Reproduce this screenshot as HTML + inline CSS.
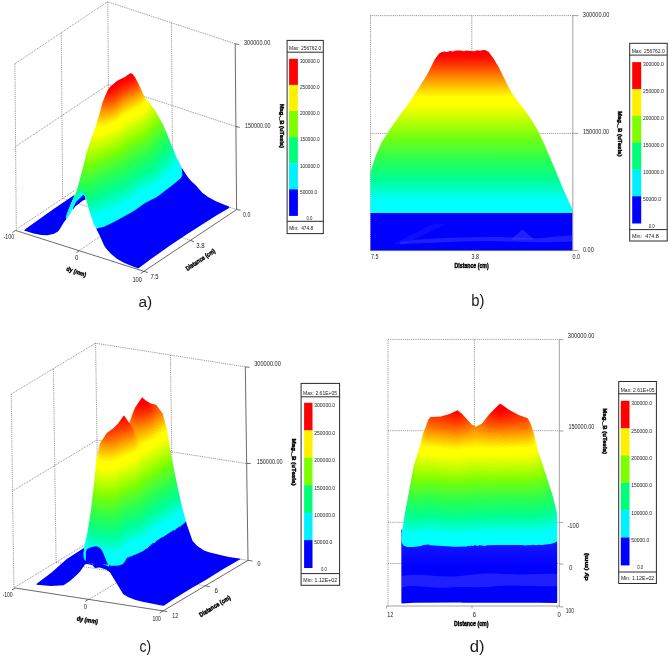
<!DOCTYPE html>
<html><head><meta charset="utf-8"><style>
html,body{margin:0;padding:0;background:#fff}
svg{display:block;will-change:transform}
text{font-family:"Liberation Sans",sans-serif;fill:#1a1a1a}
.bt{font-weight:bold;fill:#000;stroke:#000;stroke-width:0.4}
.d{stroke:#7a7a7a;stroke-width:0.85;stroke-dasharray:0.95 0.95;fill:none}
.s{stroke:#3a3a3a;stroke-width:0.75;fill:none}
.g{stroke:#8a8a8a;stroke-width:0.8;fill:none}
.cb{stroke:#2a2a2a;stroke-width:1;fill:none}
</style></head><body>
<svg width="669" height="657" viewBox="0 0 669 657">
<rect width="669" height="657" fill="#fff"/>
<line x1="14.9" y1="63.7" x2="107.6" y2="1.8" class="d"/>
<line x1="14.9" y1="63.7" x2="16.3" y2="229.4" class="d"/>
<line x1="61.3" y1="32.8" x2="62.6" y2="198.4" class="d"/>
<line x1="107.8" y1="1.8" x2="109" y2="167.5" class="d"/>
<line x1="15.6" y1="146.5" x2="108.3" y2="84.6" class="d"/>
<line x1="16.3" y1="229.4" x2="109" y2="167.5" class="d"/>
<line x1="107.6" y1="1.8" x2="235.2" y2="43.7" class="d"/>
<line x1="171.4" y1="22.7" x2="172.8" y2="188.4" class="d"/>
<line x1="108.3" y1="84.6" x2="235.9" y2="126.5" class="d"/>
<line x1="109" y1="167.5" x2="236.6" y2="209.5" class="d"/>
<line x1="79.6" y1="250.3" x2="172.2" y2="188.4" class="d"/>
<line x1="62.6" y1="198.4" x2="190.2" y2="240.3" class="d"/>
<mask id="cv1" maskUnits="userSpaceOnUse" x="0" y="0" width="669" height="657"><path fill="#fff" d="M138.6 268.2l-1 0-4.7-1.8-9-3.7-7-4-6.3-5.2-4.7-5.3-1.8-2.6-4.9-11.2-5.4-10.5-3.7-10.5-4-14.2-3.2 1.4-7 5.3-4.1 4.5-2.9 5.7-4.8 6-5.2 8.4-1.7 1.4-3.1 1.8-6.7 1.5-5.8-.2-8-1.6-9.6-2.8 1.5-1.5 28.8-20.7 17.1-11.3 4-2.9 2.3-6.8 9.9-38 8.1-23.3 4.2-14 2.2-8.5 3-7.7 3-6.3 2-2.8 7.5-6.4 5.3-2.3.5-.5 1.5-.4.6-.8 4.6-3.1 2 .3 2.8 3.5 3.3 5.8 6.6 14.5 4.2 4.7 5.4 7.3 6.3 11 2.2 4.2 3.5 8 10.2 25 6.5 12.3 5 7.5 2.5 3.2 5.4 5 6.5 7.3 2.3 1.7 3.3 2.3 7.8 4.3 14 5.9-1.5 1.3-11.3 6.7-30.2 19.2-17.6 11.8-17.7 12.5-13 9.6z"/></mask>
<g mask="url(#cv1)"><rect x="0" y="0" width="250.0" height="285.0" fill="#0000ff"/>
<path fill-rule="evenodd" fill="#00ffff" d="M78.4 239.7l.3-10.8-7.6-6.3-4.2-2.9-.6-.6-.6-2.2 9.4-22.3-4.2-4.1-23-16.7-47.8-33.3 0-140.4 249.8 0 0 128.8-8 5.6-45 24.5-9.3 5.6-5.2 2.6-.7.7.7 7.2-1.4 3-7.1 6-17 12.8-12.3 6.4-10.7 7.6-19 10.7-10.8 5.2-7.2 1.8-18.5 11.1zM80.2 215.9l3.5-11.5 2.3-5-.9-3.1-1.5-1.7-7.7 7.4-3.7 7.6 3.2 3.1 4.8 3.2z"/>
<path fill-rule="evenodd" fill="#00ffff" d="M78.6 236.3l-.3-2.7.5-4.7-6.7-5.5-5-5-.8-2.3 1.6-4.9 7.2-16.6-4.2-4.1-23-16.7-47.8-33.3 0-140.4 249.8 0 0 128.8-5.8 4.2-29.7 16.3-32.8 16.3-.6.7.6.2-.6.8.6 3.2 0 4-1.5 2.8-6.8 5.7-15.4 11.6-13.8 7.3-13.2 9.2-17.8 9.8-8.7 4.2-5 1.6-3 .5-17.8 9zM80.2 215.9l3.5-11.5 2.4-5-1-3.2-1.7-1.9-7.5 7.1-3.8 8.2 1.5 1.8 6.3 4.6.3-.1z"/>
<path fill-rule="evenodd" fill="#00ffff" d="M78.6 234.9l-.1-4 .6-4.4-10.4-8.1-1-1-.8-2.3 1.2-4.4 7-16.1-4.2-4.1-23-16.7-47.8-33.3 0-140.4 249.8 0 0 126.7-32 17-25 14-11.8 7.2-.6.6.5 4-.2 3.5-.9 2.6-1.4 1.7-19.1 15-9.5 5.4-5.8 2.7-5 3.4-1.1 1.2-8.4 5.5-16.5 9-10 4.7-7.5 1.6-.5.7-16.5 8.3zM80.2 215.9l3.5-11.5 2.4-5-1-3.2-2-2.3-1 .5-5.7 5.7-4.3 9.5 1.5 1.8 6.3 4.6.3-.1z"/>
<path fill-rule="evenodd" fill="#00ffff" d="M78.9 232.9l-.3-2 1-7.1-10.5-6.8-.7-.6-.9-2.8.6-2.7 7-16.5-4.2-3.9-23-16.7-47.8-33.3 0-140.4 249.8 0 0 126.6-32 17-25.5 14.4-11.8 5.8-.7.7.4 4-.4 4.3-1.5 2.7-6.6 5.8-14.9 11.2-1.3.3-1.7 1.4-.5-.1-2.8 1.4-5.7 3.3-.8 0-4.3 3-1 1.2-9.4 6.3-1.6.5-18.4 10.1-7.8 3.3-6.7 1.2-.5.6-15.5 7.8zM80.3 215.9l3.4-11.5 2.4-5-1.2-3.7-2.3-2.4-5.7 5.6-4.9 10.7 1.6 1.9 6.3 4.5.4-.1z"/>
<path fill-rule="evenodd" fill="#00ffff" d="M79.1 228.6l.8-7.7-10.8-5.3-1.1-3 .9-3.5 6.3-14.7-4.3-3.9-23-16.7-47.8-33.3 0-140.4 249.8 0 0 126.6-30.3 16.1-38.5 19.2-1.7 1.4.4 4.2-.8 4.5-.9 1.8-1.7 2-10.6 8.2-.4.8-1.8 1-.4.7-2.1 1.3-.6 1-4.4 2.7-1.2.3-1.5 1.2-1.3.3-1 1-5.7 2.6-1 .9-1.3.3-10.8 8.2-1.9.6-16.8 9.5-9.7 4.5-6 1.7-3.5.5-.5.5-14.8 4.9zM80.3 215.9l3.5-11.5 2.3-5-1.2-3.8-2.5-2.8-5.5 5.6-4.9 11.2 1.6 1.9 6.3 4.6.4-.2z"/>
<path fill-rule="evenodd" fill="#00ffff" d="M79.6 227.4l-.3-1 .5-1.8.1-4.6-9.8-4.8-.7-.6-.8-2.9.5-2.9 6.1-14.4-4.3-3.9-23-16.7-47.8-33.3 0-140.4 249.8 0 0 124.5-57.3 28.5-12.2 7.5-1.6 1.5.4.5 0 4.3-1 4.5-2.5 3.5-12.4 9.7-.3.8-1.9 1-.6 1-5.4 3.6-.7-.1-1.8 1.3-.5-.1-1.7 1.2-1 .2-1 1-1.5.3-3.8 2-11.5 8.6-25 13-6.7 2.4-7.5 1.6-12.8 5zM80.3 215.9l3.5-11.5 2.3-5-1.2-3.8-2.8-3.1-4.7 4.6-5.5 12.5 1.7 1.9 6.3 4.6.4-.2z"/>
<path fill-rule="evenodd" fill="#00ffff" d="M79.6 227.1l.4-8.2-9.4-4.7-.7-.6-.6-2.7.3-3 5.6-13.5-4.3-3.9-23-16.7-47.8-33.3 0-140.4 249.8 0 0 124.4-57.3 28.5-13.5 8.1-.7.8.1 4.7-1.4 4.5-2.7 3.3-11.3 9-.3.7-1.9 1-1 1.3-4.8 3.1-4 1.8-1.2 1.1-.8 0-1.7 1.3-4.8 2.1-11.7 8.6-1 .2-1.8 1.3-1 .2-1.7 1.3-18.8 9.6-6.2 2.2-7 1.5-.5.7-4.5 2.2-8.8 3.5zM80.3 215.9l3.5-11.5 2.3-5-1.2-3.9-3-3.4-4.3 4.2-5.7 13.3 1.7 1.9 6.3 4.6.4-.2z"/>
<path fill-rule="evenodd" fill="#00ffff" d="M80.1 224.3l-.3-1.4.3-5.1-9-4.5-.7-.7-.3-1.5-.3-2.7.6-2.2 4.8-11.8-4.3-3.9-23-16.8-47.8-33.2 0-140.4 249.8 0 0 124.4-71.3 35.7-.7.7 0 4.7-1.8 5-3.7 4-8 6.3-1.9 2-1.8 1-.4.7-6.2 4.1-1 .1-6 3.7-5.2 2.3-2.2 2.1-3.7 2.2-1 1.3-4.1 2.6-22.8 11.8-7.7 2.9-7.3 1.7-1.7 1.1-11.3 3.8zM80.3 215.9l3.5-11.5 2.4-5-1.3-3.9-3.3-3.8-3.7 3.7-6.1 14.2 1.8 2 6.3 4.5.4-.2z"/>
<path fill-rule="evenodd" fill="#00ffff" d="M80.1 223.1l0-7 3.7-11.7 2.4-5-.8-3-2.7-3.8-1.3-1.1-3 2.5-6.7 15.6.7 1.1 6.2 4.6-6.5-3.2-1.2-.1-.5-5.4 4.8-12.2-4.3-3.9-23-16.8-47.8-33.2 0-140.4 249.8 0 0 124.3-57.5 28.8-14.3 6-.6.7-.2 4.5-1.8 5-3.8 4.2-7.6 5.9-1.9 2.1-1.7 1-.4.8-6.5 4.2-12.2 6.2-.9 1.1-4.4 2.7-1 1.3-5.5 3.5-22.2 11.2-8.5 3.1-6.3 1.4-12.5 5z"/>
<path fill-rule="evenodd" fill="#00fff8" d="M80.6 221.1l-.5-.2.1-4.8 3.6-11.7 2.4-5.5-1.3-3.5-3.3-4-3.5 2.8-5.2 13.2-1.3 2.2.8 1.2 2.5 1.8-3.5-1.7-.6-2.3.3-3.2 4.1-10.5-.4-1-4.9-4.2-22-16-47.8-33.2 0-140.4 249.8 0 0 123-22.8 10.1-49.5 24.7-.7.7-.3 5.5-1.7 4-4.4 5-5.2 4-5.5 5-6.9 4.6-3.5 1.5-1 1-5.5 2.4-13.4 9.5-23.9 11.8-5.5 2-7.5 1.8-1 .7-11 3.7z"/>
<path fill-rule="evenodd" fill="#00ffef" d="M80.4 220.2l-.2-4.1 1.4-5.2 4.6-12-1.3-3.5-3.2-4-3.6 2.6-5.2 13.4-1.3 1.7.1-5.2 3.6-9-.5-1-4.9-4.2-22-16-47.8-33.2 0-140.4 249.8 0 0 123-35 15.5-37.8 18.7-.5.6-.5 4.7-1.8 4.3-4.4 5.2-5.3 4-4.6 4.5-2.6 1.5-1 1.3-4 2.3-.8-.1-1.7 1.5-.5-.2-3.8 2.3-1 .2-1.5 1.1-1 .2-4.7 3.1-1.3 1.6-7.5 4.7-16.2 8.4-5.8 2.4-11.2 4-3 .5-2.3 1.5-9.7 3.3z"/>
<path fill-rule="evenodd" fill="#00ffe6" d="M80.9 218.8l-.5 0-.1-2.7 1.3-5.2 4.7-12-1.4-3.5-3.1-4-.7 0-3 2.5-3.7 9.8-2.3 4.5-.4-1.6.3-2.7 3.3-9-.5-1-4.9-4.2-22-16-47.8-33.2 0-140.4 249.8 0 0 122.9-63.3 28.1-10 5-.5.5 0 2-.7 3.9-3.4 5.4-4.2 4.5-12.4 10.3-13.5 6.8-4.5 2.9-1.1 1.5-7.9 5.1-3 1.1-1.3 1.1-1 .1-5.5 3.2-11.5 5.2-11.7 4.1-3 .5-1.8 1.2-8.7 3.3z"/>
<path fill-rule="evenodd" fill="#00ffde" d="M80.9 217l-.5 0 0-1.1 1.2-5 4.7-12-1.4-3.5-3.3-4.2-3.5 2.7-5.6 13.2-.3-3 .9-3.8 2.2-5.4-.5-1-4.9-4.2-22-16-47.8-33.2 0-140.4 249.8 0 0 122.9-73.5 32.5-.7.9-.7 4.5-3.8 6.2-4.3 4.4-7.3 6.6-2 1-.8 1.3-14.7 8-.7-.1-1 1.1-2.8 1.5-1.2 1.5-4.3 2.5-1.2 1.2-13.3 7-19.2 8.1-7.5 1.9-1.8 1.2-8.2 2.7z"/>
<path fill-rule="evenodd" fill="#00ffd5" d="M80.9 215.2l.9-5.1 4.5-11.2-1.3-3.5-3.4-4.3-3.6 2.8-3.8 10-1.3 2-.2-3.3 2.6-7.7-.5-1-4.9-4.2-22-16-47.8-33.2 0-140.4 249.8 0 0 122.8-34.5 15.4-35.5 14-4 2-.6.6-.1 2-1.2 4-3.2 4.7-6 6.3-2.7 2-1.3 1.7-7.4 5.5-12.8 6.4-2.8 1.9-1.3 1.5-3.2 1.7-2.5 2.3-13.2 6.8-20.7 8.6-6.5 1.6-1.5 1.3-8 2z"/>
<path fill-rule="evenodd" fill="#00ffcc" d="M81.4 213.1l.2-2.2 2.2-6.5 2.5-5.5-1.3-3.5-3.3-4.3-3.7 2.8-3.9 10-1 1 0-3 2.3-7.3-.5-.7-5-4.2-22-16-47.8-33.2 0-140.4 249.8 0 0 122.8-30.8 13.7-40 16-3.5 1-.7.8-1 4.8-4.5 6.2-10.3 10.2-6.7 4.7-12 5.9-11 8.2-1 .2-10.8 5.7-17.5 7-3.2 1.7-15.5 4.1z"/>
<path fill-rule="evenodd" fill="#00ffc4" d="M81.4 212.7l2.4-8.3 2.5-5.5-1.3-3.5-3.3-4.3-3.8 2.8-3.5 9.2-.8.9-.3-2.1 2.1-7.8-1.8-1-3.7-3.4-34.3-24.7-35.5-24.5 0-140.4 249.8 0 0 122.2-61 24.2-13.8 6-.7.6-1 4.8-1.4 2.5-5.6 6.6-6.2 5.6-1.3 1.8-1.6.7-.2.8-5.7 3.5-2.8 1.2-1.5 1.2-.7 0-7.7 4.1-1.3 1.5-3 1.7-2 2-3 1.9-10.3 5.2-19 7.7-3.5 1.9-7 1.5-1.5 1.2-6.7 2.2z"/>
<path fill-rule="evenodd" fill="#00ffbc" d="M81.9 210.9l1.9-6.5 2.5-5.5-1.3-3.5-3.2-4.3-.7.1-3.2 2.7-2.4 6.5-1.6 2.7-.1-3 1.6-6.1-1.8-.9-3.7-3.4-34.3-24.7-35.5-24.5 0-140.4 249.8 0 0 122.1-71.5 28.7-3.5 1-.7.7-1.5 4.8-1.2 2-5 5.7-5.6 5.8-1 .5-1.2 1.7-7.5 5.3-.8 0-3.8 2.2-1.2.3-1 1-.8-.1-1.5 1.2-3.2 1.4-.7 1-4.1 2.5-1.6 1.7-8.1 4.7-.8-.1-1 .9-5.2 2.4-15.5 6.3-5.3 2.7-6.5 1.4-2.2 1.5-6 1.5z"/>
<path fill-rule="evenodd" fill="#00ffb4" d="M83.4 208.8l-.8 0 0-.7 3.8-9.2-1.3-3.5-3.2-4.3-.8 0-3.3 2.8-3.4 8.3-.3-2.1 1.3-6.1-1.8-.9-3.7-3.4-34.3-24.7-35.5-24.5 0-140.4 249.8 0 0 119.9-75.5 30.4-.8.5-1.3 5.2-1.7 2.8-8.6 8.7-3.6 4.3-.8.2-1.5 1.5-7.7 4.8-1 .2-1.5 1.1-5 2.3-6.3 4.1-2 2-7 4.2-.5-.1-10 4.9-13.7 5.5-3.8 1.9-8.5 2.5-.5.7-5.2 1.1z"/>
<path fill-rule="evenodd" fill="#00ffad" d="M83.1 207.7l-.2-.3 1-3 2.5-5.5-1.2-3.3-3.3-4.5-.8 0-3.2 2.7-2.5 6.5-.8.9 0-3.3.9-3-.1-1-1.8-.8-3.7-3.4-34.3-24.7-35.5-24.5 0-140.4 249.8 0 0 117-58.5 23.5-17.5 8.7-.7.6-.4 2.7-2.2 4.5-12.5 13.5-1.2.5-.2.8-2 1-1.1 1.2-12.7 6.8-.8 0-1 1.1-4.4 2.6-1.2 1.5-9.9 5.8-20.2 8.3-4.8 2.5-15.5 5z"/>
<path fill-rule="evenodd" fill="#00ffa5" d="M83.1 207.2l1.3-4.1 2-4.2-1.1-3.3-3.4-4.5-.8 0-3.2 2.6-2.9 6.7-.2-2.5.9-4.3-.8-1-4.3-2.2-35-25.4-35.5-24.5 0-140.4 249.8 0 0 116.9-55.5 22.3-10.8 4.5-10 4.9-.7.6-.4 2.1-1.4 3.1-1.4 2.1-8.2 8.3-3.7 4.5-5.2 4-1.7.6-6 3.6-5.5 2.5-4.6 3-1.2 1.5-6.7 4.4-9.2 4.1-11.6 4.6-7.5 3.7-5.5 2-4.7 1.2-.5.8-1 .5-3.8 1.3z"/>
<path fill-rule="evenodd" fill="#00ff9d" d="M84.1 205.1l-.2-.7 2.6-5.5-1.3-3.5-3.3-4.4-.8 0-3.2 2.6-2.5 5.6-.2-2.8.6-2.8-.9-1.1-4.3-2.1-35-25.4-35.5-24.5 0-140.4 249.8 0 0 116.9-52.5 21-17 7.2-7.3 2.5-.7.7-1 3.5-2.9 4.5-2.1 1.5 0 .5-5.8 5.7-4.2 5-5 3.8-1.3.2-4.7 2.5-1 1-5 2.1-4.3 2.9-1.5 1.6-7 4.5-1 .1-2.5 1.6-15.7 6.2-11.8 5.7-7.5 2-.5.7-3.5 1.1z"/>
<path fill-rule="evenodd" fill="#00ff95" d="M85.1 203.5l-.7 0 0-.4 2.1-4-.2-1.2-1.1-2.5-3.3-4.4-.8 0-3.3 2.6-2.2 4.7.3-4.7-1-1.1-4.3-2.1-35-25.5-35.5-24.4 0-140.4 249.8 0 0 116.8-55 22.2-22.3 7.3-.5.5-.9 3.5-1.7 3.2-8.7 8.5-3.2 4.1-3.4 3.4-8.3 4.8-.5-.2-6 3.6-.8 0-5 4-7.7 4.9-19.8 8.1-9.2 4.6-8.5 2.6-3.3 1.5z"/>
<path fill-rule="evenodd" fill="#03ff90" d="M84.9 202.4l1.6-3.8-1.3-3.2-3.3-4.5-.8.1-3.3 2.6-1.7 3.5-.2-4.1-5.3-2.6-35-25.5-35.5-24.4 0-140.4 249.8 0 0 114.2-73.5 29.2-4 1.9-.8.5-.6 3-2.1 3.7-8 7.8-4.4 5.5-2 1.5-.2.7-4.4 2.8-3 1.2-3.8 2.4-2.7 1-4.1 2.4-1.3 1.5-3.7 2.2-3.2 2.7-1.2.3-1.3.9-19.7 8-7.8 4-7.7 2.9-2.8.4-.7.9-2 .7z"/>
<path fill-rule="evenodd" fill="#07ff8b" d="M86.6 200.3l-.7 0 .8-1.4-1-2.8-3.8-5.2-.8 0-3.1 2.5-1.6 2.7-.3-3-.5-.2.5-.5-5.5-2-35-25.5-35.5-24.4 0-140.4 249.8 0 0 112.7-74 29.5-4 2-.7.6-.7 3.2-2.6 4-6.9 6.5-7.1 8.4-6.8 4.1-.7 0-5.8 3.3-3 1.2-9.5 7.3-22.7 9.4-11.3 5.6-7 1.7-.5.7z"/>
<path fill-rule="evenodd" fill="#0aff85" d="M87.1 198.4l-.5-.1-1.3-2.9-3.4-4.6-.8.1-2.5 1.8-1.7 2.4-.5-.7-.3-2.2-5.3-1.8-1.9-1.3-33.3-24.2-35.5-24.4 0-140.4 249.8 0 0 112.6-74.8 30-3.5 1-.7.5-.6 2.4-2.2 3.7-5.5 5.6-1.4.7-6.7 8.3-4.6 3.2-8.5 4.2-3.5 2.3-1.3.3-.9 1.2-3.9 2.3-1.3 1.5-3.6 2.2-18.8 7.6-2.2 1.4-12.3 5.5-3.2 1.3-3.3.5z"/>
<path fill-rule="evenodd" fill="#0dff80" d="M86.9 197.2l-.5-.1-4.5-6.3-2 .9-2.8 2.6-.7-2.8-8.5-3.1-32.3-23.5-35.5-24.4 0-140.4 249.8 0 0 110.4-65 26-13.8 6.3-.6.6-1.2 3.5-2.8 3.7-1.6 1.3 0 .5-1.1.5-1.3 1.7-1.6.8-.1.7-1.4.8-4.3 5.7-2.2 2.2-4.8 3-9.5 4.6-12 8.5-18 7.5-.5-.1-1 .8-14 6.5-6.2 1.6z"/>
<path fill-rule="evenodd" fill="#10ff7a" d="M86.9 195.9l-1 0-4-5.2-1 .2-3.5 2.5-.6-2.5-.7-.5-8.2-2-32.3-23.5-35.5-24.4 0-140.4 249.8 0 0 110.4-65 26-8.3 3.7-6.5 2.1-.5 2.1-2.7 4.2-2.4 2.5-1 .5-1.2 1.8-3.3 2.2-3.9 5.3-3.1 3-6.1 3.7-9.4 4.8-9.6 7-16 6.4-1 .8-.5-.3-8.8 4.5-5.5 2.2-1 .9-7.2 2z"/>
<path fill-rule="evenodd" fill="#13ff75" d="M86.4 194.7l-1.3 0-3.2-4-.8 0-3 2-1.2-3.1-13-4.2-28.3-20.5-35.5-24.4 0-140.4 249.8 0 0 108.5-75.5 30-4 2-.7.5-.4 2-1.7 3-3.5 3.9-2 1.5 0 .6-3.1 2-.1.8-1.3.6-2.4 3.6-3.8 3.8-5.5 3.3-9.5 4.7-9.7 7.2-14.6 5.7-2.4 1.6-.8-.1-16.5 7.9-6 1.5z"/>
<path fill-rule="evenodd" fill="#16ff6f" d="M85.6 193.7l-1.2-.2-2.8-3-2.7 1.4-.9-.8-.6-2.1-1.3-.6-12.2-3-28.3-20.5-35.5-24.5 0-140.3 249.8 0 0 108.3-80.5 31.9-.9 2.8-1.7 2.5-4.1 4.3-2.2 1.5-.1.7-2.8 2-4 5.3-5 3.9-12.5 6.4-11.7 8.1-6.5 2.3-7.3 3.4-.5-.1-17 8.3-7.5 2z"/>
<path fill-rule="evenodd" fill="#19ff6a" d="M84.9 192.4l-1.8-.6-1.2-1.3-1.8.7-1.2-.6-.9-1-.3-2.2-1.1-.6-10.7-2.6-6.5-2.1-28-20.2-31.3-21.5 0-140.3 249.8 0 0 103.2-65.5 28.5-14.8 7.2-3 5.3-6.3 6.3-1.5.8-.1.7-1.3.7-3.7 4.8-3.6 3.3-15.2 8.1-2.4 2.1-8.1 5.3-6.5 2.3-6 2.9-.8 0-18.5 8.9-7.7 1.9z"/>
<path fill-rule="evenodd" fill="#1cff64" d="M85.4 191.2l-2.5-.8-1.9 0-2-1-.6-.9-.4-2.1-1.1-.6-19.3-4.9-26.2-19-31.3-21.5 0-140.3 249.8 0 0 103.2-80.5 34.9-.8.5-2 4.2-11.2 10.5-3.6 4.7-1.7 1.4-15 7.9-10.7 7.6-12 4.7-20 9.7-7 1.8z"/>
<path fill-rule="evenodd" fill="#20ff5f" d="M85.6 189.9l-2.2-.7-.5.3-1.9-.4-2-1.2-.7-2.5-1.2-.7-22-5.6-23.7-17.2-31.3-21.5 0-140.3 249.8 0 0 103.1-40.3 17.4-36.7 14.5-4 2-3.3 5.3-.7.3-5 5.4-2.9 2-.1.8-1.7 1.2-3.1 4-3.5 3-13.2 6.8-11 7.7-6.8 2.4-3.5 1.9-.5-.2-4 2.3-5 1.9-8 4.2-.5-.2-1.2 1-4.3 1.7-5 1.3z"/>
<path fill-rule="evenodd" fill="#23ff59" d="M86.4 188.4l-5.3-.5-.5-.7-1.5-.6-.5-2.2-1.2-.6-23.9-5.9-22.1-16-31.3-21.5 0-140.3 249.8 0 0 103-34 14.8-43.8 17.5-4.2 1.3-2.4 4.4-1.8 1.3-.1.7-9.4 8.5 0 .5-3.6 4-3.2 2.4-12.3 6.1-11 7.7-8 2.9-4 2.3-3.7 1.3-.8.7-4.8 1.9-4.4 2.5-.8 0-4.7 2.7-.5-.3-1 .9-5 1.2z"/>
<path fill-rule="evenodd" fill="#26ff54" d="M87.4 186.9l-3.5.1-1-.4-.8.3-2.1-1.3-1.2-2.2-1.2-.7-29.2-8.6-48.3-33.7 0-140.3 249.8 0 0 102.6-81.8 32.6-2.1 3.6-2.4 2.2 0 .5-1.1.5 0 .5-2.9 2.5 0 .5-2.7 1.8-.1.7-3.6 3-.1.8-4.3 4.2-13.9 7.2-10.8 7.7-6.7 2.4-7.3 3.7-7.7 3.1-2.3 1.4-1 0-3.7 2.5-.5-.2-4 2-3.5 1z"/>
<path fill-rule="evenodd" fill="#2aff4f" d="M86.9 185.7l-2-.3-.5.3-1-.5-1.5.4-.1-.5-2.2-1.4-.5-1.4-12-2.9-19.5-5.8-16.2-11.7-31.3-21.5 0-140.3 249.8 0 0 101.4-82.8 33.2-1.3 2.9-2.1 2-.1.7-1 .3-.1.8-.9.3-3.5 3.2 0 .5-1.3.7-.1.5-2.6 2.3-.2.7-1.6 1-.2.8-4.7 4.2-12.5 6.3-10.4 7.5-7.6 2.9-5.8 3.1-.5-.3-1 1-8.7 3.5-4 2.4-.5-.2-1.3 1.2-8.2 2.7z"/>
<path fill-rule="evenodd" fill="#2fff4b" d="M86.9 184.4l-3-.4-2 .2-.1-.6-2.2-1.5-.2-1.5-1-.5-33.3-8.3-45-31.4 0-140.3 249.8 0 0 100-82.5 33.1-.8.6-1.6 3.3-1.6 1.8-.7.2-.1.8-1.2.5-.1.7-2.1 1.3-1.6 2-.9.2 0 .8-1 .5-1.8 2.2-1.8 1.3-.2.7-.8.3-1.7 2.2-2.2 1.8-12.3 6.1-11.3 7.9-6 2.2-2.2 1.6-.8-.2-12.7 5.7-1 1-.8-.2-1.7 1.4-.8-.1-3.2 2.1-4.3 1.8-3.2.7z"/>
<path fill-rule="evenodd" fill="#35ff47" d="M87.9 182.9l-3.3.1-2.5-.5-2-1.5-.3-1.4-1.2-.5-35.9-9-42.6-29.7 0-140.3 249.8 0 0 99.8-79.3 31.7-4.2 1.2-1.2 2.6-2.5 3-1.1.4-.2.8-1.2.5-.3.8-.8.2-3.6 3.3-.9 1.5-2.4 2-.1.7-.8.3-.2.7-4.7 3.6-11.7 5.9-11.3 8.1-4 1.8-.8-.2-.7.8-12.3 5.1-3.5 2-.7-.1-1.3 1.1-1.2.2-1 1.1-2.8.8-1.2 1.1-.5-.2-2.3 1.4-3.2.8z"/>
<path fill-rule="evenodd" fill="#3aff43" d="M87.6 181.7l-5.2-.3-2.5-2.4-2-.1-35-8.8-42.8-29.7 0-140.3 249.8 0 0 94.7-43.8 18.7-24.7 11-14.8 7.2-.7.5-.9 1.9-2.4 2.9-1 .3-.2.8-1 .4-.3.9-1.2.5-2.5 2.7-1 .5-2.5 3.2-1.6 1.1-.2.8-1.4.4 0 .8-5.6 3.8-11.7 5.9-6.9 5.3-3.8 2.2-2.1.5-11.2 5.5-4.5 1.7-.8.7-2.5.7-1.5 1.2-5.7 2.8-5.8 2z"/>
<path fill-rule="evenodd" fill="#40ff3f" d="M88.1 180.2l-5.5-.2-2.2-2.2-1.3-.6-10.7-2.5-31.5-9-36.8-25.3 0-140.3 249.8 0 0 94.7-43.8 18.6-26.5 12-13.5 5.2-3.5 4.9-2 1.4-.2.7-1.4.5-.1 1-1.4.5-1.1 1.1-.1.7-1.2.4-2.2 3.1-.8.3-.1.7-2.1 1.2 0 .8-1.7.7 0 .8-15.8 8.2-2.3 2-9 5.9-1.7.8-.5-.2-.8.7-2 .6-5.2 2.7-9.3 3.7-1 1-.7 0-1.3 1.1-1 0-1.2 1.1-4.3 1.6-.7.8-3.3.8z"/>
<path fill-rule="evenodd" fill="#45ff3b" d="M88.6 178.9l-5.7 0-2-2.1-.8-.2.5 0 .1-.7-1.1-.5-44.7-11-34.8-24 0-140.3 249.8 0 0 94.6-37 16-47.8 19.3-1.1 2.6-1.4 1 0 .5-.7.3-.4.7-.9.4-.1.6-1.2.5-.1.8-1.7.7-.1.8-2.4 1.7-3.9 4.8-.9.2-.2.8-1.5.5-.1 1-16 8.4-12 8.3-.5-.2-.8.7-.7 0-3.8 2.1-5 1.8-4.7 2.5-.5-.3-1 1.1-.5-.2-7.3 4-7 2.8z"/>
<path fill-rule="evenodd" fill="#4bff37" d="M89.1 177.4l-4.7.2-4.8-2.5-45.7-11.2-33.8-23.5 0-140.3 249.8 0 0 88.8-47 20.7-37 18.5-4.2 5.5-1.1.5-.2.8-1 .2.1.8-1.6.5-.1 1-1.6.5-.2.7-1.1.7-3.8 4.6-.8.2-.2.8-1.3.5-.1.7-5.1 3.2-3 1.2-1.2 1.1-.5-.2-1.8 1.3-.7-.1-1.3 1.3-.7 0-1.8 1.2-.5-.2-3.5 3.1-3.8 2.1-.5 1-1.8 1.3-1.1-.1-1.3 1-6 2.7-.5-.1-2.5 1.5-.2-.3-5 2.6-.5-.1-1 .8-2.5.7-1 .9-.6-.1-.9 1-.8 0-3.5 2.1-6 2.4z"/>
<path fill-rule="evenodd" fill="#50ff32" d="M87.6 176.2l-4 0-2.3-2.3-1.2-.6-50.5-12.5-29.5-20.4 0-140.3 249.8 0 0 88.7-47 20.8-37.3 18.6-1.2.1-2 3.1-1.7 1.2-.2.8-1 .2.1.8-1.2.3-.2.9-1.8.7-.1.8-1.5.8-4.7 5.5-1.1.5-.4.9-1.7.6-.8 1.5-1.7.2-1.5 1.4-.8-.1-1.2 1.1-3 .9-1.3 1.4-1-.2-1.5 1.4-.5-.3-1.5 1.4-.8 0-1.2 1.5-3.5 1.8-1 1.5-4.3 2.7-.7-.2-1.5 1.2-.5-.2-.7.8-.5-.2-3.8 2-9.2 3.7-.8.8-.5-.2-1.2 1-.5-.2-.8.8-1 .1-1 1-1.2.2-4.5 2.6-.5-.2-1 .9-3.8.7z"/>
<path fill-rule="evenodd" fill="#54ff2c" d="M86.9 174.9l-3.3-.2-2-2.1-8-2.6-47.9-11.9-25.6-17.7 0-140.3 249.8 0 0 88.7-70.5 31.2-15.5 7.6-2.4 3.3-1.8 1.2-.1.8-1.2.5 0 .6-1.6.6-.2 1-1.7.5-.1 1-1.1.5-3.6 4.4-1 .4 0 .7-1.5.5-.2 1-3 1.8-1.3.1-1.2 1.3-.5-.3-1.5 1.2-.8-.1-3.5 2.3-.7-.2-1.5 1.2-.5-.1-1.5 1.4-3.5 1.9-1 1.5-6.5 4.1-.8-.1-13.5 6.4-.7-.1-.8.9-.7 0-2.5 1.4-.8 0-6.7 3.9-.5-.2-3.8 1.7-2.7.3z"/>
<path fill-rule="evenodd" fill="#59ff27" d="M88.4 173.4l-4.5 0-1.8-2.5-1.2-.6-58.5-14.5-22.3-15.4 0-140.3 249.8 0 0 88.6-72.3 32.2-13.5 5.2-2.5 3.3-1.8 1.2 0 .8-2.7 1.7 0 .8-1.8.5 0 1-1.7.7-2.7 3.6-1.6 1.2-.1.7-1.4.5 0 .8-4.7 2.8-.5-.1-1.7 1.2-.5-.2-3.8 2.5-.5-.2-3.5 2.3-.7-.1-3.1 2-1.1 1.5-4.9 2.8-2.9 2.2-5.3 2-.7.8-.5-.3-2.3 1.5-1.7.3-2.3 1.6-.7-.3-1 .9-2 .6-1.3.9-.5-.2-1 .9-.5-.2-3.2 2.1-.5-.2-1.3 1.1-6.7 2.3z"/>
<path fill-rule="evenodd" fill="#5dff21" d="M87.9 171.9l-3.5-.1-2-2.3-62-15.3-20.3-13.8 0-140.3 249.8 0 0 88.6-46.5 20.6-35.5 14-4 2-4 4.1-.1.5-.9.2-.3.9-1.1.4-.1.8-1.6.7-.1.7-1.9.8 0 1-1 .2-1.3 2-2.2 1.8 0 .7-1.3.5-.1.8-2 .7-.7 1.3-.8-.3-2.3 1.9-.5-.3-3.5 2.3-.5-.2-1.5 1.2-1 .1-1.2 1.3-.8-.1-1.5 1-.5-.2-1 .8-.3 1-5 2.7-.5 1.3-2.4 1.5-1.3.5-.5-.2-1.2 1.3-.8-.1-2 1.1-2 .5-6.2 3.1-.5-.2-1 .9-2.3.6-1 1-.5-.2-1 .9-2.2.6-4.8 2.8-2 .9-.5-.2-.7.9-3.5.3z"/>
<path fill-rule="evenodd" fill="#62ff1c" d="M86.9 170.6l-2.3-.1-2-2.2-2-.1-63-15.8-17.5-12 0-140.3 249.8 0 0 80.7-86.5 43.3-2.8 3.5-.7.3 0 .5-2.2 1.5-.1.7-1.4.5-.3 1-1.6.5 0 1-1.3.5-.2.8-.7.2-2.1 2.8-1.9 1.2 0 .7-1.5.6-.3 1-2.9 1.8-.5-.5-1.5 1.3-.5-.2-1.5 1.2-.5-.2-1.5 1.3-.8 0-1.5 1.2-.7 0-1.5 1.2-.5-.2-2 1.7-3.9 2.1-1 1.5-5.1 3.2-1.3.2-10.2 4.8-.8 0-1 1-.5-.2-5.7 3-.8-.1-.7.8-.5-.2-5 3-.5-.1-3 1.3-3.5.3z"/>
<path fill-rule="evenodd" fill="#67ff17" d="M86.1 169.2l-1.2-.1-1.5-2.3-1.5-.6-68.8-17-13-8.8 0-140.3 249.8 0 0 80-87.5 43.6-2.6 3.4-2 1.3 0 .7-1.4.5 0 .8-1.6.5-.1 1-1.7.5-.1 1-.8 0-.2.9-2.8 3-.8.3-.1.8-1.3.5 0 .7-2.5 1.1-1.3 1.1-1.2.2-1.3 1.1-.5-.2-1.7 1.2-.5-.1-1.5 1.4-2.3 1.1-.5-.2-1.5 1.3-1.2.3-3.1 2-.7 1.2-4.5 2.5-3.5 2.7-.5-.2-1 .8-.5-.2-4.7 2.4-1.8.4-2.5 1.5-2.5.7-.7.8-.8 0-.7.8-.8-.1-.7.8-.8-.1-.7.7-2.3.6-1.2 1.1-.5-.2-3 1.8-3 .9-4.3.4z"/>
<path fill-rule="evenodd" fill="#6cff12" d="M89.1 167.6l-3.5.1-2.2-2.6-1-.5-6.8-1.5-34.7-10.1-36.5-9.7-4.3-2.9 0-140.3 249.8 0 0 73.5-55.3 30-28 15.9-4.2 2.9-2.6 3.2-1.8 1.3-.2.7-1.1.3-.1.9-1.5.5 0 .8-1.6.5-.2 1-1 .3-.2.8-2.9 2.7-.9 1.5-1.2.4-.2.8-11.5 6.6-.5-.3-1.5 1.2-.8-.1-1.5 1.4-.5-.2-1.3.7-.9 1.5-4.9 2.7-.3 1-1.5 1-1.3.8-.5-.4-1.5 1.3-.5-.3-1 .8-7 2.7-2.8 1.7-.5-.2-13.7 6.9-3.8.7z"/>
<path fill-rule="evenodd" fill="#73ff0d" d="M88.1 166.1l-2.5.1-1.7-2.4-42-10.4-37.5-10.3-4.3-2.7 0-140.3 249.8 0 0 73.4-87.8 48.2-1 .7-1.2 1.8-.8.2-.2.7-.8.3-.1.7-1.1.3 0 .7-1.4.5-.1 1-1.5.4 0 .9-1.5.5 0 .7-.8.3-.2.9-.8.1-2.2 3-1 .2-.3.9-1.5.6-.3 1-1.9 1.3-3 .9-1.3 1.2-.7-.1-1.5 1.2-.8-.2-3.5 2.3-.7-.1-2.3 2-4.5 2.5-.9 1.5-4.1 2.4-3.7 1.8-.5-.2-3.3 1.8-2 .4-.7.9-.5-.4-1.3 1.2-2.2.5-6.8 3.7-.5-.3-1 .9-.7-.1-3 2-2.8.8-3 .1z"/>
<path fill-rule="evenodd" fill="#7aff09" d="M87.6 164.9l-1.7-.2-1.6-2.6-1.2-.6-9.7-3.2-73.3-20.2 0-138 249.8 0 0 73.3-73.8 40.5-14 7-1.2.2-1.2 1.8-1.6 1 0 .7-1 .3 0 .7-1.3.5-.2.9-1.5.4 0 1-1.6.5.1.7-.9.3-.1.7-1 .2 0 .8-2.2 1.8 0 .5-2.3 1.5-.2 1-3.8 2.3-.5-.3-1.5 1.2-1 .1-1 1-.7-.2-1.3 1.2-1-.1-1.2 1.3-.8-.1-1.5 1-.5-.2-1.2 1.2-3.5 2.1-.7 1.2-4.6 2.6-2.2 1.9-.5-.2-3 1.2-4.8 2.5-.7-.2-2.5 1.7-.5-.3-1 1-.8-.1-.7.8-2.3.5-8.7 4.5-5.8.9z"/>
<path fill-rule="evenodd" fill="#80ff04" d="M88.9 163.4l-2.5-.1-1.8-2.4-12-2.7-30.7-9-41.8-11.2 0-137.9 249.8 0 0 66.2-74.3 43.4-14.7 9.9-1.3 1.8-1.5 1.2 0 .5-2.1 1.5-.1.8-1.3.3-.1.9-1.6.5-.1 1-.9.3-.3.7-.7.1-.3.8-.8.1.1 1-3.6 2.8-.1.7-3.1 1.5-1.7 1.6-.8-.1-1.2 1.1-.8-.1-1.2 1-.8-.1-1.5 1.4-.5-.2-1.7 1.3-.5-.2-1.3 1-1 .1-2.2 1.5-.8 1.5-4.3 2.2-4.7 3.4-2 .4-4.7 2.5-.5-.3-1 1.1-.5-.4-2.7 1.8-.6-.1-1.2.9-.3-.3-2.5 1.6-.5-.3-.7.8-2.3.6-4.2 2.5-5.5 1.1z"/>
<path fill-rule="evenodd" fill="#87ff00" d="M88.1 161.9l-1.5 0-1.5-2.6-1.2-.6-83.8-20.8 0-137.8 249.8 0 0 66.2-85.3 49.7-4.9 3.4-1.6 2.3-1.9 1.4-.2.8-1.1.2-.2.8-1.3.6-.2.9-1.2.5-.1.7-.8.3-.1.5-.9.2 0 .8-1 .3-.2.9-2.5 1.8-.1.7-1.4.5-.6 1.3-2.4.7-1.3 1.1-.7-.1-5.8 3.4-.5-.2-1.5 1.3-.7 0-2.1 1.3-.3.7-5 2.8-.8 1.5-3.8 2.2-.8-.2-3.7 2.2-1.5.3-1 .8-2.5.7-.8.8-.5-.3-1.2 1.1-.5-.4-1 1-.5-.1-3.8 2.1-4.7 1.7-3 1.9-5.8.7z"/>
<path fill-rule="evenodd" fill="#8eff00" d="M88.9 160.4l-1.8 0-1.6-2.8-1.1-.5-10.8-2.6-30.7-9-42.8-11.4 0-134 249.8 0-.3 66.3-84.2 49.3-6.3 3.1-1 1 0 .6-1.7 1.1-.3.8-1.1.3 0 .8-1.4.5 0 .8-1.5.5-.9 1.9-.8.1-.2.7-.9.2-.1.8-1 .2.1.8-1.8 1-.4 1-1 .2-.4 1-3.1 1.8-.7-.1-1.3 1.1-.7-.1-1.3 1.1-.7-.1-3 2.1-1 0-1.8 1.5-.5-.2-1.6 1.4-3.7 2-1 1.5-5.4 3.5-2.5.6-3.3 1.8-.5-.2-1.2 1.2-.5-.4-1 1.1-.5-.4-4.3 2.5-.5-.2-5.2 2.6-1.8.4-2.7 2-6 .8z"/>
<path fill-rule="evenodd" fill="#94ff00" d="M89.6 158.9l-2.2 0-1.4-2.3-1.4-.6-40.7-10.1-43.8-11.9 0-133.9 249.8 0 0 66-58.5 31.8-28 15.9-4.6 3.6 0 .5-1.6 2-2 1.2-.1.8-1.2.4 0 .8-1.5.5 0 .8-1.9 1.2-.1.8-.9.2 0 .8-.9.1-.2.9-.9.2-1.1 1.6-1.1.4.1.8-2.5.9-4 2.7-.8-.2-3.5 2.4-.5-.1-3.7 2.3-.8 0-2.8 1.7-.8 1.5-5.8 3.3-2.6 2-.5-.3-2 1.4-.7-.2-.5.7-.5-.4-1 1.1-.5-.2-2.8 1.7-2.2.6-1 1-.5-.2-1 .9-.3-.4-8.2 4.1-6.3 1.2z"/>
<path fill-rule="evenodd" fill="#9bff00" d="M90.1 157.4l-2.5 0-1.4-2.8-1.1-.5-85-21.3 0-132.7 249.8 0 0 65.9-58.5 31.8-28 15.9-5.2 3.2-.9 1.5-1.9 1.2-.1.8-1.2.5 0 .6-1.3.4-.1 1-1.1.2-.2.9-1.7 1.1 0 .8-.8 0-.3 1-.8 0-.1 1-1.1.1-.2.9-.9.2-.1.8-1.6.5-.6 1.2-1.8.3-5.3 3.3-.7-.1-1.5 1.3-3 .9-1.5 1.4-.9-.1-.7 1.3-5.2 3-.5 1.2-3 2-.7-.3-5 2.6-1 .1-1 .8-.5-.3-1 1.1-.5-.2-1 .8-.5-.2-1 1-.8-.1-5 2.6-4.5 1.5-1.2 1.2-.5-.4-1 .6-3.8.5z"/>
<path fill-rule="evenodd" fill="#a2ff00" d="M90.6 155.9l-2.2.2-1.8-2.8-8-2.6-78.5-21.9 0-128.7 249.8 0 0 65.8-63.5 34.7-28.3 14-.5.5.3.3-.6 1.5-1.7 1.2-.1.8-1.1.2 0 .8-1.3.5-.1.7-1.4.5-.1 1-.6 0-.3.8-.6 0-.1.8-.8.2-.2.8-.9.2 0 .7-1.1.2-.2 1.1-2.4 1.2-.2 1-2.5 1.5-1.2 0-1.3 1.2-2.9 1.1-1.1 1.1-.7-.2-1.5 1.2-.5-.2-1.5 1.3-1.3.3-1.3 1.2-4 2.3-1 1.5-4.7 2.9-1.2.3-2.3 1.4-.5-.3-1 1-.2-.6-2.5 1.7-3.8 1.3-1.2 1.1-.3-.3-1.2.9-.5-.2-.8.8-.5-.3-2 1.4-2 .4-2 1.3-6 1.2z"/>
<path fill-rule="evenodd" fill="#a8ff00" d="M89.1 154.6l-.6-.2-1.4-2.5-1.2-.6-33.8-8.3-52-14.3 0-128.6 249.8 0-.3 61.9-73.2 40.5-14.5 8.5-4.9 3.4 0 1-.6 1-.7.2-.2.8-.9.2-.1.8-1.1.3-.2.9-1.2.3-.2 1-1 .2-.8 1.5-1.8 1.3.1.7-.9.1-.3.9-1.2.3-.3 1.1-1 .1-.2.8-6 3.5-.8-.1-1.2 1.2-.5-.3-1.8 1.5-.5-.3-1.2 1.1-1 .1-1.5 1.4-1-.1-3.3 2.2-1 1.5-4.5 2.4-2.7 2.3-.5-.3-2.5 1.4-2 .4-2.5 1.8-.8-.2-.7.8-.5-.1-1 .8-2.3.6-.7.7-2 .5-3.3 1.7-.7 0-2 1.3-6.8.9z"/>
<path fill-rule="evenodd" fill="#afff00" d="M91.9 152.9l-3 .2-1.4-3-1.1-.5-10.8-2.6-75.5-21.8 0-125.1 249.8 0-.3 61.8-71.5 39.8-21.2 10.6-.6.6 0 1.7-.7 1.3-.8.2-.2.8-1 .2-.2.9-1.2.4-.1.7-1.2.5-.1.8-2.2 1.7-.2 1-.8.1-.2.8-1 .1 0 1-1.5.3-.2 1-2 .7-.3.9-.8-.1-2.2 1.8-.5-.2-1.3 1-.7 0-1.3.9-.7 0-1.5 1.4-1.1.1-1.2 1-.5-.2-1.5 1.2-1.9.7-.9 1.5-4.9 2.8-.5 1-1.8 1.2-1 0-3 2-.5-.6-1 1.2-.5-.4-1 1-.5-.2-1 .7-.7 0-.8.8-.7-.1-2.5 1.5-.5-.1-.8.8-.5-.3-.7.8-2 .4-.8.8-.7-.1-3.3 1.8-.5-.2-4.2 1z"/>
<path fill-rule="evenodd" fill="#b6ff00" d="M90.4 151.7l-1.3-.4-1.2-2.6-87.8-29.1 0-119.5 249.8 0 0 55.7-31.8 18.4-61.7 37.2-.7.7-.1 2.3-.7.2-.3.9-.9.1-.1.9-1.2.4 0 .7-1.3.3 0 1-1.6 1-.1.7-1.6 1-.2.8-.8.2 0 .8-1.5.2-.1 1.3-1.8.5-.3 1-2.5 1.5-.5-.3-1.5 1.2-.5-.3-1.5 1.2-.5-.3-3.7 2.7-.5-.3-1.5 1.1-.8-.1-2.2 2.1-4.5 2.5-1.2 1.7-3.8 2.3-.8 0-1.2 1.1-.8-.4-.7.8-.8-.1-1 .8-.2-.3-1 1-.5-.3-1 1.1-.5-.4-1 1.1-.8-.2-.7.8-2.3.6-5.7 2.8-.8-.1-3.2 1.3-4.5.7z"/>
<path fill-rule="evenodd" fill="#bcff00" d="M90.4 150.1l-1.2-.7-.8-2.3-1-.5-13.3-4.2-23.2-8.9-50.8-18.2 0-115.2 249.8 0 0 55.6-90 51.8-4.8 3.4.1 1.7-.5 1.3-.8.2-.1.8-.9.2-.3 1-1.2.3 0 .8-1.8 1.2-.9 1.5-.8.2.1.8-.9.2-.1.8-.9 0-.2 1-1.9.5 0 1.2-1.8.5-4.3 2.7-.5-.2-3.5 2.3-.8-.1-1.5 1.3-.5-.1-2.5 1.2-4.3 2.9-1.1 1.5-6.6 4.2-.5-.5-1.2 1.3-.5-.3-1.5.7-.8.7-3.7 1.3-1 .9-.3-.3-1 .7-.5-.1-1 .9-.5-.2-2.2 1.5-1.8.2-2 1.2-7.7 1.3z"/>
<path fill-rule="evenodd" fill="#c3ff00" d="M90.9 148.6l-1-.2-1-2.5-40-13-48.8-17.7 0-115.1 249.8 0 0 55.5-83 47.8-12.5 6.1.2 2.6-.6.5 0 .8-1 .2-.1.8-1 .3-.3.9-1.2.5-.7 1.5-1.6.9 0 .8-.7.2-.3.9-.7-.2-.3 1.1-1.2.1-.1 1.2-1.9.4-3.8 3-.7-.2-3.3 2.3-.5-.3-1.7 1.3-.5-.2-3.8 2.5-.5-.3-2.2 1.5-1 1.5-4.6 2.5-2.2 2-.7-.1-1.8 1.6-.5-.3-1.2.8-.5-.2-2.3 1.6-.6-.4-.9 1.1-1.7.3-1 .9-.5-.2-6.3 3-3.5 1.2-5.7.7z"/>
<path fill-rule="evenodd" fill="#caff00" d="M91.1 147.2l-.8-.3-.7-2.5-3.7-1.8-85.8-32.1 0-110.4 249.8 0-.3 37-80.7 58.5-11.3 9-3.7 3.8-.1 3.5-.8 1-1.1.5-.2.7-1.1.3-.2 1-2.8 2.5-.2.7-.8 0-.1 1-1.1 0 0 1.2-1.8.3 0 1.3-3.5 1.9-.7-.2-1.3 1.1-.5-.3-1.5 1.5-.7-.3-1.3 1.3-.5-.5-1.7 1.6-.5-.4-1.5 1.6-.8-.3-2.1 2-4.6 2.2-.7 1.8-5.1 2.9-.7-.4-1 1.2-.8-.1-.7.7-2 .5-1 .8-.5-.1-2.5 1.4-1.8.3-1 1-.5-.3-.7.9-.5-.3-3.5 2-8.3 1.3z"/>
<path fill-rule="evenodd" fill="#d0ff00" d="M91.6 145.6l-1-.2-.7-2.6-13.3-5.7-76.5-28 0-109 249.8 0-.3 36.9-83.2 60.5-13 10.5-.3 3.4-2.3 1.5 0 .7-1.7 1.3-.7 1.4-.7.1-.9 1.5-.9.2-.3 1-1.1 0-.2 1.3-2.9 1-2.3 2.2-.7-.3-1.5 1.2-.3-.5-1.5 1.6-.5-.5-1.7 1.6-.5-.6-1.5 1.6-.8-.3-1.5 1.6-.5-.7-1.1 1.3-2.6 1.3-.3 1.5-5.4 2.5-3.3 2.7-.5-.4-1 1-.5-.2-2.3 1.5-.5-.3-1 .9-.5-.2-1 1.1-.5-.3-.7.8-.5-.2-7.5 3.3-7.3 1z"/>
<path fill-rule="evenodd" fill="#d7ff00" d="M92.9 144.1l-1.5 0-.8-2.5-1.2-.6-17.8-5.8-12.7-5-58.8-21.2 0-108.9 249.8 0-.3 36.9-83 60.3-10.7 7-3.3 3.1.2 2.2-.7 1.4-1.1.4.1.7-1.2.3-.1.7-2.7 2.6-.2.8-.8.1-.1.8-.9 0-.2 1.2-1.7.3-.5 1.5-2.6 1.6-.7-.7-1.5 1.7-.5-.6-1.5 1.5-.5-.5-1.5 1.5-.5-.4-1.5 1.4-1-.2-1.3 1.4-.5-.3-1.7 1.6-.5-.4-.4 1.4-4.9 2.2-.7 1.8-4.5 2.5-.5-.4-1.3 1.2-.5-.1-2.5 1.3-.5-.1-.7.7-2 .5-1 .9-1.8.2-1 1-.5-.2-.7.7-.5-.3-2.3 1.4-7.7 1.4z"/>
<path fill-rule="evenodd" fill="#deff00" d="M93.4 142.6l-1.5.1-.9-2.6-1.1-.6-58.3-19.2-31.5-11.4 0-108.8 249.8 0-.3 36.8-79.7 58-17.8 11.7-.1 2.5-.8.8 0 .7-1.2.3.1.7-2.2 1.9-.8 1.4-.7.1-.3.9-.7.2 0 .7-1.5.3 0 1.1-2.4.7-2.6 2.1-.5-.4-1.5 1.5-.5-.5-1.3 1.4-1-.1-1.5 1.5-.5-.6-1.5 1.6-.5-.3-.7.3-1 1.3-.5-.7-1.3 1.4-2.7 1.2-.3 1.5-5.2 2.5-3.3 2.8-.5-.6-1 1.2-.5-.5-.7 1.1-.5-.4-1 .9-.3-.4-1 1.1-.5-.4-1 1-.5-.3-.7.7-.8 0-6 2.8-6.7 1z"/>
<path fill-rule="evenodd" fill="#e4ff00" d="M93.6 141.1l-1.4 0-.6-2.5-1.2-.6-90.3-30 0-107.9 249.8 0-.3 32-2.7 1.6-93.8 70.3-1.6 1.6-.4 3.4-.7.3-.2.8-.9.3-.7 1.4-2.7 2.6-.3.8-1 0-.2 1.2-1.7.2-.4 1.5-2.4 1.5-.8-.7-1.2 1.3-.8-.1-1.5 1.3-.5-.3-1.5 1.5-.5-.4-1.7 1.5-.5-.5-1.2 1.4-1.1 0-1.5 1.5-.7-.5-.3 1.5-5 2.3-.6 1.7-4.4 2.5-.5-.5-1.2 1.2-.8-.1-.7.7-.5-.3-3.5 2.1-.5-.3-3.8 2.2-.5-.2-.7.7-.5-.3-2.3 1.2-7 1.1z"/>
<path fill-rule="evenodd" fill="#ebff00" d="M94.6 139.6l-1.9 0-.6-2.5-1.2-.7-90.8-30.2 0-106.1 249.8 0-.3 32-26.7 15.8-15.5 9.9-47.5 38-8.9 8.8-.6 3.8-1 .5-.1.7-2 2.3-.7.2-.8 1.5-.9.3 0 .7-1.4.3 0 1-2.4.7-2.5 2.1-.7-.3-1.3 1.5-.5-.6-1.5 1.5-.8-.2-1.4 1.5-.5-.7-1.3 1.4-.5.2-.2-.4-.8.5-.7 1.1-1-.4-1.1 1.3-2.8 1.3-.6 1.7-4.3 2-3.5 2.7-.5-.3-1.2 1.1-.3-.4-1 .8-.5-.3-2.2 1.7-.5-.2-2 1.2-.8-.1-.7.8-.5-.3-2 1.3-8.3 1.5z"/>
<path fill-rule="evenodd" fill="#f2ff00" d="M94.9 138.1l-1.5.1-.9-2.6-1.1-.6-51.8-17.1-39.5-12.1 0-105.7 249.8 0-.3 32-26.7 15.8-15.5 9.9-55 44.1-2.3 2.1.1 2.6-.7.8.1.7-2.7 2.4-1 1.6-.7 0 0 .8-1.2.2.1 1-1.8.3-.2 1.5-2.7 1.4-.5-.8-1.1 1.4-1.2.1-1.2 1.2-.5-.5-1.3 1.5-.7-.3-1.8 1.5-.5-.6-1.5 1.7-.5-.6-1.5 1.5-1.1 0-.6 1.7-4.7 2-.5.5-.1 1.3-4 2.4-.5-.7-1.5 1.5-.5-.2-1 .7-1.7.2-2.3 1.6-.5-.2-2.2 1.2-.3-.3-5.2 2.5-5.5.5z"/>
<path fill-rule="evenodd" fill="#f8ff00" d="M94.9 136.9l-1.2-.3-.8-2.6-7.8-2.7-36.2-10.5-48.8-15.1 0-105.6 249.8 0-.3 32-26.7 15.8-15.5 9.8-52.8 42.4-5 3.3-.3 2.7-.6 1.3-1.8 2.2-.7.3-.8 1.5-.8 0-.2 1-1.3.1-.2 1.2-2.3.8-2.5 2-.5-.5-1.2 1.6-.5-.6-1.5 1.4-.8-.2-1.2 1.4-.8-.5-1.5 1.5-.7-.3-1.5 1.6-.5-.4-1.4 1.4-3.1 1.5-.4 1.5-5.1 2.5-2.5 2.1-.5-.5-1 1.2-.5-.3-2.1 1.2-.7 0-.7.8-.5-.3-.8.7-2 .4-2 1.3-3.2 1.1-6 .8z"/>
<path fill-rule="evenodd" fill="#ffff00" d="M94.9 135.4l-.8-.3-.7-2.5-2 0-10-2.5-17.5-5-63.8-19.5 0-105.5 249.8 0-.3 32-26.7 15.7-30 18.6-40 32-3.9 4-.2 2.7-.7 1.6-2.5 2.9-.8.3-.2.9-1 .1 0 1-1.7.2-.3 1.5-2.5 1.4-.5-.7-1.2 1.3-.8 0-1.5 1.3-.5-.5-1.2 1.3-.8-.1-1.5 1.3-.7-.3-1.3 1.3-.7-.4-1.8 1.8-.2-.4-.9.2-.6 1.8-4.9 2.2-.3 1.5-3.6 2.3-.7-.6-1.3 1.2-.7-.3-2.3 1.5-.2-.4-1 .9-.5-.1-2.3 1.4-.5-.3-2 1.3-1.7.3-1.8.9-6.2.7z"/>
<path fill-rule="evenodd" fill="#ffff00" d="M95.1 133.9l-.6-.5-.5-2.3-1.1-.5-13.3-4.3-27.2-10.4-52.3-18.6 0-97.2 249.8 0-.3 32-26.7 15.7-31.3 19.4-38.5 31-4.2 2.9-.6.8-.1 2.7-.6 1.3-1.2 1-.8 1.5-.5 0-.2.8-.8.2 0 .7-1.5.3 0 1.1-2.5.8-2.2 1.8-.5-.4-1.3 1.4-.5-.5-1.5 1.5-.7-.3-1.3 1.5-.7-.5-1.5 1.6-.5-.5-1.8 1.5-.5-.4-1.4 1.6-3.3 1.5-.3 1.5-4 1.9-3.5 2.7-.5-.6-2.1 1.5-4.6 1.7-3.3 1.7-3 .8-6 .6z"/>
<path fill-rule="evenodd" fill="#ffff00" d="M96.6 132.4l-1.5-.1-.5-2.4-1.2-.6-49.8-16.4-43.5-15.7 0-97.1 249.8 0-.3 32-31.2 18.5-44.8 28-21 17.5-4.6 4.5-.4 3.5-.5 1.1-2 1.7 0 .7-.8.8-1.1.2-.1 1-1.7.3-.6 1.7-1.9 1.1-.5-.7-1.3 1.2-.7-.3-1.3 1.3-.7-.1-1.3 1.3-1-.1-1.2 1.3-.8-.3-1.5 1.5-.5-.6-1.5 1.5-.7-.2-.8.4-.6 1.7-4.9 2.3-.6 1.7-3.1 2-.8-.5-1.5 1.2-.5-.3-.7.8-.5-.4-3.5 2-.5-.2-2 1.3-.5-.3-.8.8-.5-.3-3 1.2-4.5.5z"/>
<path fill-rule="evenodd" fill="#ffff00" d="M98.4 130.9l-2.8 0-.7-2.8-1-.5-93.8-31.2 0-96.3 249.8 0-.3 32-31.2 18.5-44.8 28-22.2 18.6-4.3 2.9 0 3.7-1.8 1.6-.9 1.6-.8 0 0 1-1.4.1.1 1-2.4.9-2.3 1.9-.2-.6-1.5 1.3-.8-.3-1.2 1.6-.5-.6-1.5 1.6-.8-.5-1.5 1.6-.5-.4-1.7 1.6-.5-.6-1.5 1.7-3.4 1.6-.6 1.7-4.7 2.3-2.1 1.9-.5-.6-2.5 1.6-7.5 3-5.7 1.1z"/>
<path fill-rule="evenodd" fill="#ffff00" d="M96.6 129.6l-.6-.2-.6-2.8-3.5-1.7-33-11-58.8-18.1 0-95.7 249.8 0-.3 31.9-31.2 18.5-55.8 34.9-9.7 7.9-6.2 6.1-.2 3.7-2.6 2.5 0 .7-1.1.3-.2.9-1.8.4-.3 1.5-1.6.8-.8-.5-1.5 1.5-.5-.6-1.2 1.4-.8-.2-1.5 1.3-.5-.5-1.5 1.6-.7-.3-1.5 1.6-.5-.5-1.5 1.4-.5-.4-1.2.6-.7 1.8-4.8 2.2-.5.5-.3 1.3-2.8 1.8-.7-.6-1.3 1.2-.5-.4-1 1-.5-.2-2 1.2-.5-.2-.7.8-.5-.4-.8.8-2.5 1-8 1.2z"/>
<path fill-rule="evenodd" fill="#ffff00" d="M97.4 128.2l-.9-.3-.6-2.3-3-.5-28.8-9.7-64-19.7 0-95.6 249.8 0-.3 31.9-31.2 18.5-55.8 34.8-12 9.9-4.7 3.4.3 2.5-.3 1.3-1 .7-.8 1.5-.9.3-.1 1-1.2 0-.3 1.2-2 .6-2 1.7-.7-.3-1.5 1.3-.5-.4-1.3 1.5-.5-.4-1.5 1.3-.7-.4-1.3 1.5-.7-.2-1.8 1.6-.5-.7-1.5 1.8-3.9 1.9-.2 1.5-3.8 1.7-2.8 2.3-.5-.4-4.8 2.4-5.2 1.9-6.5.9z"/>
<path fill-rule="evenodd" fill="#fff600" d="M97.9 126.7l-.8-.2-.7-2.3-1.3-.5-10.7-2.5-26.3-7.5-58-18.1 0-95.5 249.8 0-.3 31.9-26.7 15.8-35.8 22-36.7 23.5-5 4.8.4 2.3-.2 1-1.4 1.7-.8.3.1.7-1.1 0 0 1-2 .5-.3 1.5-1.5.8-.7-.6-1.5 1.6-.5-.6-1.5 1.4-.5-.4-1.3 1.4-.5-.5-1.7 1.6-1-.1-1.3 1.5-.5-.6-1.7 1.5-.5-.4-1.7 1.2-.1 1.2-5.2 2.5-.3 1.5-2.4 1.5-1.1-.3-1.2 1.4-.5-.6-.8.9-.7-.2-.8.8-.2-.5-1 .8-.3-.4-.7 1-.5-.3-2.3 1.4-.5-.3-1 .6-6.2.8z"/>
<path fill-rule="evenodd" fill="#ffed00" d="M99.4 125.2l-1.9-.1-.6-2.6-8-2.8-21.3-5.9-67.5-20.3 0-93.4 249.8 0-.3 31.9-26.7 15.8-35.8 22-36.7 23.5-5.2 4.1.2 2.6-1.8 2.4-.9.2-.1 1-1.1 0-.2 1.3-1.9.5-2.3 1.8-.7-.2-1.3 1.1-.5-.5-1 1.2-.7 0-1.5 1.3-.8-.5-1.1 1.5-1.1-.1-1.3 1.4-.7-.5-1.8 2-3.8 1.7-.1 1.3-.5.5-3.3 1.5-2.5 2-.8-.3-1 .9-.7-.3-.8.8-.5-.2-.7.6-5.3 2.1-5.2.7z"/>
<path fill-rule="evenodd" fill="#ffe400" d="M100.1 123.7l-2.2 0-.8-2.6-2 0-10-2.5-17.5-5-67.5-20.2 0-93.3 249.8 0-.3 31.9-31.2 18.5-64.3 40.2-8.7 6.4-.5.5 0 2-1 .7 0 .6-.8.3-.2.7-1 .2-.3 1-1.6.3-.3 1.5-1.3.5-.8-.4-1.5 1.6-.5-.6-1.2 1.2-.8-.3-1.2 1.6-.5-.5-1.8 1.4-.7-.3-1.3 1.6-.7-.3-1.8 1.4-.2-.6-2.1 1.4-.4 1.5-5.2 2.5-.2 1.3-1.6 1.2-.8.2-.5-.6-1.5 1.6-.5-.4-3.2 1.6-.5-.2-.8.9-.5-.4-.7.8-6.8 1.1z"/>
<path fill-rule="evenodd" fill="#ffdb00" d="M99.4 122.4l-1-.1-.8-2.7-45.5-15-52-16.1 0-88.4 249.8 0-.3 31.9-31.2 18.5-31.3 19.2-37.2 24-4.3 2.1-1.2 1.1.1 1.5-.6 1-.8.8-.8.2 0 1-1.4 0 .1 1.2-1.9.6-2 1.5-.7-.5-1.3 1.5-.7-.4-.8 1-1.2.2-1.3 1.3-.5-.7-1 1.3-.7.4-.5-.3-1.5 1.6-.8-.5-1.7 2-4 1.8-.6 1.7-3.2 1.5-2.5 1.8-.7-.3-1 1-.5-.2-7 2.9-5.5.6z"/>
<path fill-rule="evenodd" fill="#ffd100" d="M101.1 120.9l-2.2-.1-.8-2.6-8-2.6-36.2-10.4-53.8-16.8 0-88.3 249.8 0-.3 31.9-26.7 15.7-35.8 22-32.7 20.9-9.8 4.7-.5.6.5.2-.5.1-.1 1.7-.6.2-.8 1.6-1 0-.2 1.1-1.9.3-.2 1.5-1.2.4-.5-.6-3.7 2.6-.5-.4-1.3 1.6-.7-.4-1.5 1.4-.8-.4-1.5 1.6-.5-.6-1.5 1.5-.5-.4-2.3 1.5-.3 1.5-4.8 2.2-1.3 1.8-2 .3-1.3 1.5-.7-.2-2 1.3-.5-.3-4.3 1.8-4.5.6z"/>
<path fill-rule="evenodd" fill="#ffc800" d="M101.1 119.4l-1.7.2-.9-2.7-1.1-.6-74.3-24.8-23-7.1 0-84.3 249.8 0-.3 31.9-31.2 18.5-54.8 34.2-19.5 9.7-.5.5-.2 2.2-.8.9-.7.1-.3.9-1 .1-.1 1.3-1.9.5-1.7 1.4-.8-.4-1.2 1.5-.8-.3-1.2 1.3-.5-.5-1.5 1.7-.5-.7-1.5 1.5-.8-.3-1.7 1.6-.5-.4-1.8 2-4.4 2.1-.3 1.5-5.8 3.2-.5-.4-1 1.1-.5-.4-.7.9-.5-.4-.8.9-.5-.3-.7.7-.3-.4-2.2 1-4.8.6z"/>
<path fill-rule="evenodd" fill="#ffbf00" d="M100.9 118.1l-1.3-.2-.6-2.5-1.1-.6-27-8.9-70.8-21.6 0-84.2 249.8 0-.3 31.9-31.2 18.5-54.8 34.2-19.7 9-.7.7-.3 2-.8.2.1.8-1.1 0-.2 1.2-1.8.3-.3 1.5-.9.2-.5-.5-1.8 1.6-1.2.1-.8.9-.5-.5-1.2 1.3-.8 0-1.5 1.3-.5-.5-1.5 1.6-.7-.5-1.5 1.7-.5-.5-2.4 1.5-.2 1.3-.5.5-5 2.2-3.9 3.2-.8-.2-1 .8-5.2 1.7-5 .5z"/>
<path fill-rule="evenodd" fill="#ffb500" d="M101.4 116.6l-1.3 0-.7-2.7-1-.6-6.8-1.5-21.5-6.1-70-21.4 0-84.2 249.8 0-.3 31.9-31.2 18.5-54.8 34.1-13 5.6-7.2 2.6-.6.6-.4 2.5-.8 0-.4 1-.8 0-.3 1.2-1.7.5-2 1.5-.5-.6-1.3 1.5-.7-.2-1.3 1.1-.5-.4-1.5 1.7-.5-.6-1.7 1.6-.5-.5-1.5 1.5-.8-.3-1.7 2-4.3 2-.7 1.7-4.8 3-.7.1-.3-.4-1.2 1.3-.5-.5-.8.9-.5-.3-.7.8-.3-.5-2 1-5.7.6z"/>
<path fill-rule="evenodd" fill="#ffac00" d="M102.1 115.2l-1.5.1-.7-2.6-8-2.8-34.5-9.8-43-11.5-14.3-4.4 0-84.1 249.8 0-.3 31.9-26.7 15.7-35 21.7-7.5 3.2-37 18.5-1.1 1 .1 1.8-.5.2-.2 1-1.1.3 0 1-1.9.2-.3 1.5-.5.1-.3-.6-.5 0-1.7 1.6-.8-.2-1.2 1.5-.5-.5-1.3 1.2-1.2.2-1 1.1-.5-.5-1.8 1.7-.5-.7-1.2 1.5-.8-.2-2.6 1.6-.6 1.7-4.9 2.3-3.9 3-.7-.2-2 1.2-1.8.2-.7.6-5.3.5z"/>
<path fill-rule="evenodd" fill="#ffa300" d="M102.4 114l-1.3-.1-.9-2.8-1.1-.5-33.7-8.2-65.3-18.2 0-84.1 249.8 0-.3 31.8-26.7 15.8-35 21.6-13 5.8-32.3 16.1-.6.7-.1 1.5-.9.2 0 1-1.3 0 0 1.3-1.6.4-2 1.5-.5-.5-1.2 1.2-.8-.1-1.2 1.3-.5-.6-1.3 1.5-1-.3-1.5 1.6-.5-.5-1.7 1.5-.5-.4-1.8 2.1-4.8 2.3-.5 1.7-4.9 2.8-.5-.6-1 1-.8.1-.7.8-.5-.3-.5.7-.8-.4-2.2.8-4 .5z"/>
<path fill-rule="evenodd" fill="#ff9900" d="M102.6 112.4l-1.2 0-.8-2.4-8-2.7-92.5-23.1 0-84.1 249.8 0-.3 31.8-26.7 15.8-33 20.4-16.8 7.9-21 9.1-10 4.9-.6.6-.2 2.3-.9 0-.3 1.1-1.8.4-.4 1.4-.8-.7-2 1.9-.7-.2-1 1.2-.8-.4-3.2 2.4-.8-.3-1.7 1.6-.3-.5-1.7 1.5-.5-.5-3.1 2.1-.3 1.5-4.9 2.2-3.7 2.8-.8-.1-2 1.2-.5-.3-.7.6-5.8.6z"/>
<path fill-rule="evenodd" fill="#ff8f00" d="M104.6 110.9l-2.7.2-1-3-1-.5-99.8-24.8 0-82.7 249.8 0-.3 31.8-26.7 15.8-33 20.4-30.3 13.8-15.2 6.3-3.3 1.8.1 1.1-.6 1-1.3.3 0 1.2-3.4 1.8-.5-.3-1.5 1.4-.5-.5-1.3 1.3-.5-.4-1.5 1.5-.5-.6-1.5 1.7-.7-.3-1.5 1.4-.8-.5-2 2.3-4.7 2.2-.6 1.8-4.4 2.5-.8-.3-1 1.1-2 .1-1 .7-4 .4z"/>
<path fill-rule="evenodd" fill="#ff8400" d="M103.4 109.7l-1-.1-1.1-2.5-1.2-.6-100-25 0-81.4 249.8 0-.3 31.8-35.7 21.4-35 16-37 18.4-1.3 1.1-.1 1.8-.6.3-.3.9-1.7.3-3.3 2.8-.2-.6-1.5 1.5-.5-.4-1.5 1.3-.5-.4-1.5 1.4-.8-.2-1.2 1.4-.5-.5-1.8 1.5-.7-.3-.8.9-2.3 1.1-.1 1.3-.5.5-4.8 2.2-3.3 2.7-.5-.5-1 1.1-.5-.5-1 .8-5.7.5z"/>
<path fill-rule="evenodd" fill="#ff7a00" d="M104.9 108.2l-2.3 0-1-2.3-14.7-5-86.8-23.6 0-77.2 249.8 0-.3 31.8-35.7 21.3-42.3 19.6-15.7 6.8-15 7.5-.7.8-.2 2.2-1.1.2-.1 1.1-3.2 1.7-.7-.2-1.3 1.3-.5-.6-1 1.3-.7-.3-1.5 1.4-.8-.4-1.2 1.5-.8-.2-1.5 1.5-.5-.8-2.2 2.5-4.9 2.3-.7 1.7-4.2 2.6-.7-.4-1.3 1.1-.5-.5-2.7 1.1-3 .2z"/>
<path fill-rule="evenodd" fill="#ff6f00" d="M103.6 107l-.7-.2-.8-2.3-1.2-.5-18.8-4.3-82-22.5 0-77.1 249.8 0-.3 31.8-37.7 22.3-40.3 18.5-31.2 13.6-.6.6-.4 2.7-1.9.3-2.9 2.5-.5-.3-1.5 1.2-.7-.2-1.3 1.3-.2-.6-1.5 1.4-.8-.2-1.5 1.6-.5-.4-1.7 1.4-.8-.3-.7.9-2.5 1.2-.6 1.7-4.7 2.2-3.2 2.6-.5-.4-1.5.7-6.3.8z"/>
<path fill-rule="evenodd" fill="#ff6500" d="M103.6 105.7l-.5-.6-.7-2.5-1-.5-101.3-33.7 0-68.3 249.8 0-.3 31.8-25 14.7-70.2 31-14 7-1.2 1 .1 1.5-.8.8-.1 1.2-3 1.8-.5-.7-1.5 1.7-.5-.5-1.3 1.3-.7-.4-1.3 1.4-.5-.7-1 1.4-.7.4-.5-.4-1.5 1.6-.8-.5-2.1 2.4-5.2 2.5-.6 1.7-3.8 2.3-.8-.4-1 .8-7.5.9z"/>
<path fill-rule="evenodd" fill="#ff5b00" d="M105.1 104.1l-1.2.1-1.1-2.3-1.2-.6-101.5-33.8 0-67.4 249.8 0-.3 31.8-25 14.6-70.2 31-15.5 7.5-.4 2.1-2.9 1.5-1.5 1.5-.2-.4-.5.2-1 1.1-.5-.4-1.3 1.3-.5-.4-1.7 1.5-.5-.4-1.5 1.6-.5-.6-1.8 1.6-.5-.4-3.6 2.3-.6 1.8-4.3 2-3.2 2.4-6.8.8z"/>
<path fill-rule="evenodd" fill="#ff5000" d="M104.9 102.9l-1-.5-.5-2.1-5.5-1.6-59.5-24-38.3-14.6 0-60 249.8 0-.3 31.8-22.7 13.5-74.3 33-13.5 5-.8.7-.6 2.8-2.6 1.5-.7-.4-1 1.3-.8-.2-1.2 1.2-.8-.4-1.2 1.5-.5-.7-1.5 1.7-.8-.3-1.5 1.4-.5-.4-2.5 2.5-5.3 2.5-.6 1.8-3.1 1.9-1-.3-3.5 1-3.7.4z"/>
<path fill-rule="evenodd" fill="#ff4600" d="M106.1 101.4l-1.7 0-.7-2-1.1-.6-102.5-38.8 0-59.9 249.8 0-.3 26.3-111.2 55.5-.5.5-.5 2.8-3.3 2.3-1.2.1-.8 1.3-.5-.6-1.2 1.2-.8-.3-1.5 1.4-.7-.2-1.3 1.4-.7-.5-1.5 1.7-.5-.5-1.3 1.2-2.6 1.2-.6 1.7-4.8 2.3-1.7 1.4-6.3 1.1z"/>
<path fill-rule="evenodd" fill="#ff3d00" d="M105.4 100.2l-.8-.1-.5-2.3-19.5-9.7-84.2-37.2-.3-50.8 249.8 0 0 17.5-100.5 55.8-10.5 6.5-1.6 1.5-.4 3.1-2 1.7-.5-.7-1.3 1.4-.7-.4-1.3 1.3-.7-.3-3 2.1-1-.1-1.5 1.4-.8-.2-1.5 1.6-.5-.5-.6.6 0 1-4.6 2.2-4 3.2-7.5 1.4z"/>
<path fill-rule="evenodd" fill="#ff3400" d="M106.9 98.6l-1.8.1-.4-1.8-4.6-2.3-16-6.6-83.7-37.3-.3-50.6 249.8 0 0 17.4-100.5 55.8-12.5 7.6-.6 2.2-.6.8-12.6 6.4-9.7 6.7-2 1-4.5.6z"/>
<path fill-rule="evenodd" fill="#ff2a00" d="M107.1 97.4l-1.7-.2-.8-1.1.5-.5-61-30.5-43.7-20.2-.3-44.8 249.8 0 0 17.3-101 56.2-12.5 6.1-.6 2.4-1 1-12.7 6.4-8.7 5.9-2.8 1.3-3.5.7z"/>
<path fill-rule="evenodd" fill="#ff2100" d="M107.6 95.9l-1.7.1-.3-1-39.2-19.6-66-30.6-.3-44.7 249.8 0 0 6.7-104.8 65.3-7.7 5.2-1.6 1.6-.4 1.7-1.3 1.5-13.2 6.6-7.5 5.2-2.8 1.4-3 .6z"/>
<path fill-rule="evenodd" fill="#ff1700" d="M107.4 94.7l-1 0-.5-.8-16-8-29.5-13.2-60-28-.3-44.6 249.8 0 0 6.6-109.8 68.7-4.2 2.2-1.3 2.3-1.2 1-12.5 6.2-9.3 6.3-4.2 1.3z"/>
<path fill-rule="evenodd" fill="#ff0e00" d="M107.4 93.2l-1.3-.3-4.2-2.2-25-10.5-76.5-35.5-.3-44.6 240.8 0-101.5 72.5-4.6 4.3-1.2 2.4-11.7 5.7-10 6.7-4.5 1.5z"/>
<path fill-rule="evenodd" fill="#ff0700" d="M108.4 91.6l-1 .1-107-53.6-.3-38 240.6 0-106.1 75.7-1.8 2.3-12.2 6.1-10 6.6-2.2.8z"/>
<path fill-rule="evenodd" fill="#ff0000" d="M108.9 90.1l-1.5 0-107-53.5-.3-36.5 219.8 0-77.5 66.3-8.8 8.7-.8 1.5-13.4 6.8-10.5 6.7z"/>
</g>
<line x1="15.4" y1="230.4" x2="143.9" y2="271.3" class="s"/>
<line x1="143.9" y1="271.3" x2="236.6" y2="209.6" class="s"/>
<line x1="235.2" y1="43.7" x2="236.6" y2="209.6" class="s"/>
<line x1="235.2" y1="43.7" x2="239.2" y2="44.6" class="s"/>
<line x1="235.8" y1="126.5" x2="239.8" y2="127.4" class="s"/>
<line x1="236.6" y1="209.6" x2="240.6" y2="210.2" class="s"/>
<line x1="79.4" y1="250.6" x2="76.4" y2="252.7" class="s"/>
<line x1="143.9" y1="271.3" x2="140.9" y2="273.4" class="s"/>
<line x1="15.4" y1="230.4" x2="12.4" y2="232.5" class="s"/>
<line x1="190.2" y1="240.4" x2="194" y2="241.7" class="s"/>
<line x1="143.9" y1="271.3" x2="147.7" y2="272.5" class="s"/>
<text x="244" y="45.3" font-size="6.4" textLength="26.3" lengthAdjust="spacingAndGlyphs">300000.00</text>
<text x="244.9" y="127.9" font-size="6.4" textLength="25.6" lengthAdjust="spacingAndGlyphs">150000.00</text>
<text x="243" y="217" font-size="6.4" textLength="7.3" lengthAdjust="spacingAndGlyphs">0.0</text>
<text x="3.6" y="239" font-size="6.4" textLength="10.6" lengthAdjust="spacingAndGlyphs">-100</text>
<text x="75" y="259.8" font-size="6.4" textLength="3.4" lengthAdjust="spacingAndGlyphs">0</text>
<text x="132.4" y="281.8" font-size="6.4" textLength="9.6" lengthAdjust="spacingAndGlyphs">100</text>
<text x="196.3" y="247.8" font-size="6.4" textLength="8.4" lengthAdjust="spacingAndGlyphs">3.8</text>
<text x="150.5" y="278.7" font-size="6.4" textLength="8.1" lengthAdjust="spacingAndGlyphs">7.5</text>
<text x="66" y="270.6" font-size="6.3" textLength="20.5" lengthAdjust="spacingAndGlyphs" class="bt" transform="rotate(18 66 270.6)">dy (mm)</text>
<text x="187.5" y="270.9" font-size="6.4" textLength="34" lengthAdjust="spacingAndGlyphs" class="bt" transform="rotate(-33.7 187.5 270.9)">Distance (cm)</text>
<text x="138.5" y="307.4" font-size="15.5">a)</text>
<rect x="287.1" y="40.4" width="36.2" height="193.2" fill="none" stroke="#2a2a2a" stroke-width="1"/>
<line x1="287.1" y1="52.2" x2="323.3" y2="52.2" class="cb"/>
<line x1="287.1" y1="221.3" x2="323.3" y2="221.3" class="cb"/>
<rect x="289.1" y="58.8" width="8.8" height="26.5" fill="#ff0000"/>
<rect x="289.1" y="84.9" width="8.8" height="26.5" fill="#fff000"/>
<rect x="289.1" y="111" width="8.8" height="26.5" fill="#7dff00"/>
<rect x="289.1" y="137.1" width="8.8" height="26.5" fill="#00ff78"/>
<rect x="289.1" y="163.3" width="8.8" height="26.5" fill="#00f0ff"/>
<rect x="289.1" y="189.4" width="8.8" height="26.5" fill="#0000ff"/>
<text x="300" y="63.1" font-size="5.8" textLength="19.6" lengthAdjust="spacingAndGlyphs">300000.0</text>
<text x="300" y="89.2" font-size="5.8" textLength="19.6" lengthAdjust="spacingAndGlyphs">250000.0</text>
<text x="300" y="115.3" font-size="5.8" textLength="19.6" lengthAdjust="spacingAndGlyphs">200000.0</text>
<text x="300" y="141.4" font-size="5.8" textLength="19.6" lengthAdjust="spacingAndGlyphs">150000.0</text>
<text x="300" y="167.6" font-size="5.8" textLength="19.6" lengthAdjust="spacingAndGlyphs">100000.0</text>
<text x="300" y="193.7" font-size="5.8" textLength="17.1" lengthAdjust="spacingAndGlyphs">50000.0</text>
<text x="306.5" y="219.6" font-size="5.8" textLength="5.9" lengthAdjust="spacingAndGlyphs">0.0</text>
<text x="289.1" y="49.9" font-size="5.8" textLength="32.2" lengthAdjust="spacingAndGlyphs">Max: 256762.0</text>
<text x="289.3" y="230.2" font-size="5.8" textLength="24" lengthAdjust="spacingAndGlyphs">Min:&#160;&#160;474.8</text>
<text x="280" y="103.7" font-size="5.6" textLength="44.3" lengthAdjust="spacingAndGlyphs" class="bt" transform="rotate(90 280 103.7)">Mag._B (uTesla)</text>
<defs><linearGradient id="gb" gradientUnits="userSpaceOnUse" x1="0" y1="15.6" x2="0" y2="250.6"><stop offset="0.0000" stop-color="#ff0000"/><stop offset="0.1667" stop-color="#ff0000"/><stop offset="0.1807" stop-color="#ff0f00"/><stop offset="0.2233" stop-color="#ff4b00"/><stop offset="0.2747" stop-color="#ff9b00"/><stop offset="0.3173" stop-color="#ffd700"/><stop offset="0.3467" stop-color="#ffff00"/><stop offset="0.3800" stop-color="#ffff00"/><stop offset="0.4450" stop-color="#beff00"/><stop offset="0.5300" stop-color="#69ff14"/><stop offset="0.5733" stop-color="#4bff37"/><stop offset="0.6153" stop-color="#28ff50"/><stop offset="0.6580" stop-color="#14ff73"/><stop offset="0.7007" stop-color="#00ff96"/><stop offset="0.7433" stop-color="#00ffc8"/><stop offset="0.7857" stop-color="#00ffff"/><stop offset="0.8400" stop-color="#00ffff"/><stop offset="0.8400" stop-color="#0000ff"/></linearGradient></defs>
<line x1="370.5" y1="15.6" x2="572.8" y2="15.6" class="d"/>
<line x1="370.5" y1="15.6" x2="370.5" y2="250.6" class="d"/>
<line x1="471.8" y1="15.6" x2="471.8" y2="250.6" class="d"/>
<line x1="370.5" y1="133.4" x2="572.8" y2="133.4" class="d"/>
<path d="M370.5 251 370.5 171.5 376 155 381.4 142.7 388.3 131.8 397.8 118 408.8 103 419.7 86.6 428 72.9 434.8 59.2 438.9 53.7 441.5 52.3 444.3 51.6 447 51.9 450 50.9 453 51.5 456 50.4 460.8 50.6 464 51.3 466.5 50.5 470 50.9 474.4 51.2 477 50.3 480 50.7 483 49.9 485.1 50 488.5 51.7 493.5 58.4 498.5 66.8 505.2 80.2 512 93.6 523.7 108.7 532 120.4 538.7 132.1 547.1 150.5 555.5 170.6 563.9 190.7 572.5 209.5 572.5 251Z" fill="url(#gb)"/>
<path d="M400 241.5C420 239 440 238 460 237.5S500 236.5 520 238S555 236 572.5 235.5V241.5C550 242.5 530 242.5 510 241.5S470 241 450 242S415 243.5 400 244Z" fill="#3a3aff" opacity="0.55"/>
<path d="M511 239.5L522.5 229.5L534 239.5Z" fill="#4a4aff" opacity="0.45"/>
<path d="M393 244L434 223.5L446 224L404 244.5Z" fill="#2a2aff" opacity="0.3"/>
<line x1="572.8" y1="15.6" x2="572.8" y2="250.6" class="g"/>
<line x1="370.5" y1="250.6" x2="572.8" y2="250.6" class="g"/>
<line x1="572.8" y1="15.6" x2="578.3" y2="15.6" class="g"/>
<line x1="572.8" y1="133.3" x2="578.3" y2="133.3" class="g"/>
<line x1="572.8" y1="250.6" x2="578.3" y2="250.6" class="g"/>
<text x="582.8" y="16.8" font-size="6.4" textLength="26.5" lengthAdjust="spacingAndGlyphs">300000.00</text>
<text x="582.9" y="134.2" font-size="6.4" textLength="26.2" lengthAdjust="spacingAndGlyphs">150000.00</text>
<text x="583" y="252" font-size="6.4" textLength="10.8" lengthAdjust="spacingAndGlyphs">0.00</text>
<text x="370.9" y="258.7" font-size="6.4" textLength="7.5" lengthAdjust="spacingAndGlyphs">7.5</text>
<text x="471.5" y="258.7" font-size="6.4" textLength="7.4" lengthAdjust="spacingAndGlyphs">3.8</text>
<text x="572.6" y="258.7" font-size="6.4" textLength="7.5" lengthAdjust="spacingAndGlyphs">0.0</text>
<text x="454.6" y="268" font-size="6.6" textLength="34.1" lengthAdjust="spacingAndGlyphs" class="bt">Distance (cm)</text>
<text x="471.2" y="306.2" font-size="17" textLength="13.2" lengthAdjust="spacingAndGlyphs">b)</text>
<rect x="629.7" y="43.3" width="37.5" height="197.7" fill="none" stroke="#2a2a2a" stroke-width="1"/>
<line x1="629.7" y1="55.1" x2="667.2" y2="55.1" class="cb"/>
<line x1="629.7" y1="229.6" x2="667.2" y2="229.6" class="cb"/>
<rect x="632.2" y="62.1" width="9" height="27.2" fill="#ff0000"/>
<rect x="632.2" y="89" width="9" height="27.2" fill="#fff000"/>
<rect x="632.2" y="115.8" width="9" height="27.2" fill="#7dff00"/>
<rect x="632.2" y="142.7" width="9" height="27.2" fill="#00ff78"/>
<rect x="632.2" y="169.5" width="9" height="27.2" fill="#00f0ff"/>
<rect x="632.2" y="196.3" width="9" height="27.2" fill="#0000ff"/>
<text x="643" y="66.4" font-size="5.8" textLength="20.7" lengthAdjust="spacingAndGlyphs">300000.0</text>
<text x="643" y="93.2" font-size="5.8" textLength="20.7" lengthAdjust="spacingAndGlyphs">250000.0</text>
<text x="643" y="120.1" font-size="5.8" textLength="20.7" lengthAdjust="spacingAndGlyphs">200000.0</text>
<text x="643" y="147" font-size="5.8" textLength="20.7" lengthAdjust="spacingAndGlyphs">150000.0</text>
<text x="643" y="173.8" font-size="5.8" textLength="20.7" lengthAdjust="spacingAndGlyphs">100000.0</text>
<text x="643" y="200.7" font-size="5.8" textLength="18" lengthAdjust="spacingAndGlyphs">50000.0</text>
<text x="648.7" y="227.6" font-size="5.8" textLength="5.9" lengthAdjust="spacingAndGlyphs">0.0</text>
<text x="631.7" y="52.8" font-size="5.8" textLength="33" lengthAdjust="spacingAndGlyphs">Max: 256762.0</text>
<text x="631.9" y="237.6" font-size="5.8" textLength="26.8" lengthAdjust="spacingAndGlyphs">Min:&#160;&#160;474.8</text>
<text x="617.8" y="111" font-size="5.6" textLength="45.4" lengthAdjust="spacingAndGlyphs" class="bt" transform="rotate(90 617.8 111)">Mag._B (uTesla)</text>
<line x1="11.2" y1="394.1" x2="95.4" y2="343.2" class="d"/>
<line x1="11.2" y1="394.1" x2="13.9" y2="587.7" class="d"/>
<line x1="53.4" y1="369" x2="56.1" y2="562.6" class="d"/>
<line x1="95.6" y1="343.2" x2="98.3" y2="536.8" class="d"/>
<line x1="12.5" y1="491" x2="96.9" y2="440" class="d"/>
<line x1="13.9" y1="587.7" x2="98.1" y2="536.8" class="d"/>
<line x1="95.4" y1="343.2" x2="245.3" y2="366.8" class="d"/>
<line x1="170.4" y1="355" x2="173.1" y2="548.6" class="d"/>
<line x1="96.9" y1="440" x2="246.6" y2="463.6" class="d"/>
<line x1="98.1" y1="536.8" x2="248" y2="560.4" class="d"/>
<line x1="88.9" y1="599.4" x2="173.1" y2="548.5" class="d"/>
<line x1="56.1" y1="562.4" x2="205.9" y2="585.9" class="d"/>
<mask id="cv2" maskUnits="userSpaceOnUse" x="0" y="0" width="669" height="657"><path fill="#fff" d="M163.9 605.7l-3.8-.5-17.5-3.5-7-1.8-7.7-3-4.8-3-13-21.3-3.7-2.8-6.5-2.2-5 .3-2.5-2.6-1.5-.5-4.5-.7-1.5.5-4.8 6.9-2.9 2.9-7.2 6.7-6.4 4.1-12.7.8-14-1.3-.7-.3.8-1 14.6-10.9 15.2-13.4 17.1-11 3.6-16.2 3-18.5 3.5-28.8 2.3-24.7 3.5-16.5 7-10.5 6.8-4.9 4.3-4.3 5.7-7.9.5-.2 4.8 6.9.5.2 3.2-9.3 2.2-5.5 7.3-10.6 4 3.4 4.8 2.7 5.2 1.4 6.6 8.8 4.5 17 4.1 25.3 6 29.7 4 18 5.5 21 5.8 16.5 4.7 5 6.8 4.3 2 .8 3.8 1.2 18.7 4.5 11.8 1.9.3.3-17.8 10.2-18 11.1-12.8 7.4-19.5 12-8.7 5.9z"/></mask>
<g mask="url(#cv2)"><rect x="0" y="330" width="260.0" height="290.0" fill="#0000ff"/>
<path fill-rule="evenodd" fill="#00ffff" d="M108.9 566.8l-2.3-1.3-6.7-2.2-7.5 1.1-.7-.3-.3-1.3-1.8 1-1.6-.9-.8-1.3-.8-.2-1.7-1.5-1-1.8-.3-4.7.8-4.8-1.6-1.7-31.2-21.4-18.5-12-16.5-9.5-16.3-8.5 0-165.4 259.8 0 0 149.1-26 27.2-47.5 14.3-1.8 2.4-1 .5 0 .5-1.1.3.1.7-1.8.5 0 1-2.3.3-.5.5-.1 1.2-.8-.7-2.5 2.5-.7.2-.3-.5-.8.5-9.7 6.5-1.5.5-5.3 3.3-.2.7-1.5 1.3-2.2.1 0 1.6-2 0 0 1.4-1.3-.1-.1 1.2-.9 0-.2.8-2 1-2.7 2.2-8.6 3.8-.5-.1-2.5 1.6-.5-.3-1.5.7-.7.8-.8-.3-1.5 1-1.5 2.9-2.2 2.7-3 1.3-3.3.5-.7-.2-.5.4-.8-.5-.2.6-1-.7-.3.9-1.2-.8-.5.8-2-1.5-.5 2.1z"/>
<path fill-rule="evenodd" fill="#00ffff" d="M107.1 565.4l-7.2-2.4-5.8.6-.5-.2.1-2.5-3.1 1.6-.3-.1.1-1.9-1 1-.5-.6-1.8-.5 0-.5-1.7-1-1.3-1.8-.3-5 .5-3.7-1.7-1.5-31.2-21.4-18.5-12-16.5-9.5-16.3-8.5 0-165.4 259.8 0 0 149.1-26 27.2-36.5 10.8-12 2.6-1.4 2.3-1.4.8-.2.7-1.3.3.1 1-1.5 0 0 1.2-2.1.7-2.2 1.7-.5-1-1.9 2.4-1.9 1.3-9.2 4.7-2.8 2.1-1.2.2-.4 1.2-.7.7-3.2.5-.1 1.8-2.5.2-.1 1.4-1.5.1.1 1.3-1.3-.5 0 1.5-1.1-.2-.2 1.2-.9 0-.4.9-2.4 1.1-.3.7-.8-.2-.7.8-.5-.4-.9 1.1-.9-.1-.7.7-.5-.5-1 1.1-.5-.3-1 .9-.5-.6-2.5 1.9-.5-.6-1 1.2-.5-.5-1 1.3-.5-.9-1 1.3-.8 0-4.2 6-2.3 1.2-3.7.8-2.5-.2-.5.5-1-.6-.5.8-1-.9-.5 1.2-3.3-2-.5 2.3z"/>
<path fill-rule="evenodd" fill="#00ffff" d="M110.1 564.1l-3.5-2.3-2.7-.8-.5.1-.3 2.5-3.2-.8-2.1.1-.5-.3 0-2.5-.6-.2-3.3.5-2 1.2 0-2.2-1.8.9-.2-1-.5.8-.2-1-1.3-.3-3-2.9-.3-7.9-47.2-32-16-9.5-20.8-11 0-165.4 259.8 0 0 149.1-24.3 25.3-50 13.8-2.3 3.1-1.8.7-.2 1-1.2.2-.2 1-2 .1-3.8 3.2-.7-.7-10.5 6.7-2.5 2.1-1.3-.1-.4 2-3.2.3-.4 2-3 .5-.1 1.5-1.9.1 0 1.4-1.4-.3-.1 1.2-1.1-.2 0 1.3-1.1-.3-.2 1.5-1.1-.4-.2 1.3-1.3-.1 0 1.2-1.7.4-.5-.7-2.3 2.1-.5-.9-1 1.1-.7-.1-.8 1.1-.5-.9-1 1.1-.7-.1-.8 1.1-.5-.8-2.7 2.2-.5-.8-.8 1-.7-.1-1 1.3-.5-.8-.5 1.8-2.3 3.3-3.2 2.4-.5-.3-1.5.7-3.5 0-.5.6-.5-.6-.5.5-1-.7-.5 1.1-1.3-1.3-.5 1.8z"/>
<path fill-rule="evenodd" fill="#00ffff" d="M108.6 562.6l-8.2-3.3-7.8 1.2-.2-2.4-2.3 1.3-.2-1-2-.4-3.2-3.4-.5-7-1.8-.7-31-21.4-18.5-12-16.5-9.5-16.3-8.5 0-165.4 259.8 0 0 149.1-24 25.2-51.3 13.1-2 2.9-2.2 1.2-.3.9-1 0 0 1.1-2 .7-2 1.5-.5-.9-2 2.2-12.5 8.1-2.9.2-.1 1.7-3.8.8-.1 1.7-2.3.3-.3 1.5-1.2-.2-.2 1.4-1.2-.2 0 1.2-1.1-.5-.2 1.5-1.1-.5 0 1.3-1.2 0-.3 1.1-2-.2-1 1.4-.7-.1-.8 1-.5-.9-1 1.3-.5-.5-1 1.4-.5-.5-1 1-.5-.5-1 1.2-.5-.4-1 1-.5-.4-1 1.2-.5-.6-1 1-.7-.2-1 1.2-.5-.3-1.3 1-.7 2.3-2.8 3.2-1.2 0-5.3 1.5-1.2-.2-.3.5-.7-.6-.5.7-1-.7-.5 1-2.3-1.8-.5 2.1z"/>
<path fill-rule="evenodd" fill="#00ffff" d="M107.1 561.3l-7.2-2.4-5.3.7-.4-.2.1-2.5-.9 0-2.3 1.4-.2-1.7-1.3 1-.7-.4 0-.5.6-.3-1.9-.2-.2-.6-1.4-.7-.8-1.3-.8-6.2-2-.5-31-21.4-18.5-12-16.5-9.5-16.3-8.5 0-165.4 259.8 0 0 149.1-22.8 23.9-52.7 13.3-1.9 2.5-.8.2-.1.8-.9 0-.3 1-.8 0-.2.8-2 .2-2 1.2-1.8 2.1-.7-.8-11 6.5-1.8 1.7-1.3.3-.1 1.7-3.4.5-.3 2-3.2.5-.2 1.8-1.7.1-.3 1.1-1.1-.2-.1 1.2-1.2 0 0 1-1.1-.1 0 1.1-1.2-.1-.2 1.4-1.1-.4-.2 1.4-2 .2-.3-.4-1 1.2-.5-.4-1 .9-.5-.5-1 1.2-.5-.5-1 1.4-.5-.7-1 1.2-.5-.3-1 1-.5-.6-1 1.2-.5-.5-1 1.1-.5-.6-2.5 2.2-.6-.9-.5 2-3.4 4.5-1.2.6-.5-.5-1 .8-2.3.5-2.5.3-.7-.4-.5.6-.8-.6-.5.8-1-1.1-.5 1.5-3-2.1-.5 2.3z"/>
<path fill-rule="evenodd" fill="#00ffff" d="M109.9 559.9l-3.3-2.1-2-.7-1.2 0-.2 2.3-.3.1-3-.8-2.3.2 0-2.8-.5-.2-3.7.7-1.3.8-.5-2-1.5 1-.2-.8-1.3-.2-2.7-2.5-.7-1.5 0-3.3-.8-1.9-5.3-1.6-27.7-19.1-18.5-12-16.5-9.5-16.3-8.5 0-165.4 259.8 0 0 149.1-17.8 18.7-45.5 12.5-12 3.9-.5.8 1.3 0-1.3.1-.7.6-1.7 2.3-.9.3-.1.7-.8.2-.3.7-1 .1-.2 1.1-3.8 1.8-.7-.4-2.8 2.7-9.2 5.2-2 1.8-2.7.1-.2 2-3.9.7-.2 2-2.6.3 0 1.5-1.2-.3-.2 1.1-1.2.2-.1 1-1-.4 0 1.4-1.2-.4 0 1.4-1.3-.4-.1 1.4-1.8-.3-.1 1.6-.5-1.1-1 1.1-.7-.3-.8 1.1-.5-.7-1 1.2-.5-.3-1 1-.5-.7-1 1.4-.5-.3-1 1.2-.2-.9-1.3 1.2-.5-.4-1 1.3-.5-.8-1 1.2-.5-.3-1 1.3-.5-1-3.5 5.6-2.7 1.7-5.3 1.1-1.7-.4-.3.8-1-.8-.2.9-1.8-1.2-.2 1.8z"/>
<path fill-rule="evenodd" fill="#00ffff" d="M108.4 558.5l-8.3-3.3-7.2 1.2-.3-2.2-2 1.3 0-1.8-1.2.8-3.5-3.3-1-6-8-2.1-25.5-17.6-18.5-12-16.5-9.5-16.3-8.5 0-165.4 259.8 0 0 149.1-17.8 18.6-57.7 15.7-.8.3-1.5 2.2-1.2.8 0 .6-1.1.2 0 .8-.8.2-.2.8-2 0-1.7 1-2 2.2-.5-.8-9.5 5.6-1 .7-.2 1.7-.5-1.3-2.6 1.4 0 2-3.5.5-.3 2-3.6.7.1 1.5-1.9.2-.2 1.2-1.1.1-.4 1-.8-.3-.1 1.1-1.1-.1 0 1.2-1.3-.1 0 1.1-1.2-.1 0 1.2-1.8 0-.5.6-.5-.4-1 1.2-.5-.9-.7 1.1-.8 0-1 1.1-.5-.8-2.2 1.8-.5-.7-1 1.4-.5-.6-1.3 1.4-.5-.5-1 1-.5-.3-1 1.2-.5-.5-1 .8-.2-.2-2.3 3.8-1.6 1.8-.7 0-1.4 1.1-4.5.9-2.3-.3-.5.7-1-.8-.5 1.1-2.2-1.6-.5 2z"/>
<path fill-rule="evenodd" fill="#00ffff" d="M107.1 557.2l-7-2.3-5.2.7 0-2.7-1.3 0-2.2 1.5 0-1.7-1 .5-.5-.5-.8.1-2.8-2.7-1.2-6.5-10.5-2-23.2-16.2-18.5-11.9-16.5-9.5-16.3-8.5 0-165.4 259.8 0 0 149.1-17.8 18.5-58.7 14.8-1.4 2.1-2.1 1.5 0 .8-.7 0-.3.9-.8-.1-.2 1-1.5.3-2 1.5-.8-.6-1.7 1.9-10.3 5.8-2.1 1.8-2.3.2-.1 2-3.9.8-.5.5 0 1.5-2.7.2.1 1.5-1.4 0-.1 1.3-1-.3-.2 1-1-.2-.3 1.2-.9-.2-.1 1.2-1.1-.2-.1 1.4-1.7-.4.1 1.7-.7 0-.5-1-1 1.4-.5-.8-2.2 1.8-.5-.4-1 .9-.5-.4-1 1.1-.5-.5-1 1-.5-.5-1 1.3-.8-.3-.7 1.1-.5-.7-2.5 2.2-.8-.8-2 3.7-2.8 2.9-.9-.1-1 .8-3.8.6-2.2.2-.8-.4-.5.9-1-1.2-.5 1.7-3-2.2-.5 2.3z"/>
<path fill-rule="evenodd" fill="#00ffff" d="M109.6 555.8l-3-2-2.5-.9-.7.2-.3 2.3-3-.8-2.2.2-.3-2.9-4 .7-1.2.9 0-2.1-2 1.2-.2-1-2.1-1.1-1.8-2.1-.9-6.1-13.1-2.4-20.9-14.5-18.5-11.9-16.5-9.5-16.3-8.5 0-165.4 259.8 0 0 149.1-17.8 18.5-36 8.3-22.5 4.6-2.1 3-1.4.9 0 .6-.7.1-.3.7-.7.1 0 .9-2 0-1.9 1.2-1.9 2.3-.5-1.3-5.5 3.3-1.1 1-.2 1.5-4.3 2.7-.4 0-.2-1.2-1.5.6 0 2-3.5.4-.4 2.2-3.8.8-.1 1.7-2 0 0 1.4-1.1-.1-.1 1-1-.1-.2.8-1 0-.1 1.1-1-.3-.1 1.5-1.2-.5-.1 1.5-1.6-.2-1 1-.5-.6-.7 1.1-.5-.5-1.3 1.1-.2-.5-1 1.3-.5-.6-1 1.1-.5-.3-1 .9-.5-.6-2.5 2.2-.5-.9-2.5 2.3-.5-1-3.8 5.1-3 2.4-.5-.4-1.5.8-4.5.7-1.5-.4-.5.7-1.5-1.1-.5 1.8z"/>
<path fill-rule="evenodd" fill="#00fff8" d="M108.4 554.4l-8-3.3-7 1.2-.3-2.1-1.9 1.4-.2-1.7-1.6.2-2.4-2.2-1.4-6.6-17-4.2-35.7-23.6-16.5-9.5-16.3-8.5 0-165.4 259.8 0 0 149.1-17.8 18.4-36 8.3-20 4-3.2 0-2 3-1.5.7-.3.8-.5-.1-.1.8-.9-.2-.2 1.4-1.8.5-1.7 1.4-.5-1.1-1.7 1.8-10.4 5.7-1.9 1.8-2 .2-.1 2-4.1 1-.7.5.1 1.6-2.9.4-.1 1.5-1.2-.3 0 1.4-1.1-.3-.2 1.2-.7-.2-.5 1-.8-.2-.2 1.2-1-.4-.1 1.4-1.4-.5 0 1.8-1.3 0-.2-.4-1 .8-.5-.7-1 1.3-.5-.3-1 1-.5-.7-1 1.4-.5-.3-1 1.1-.5-.9-1 1.2-.5-.3-1 1.3-.5-.7-.8.9-.7-.1-1 1.2-.5-.9-1 1.3-.5-.5-3.3 5-3 1.9-3.5.8-3.2-.1-.5.4-.8-.4-.5 1.1-2.4-1.7-.3 2z"/>
<path fill-rule="evenodd" fill="#00ffef" d="M106.9 553.1l-6.5-2.3-4.8.8-.4-.2-.1-2.6-1.2.2-1.9 1.4-.1-1.6-1.3.7-2.9-2.1.4-.3-1.5-2-.1-2.7-.6-2.2-20-4.8-33-21.9-16.5-9.5-16.3-8.5 0-165.4 259.8 0 0 149.1-12.8 13.1-64 16-3 3.7-2.2 1.5-.3.8-1.5-.1-1.1.7-2.9 2.9-.5-1-1.7.8-1.3 1 .2 1-.6.8-5.4 3.2-2.9 1.5-.7-1-.2 2-3.5.5-.4 2-4.1 1 0 1.8-2.1.2 0 1.2-1.3-.3 0 1.2-1-.2-.1 1.1-.9-.1-.2 1-1-.2-.3 1.2-1-.2 0 1.1-1.9 0-.8 1.4-.5-.9-1 1-.8.1-.7 1.1-.5-.9-1 1.1-.5-.3-1 1.3-.3-.6-1 .9-.5-.5-1.2 1.4-.5-.5-.8.9-.7-.2-1 1.1-.5-.7-.8 1.1-.7-.4-4.5 5.7-3.8 1.8-6.2.7-1-.7-.5 1.7-3-2.2-.5 2.3z"/>
<path fill-rule="evenodd" fill="#00ffe6" d="M109.4 551.7l-2.8-1.9-2.7-1-.4.1-.4 2.4-2.7-.7-2.5 0 0-2.7-2.3.3-2.7 1.1-.3-2-1.5.9-.1-.8-1.4-.1-2.5-2.8-1-6.2-3-1-19.7-3.7-30.5-20.1-16.5-9.5-16.3-8.5 0-165.4 259.8 0 0 149.1-11.8 11.8-66 16.6-2 2.8-.6.2-.1.7-1.3.5-.2.7-1 .1.2 1-1.2.2-2.5 2-.5-1.3-3.5 2.9-8.3 4.2-2 2-1.6.3-.2 2-4.7 1.2-.4 2-2.7.3-.1 1.7-1.3-.3 0 1.1-1-.2-.2 1.2-.8-.3-.2 1.1-1 .1-.3.9-.9-.3-.2 1.2-1.2-.2.1 1.5-1.8.1-.2-.7-1 1.3-.5-.5-1 1.3-.5-.5-.8.8-.7-.3-1 1.1-.5-.5-.8 1.2-.5-.6-1 1.1-.7-.2-.8 1-.5-.7-1 1.2-.5-.4-1 1.1-.5-.8-1 1.2-.7-.1-1.9 3.1-3.4 3.4-.7-.3-6 1.4-1.5-.4-.5.7-1.5-1.1-.5 1.9z"/>
<path fill-rule="evenodd" fill="#00ffde" d="M108.4 550.1l-8-3.2-6.5 1.5-.4-.3-.1-2-1.5 1-.3-.9-1 .5-3.3-3.6-.7-5.7-1.2-.9-25.5-5.1-27-18-16.5-9.4-16.3-8.5 0-165.4 259.8 0 0 149.1-9 9.2-68.5 16.9-2.3 3.4-.5.2-.1.7-2.1 1.3 0 .8-1.5 0-1.5.7-3.5 3.5-10.3 5.6-1.7 1.7-3.3.4-.1 2-4.8 1.5-.1 1.6-2 .1 0 1.4-1.2-.4 0 1.1-1-.2 0 1.2-1 0-.2 1-1 0-.3.9-.9-.2-.1 1.3-1.8-.4-1 1.3-.7-.5-1 1.4-.5-.6-.8 1.2-.5-.8-1 1.3-.5-.3-1 .9-.5-.7-1 1.4-.5-.3-1 1.2-.5-.9-1 1.3-.5-.5-1 1.3-.5-.8-1 1.1-.7 0-2.5 3.4-1.2.7-.1.8-1.2.5-.3.8-.5-.2-1 .7-.5-.2-3 .9-2.7.3-1.5-.3-.5.8-2.3-1.5-.2 1.9z"/>
<path fill-rule="evenodd" fill="#00ffd5" d="M106.9 549l-6.5-2.4-4.3 1-.4-.2.1-2.5-1.7.2-1.5 1 0-1.2-1.2.6-.3-.9-1 0-2.5-2.5-.2-3.7-.8-2.2-3-.1-23.7-4.7-27-18-16.5-9.4-16.3-8.5 0-165.4 259.8 0 0 149.1-8.8 8.9-1 .4-44.5 9.8-23.5 5.9-.7.4-1 2.1-1.5 1.2-.1.7-1.4 1.4-.8-.1 0 1.2-2.2.7-1.3 1.2-.7-.9-3 2.4-7.8 3.9-2.7 2.3-1.3.2-.2 2.2-2 .2-3 1.1-.2 1.7-3 .8-.1 1.2-1.2-.1-.2 1.1-.8-.1-.2 1.1-1 0-.1 1-.8-.2-.2 1.1-1-.1-.2 1-1-.2-.3 1.5-1.7.1-.5-.5-2.3 1.9-.5-.9-2.5 2.3-.5-.8-2.5 2.1-.5-.6-.7.9-.8-.4-1 1.3-.5-.8-1 1.3-.5-.5-1 1.3-.5-.6-2.2 3.8-1.3.5-1 1.5-.7-.2-1.3.9-1.7.5-2.5 0-.5.6-2-.1-.5.4-1-.7-.5 1-2.5-2-.5 2.5z"/>
<path fill-rule="evenodd" fill="#00ffcc" d="M103.1 547.2l-2.7-.8-2.3.2 0-2.7-4.7 1.2-.3-1.2-1 .4-.2-.9-1.3.5-.2-.7-2-1.3-.7-1.5.1-2-.9-3.2-2-.1-28-5.7-13-9-13.5-8.5-14-7.9-16.3-8.5 0-165.4 259.8 0 0 149.1-8.8 8.9-46.7 10.6-22.5 4.5-.8.3-1.1 2.4-1 .5-.1.7-.5 0-1.6 2-1.6 0-1.6.9-2.8 3.1-10.4 5.5-1.5 1.6-3.2.7-.2 1.7-.6.5-4.5 1.3-.2 1.7-1.6.3-.5 1-1-.1-.2.9-.8-.2 0 1.1-1-.2-.1 1.2-.9-.1-.2 1.3-1-.2-.3.9-1.5-.3-3 2.3-.5-.5-1 .9-.5-.3-1 1.4-.5-.6-1 .9-.5-.4-1 1.2-.5-.3-.7 1-.5-.8-1.3 1.4-.5-.5-.7 1-.5-.5-1.3 1.3-.5-.3-3.1 3.5-.1.7-2 1.3-.3.8-1.2-.2-3.5 1.2-2-.1-1.5.5-.5-.3-.5.8-1.5-1.1-.8 1-1-.9-3.7-1.3-.8 2.4z"/>
<path fill-rule="evenodd" fill="#00ffc4" d="M110.1 545.7l-1.7-1.1-.5 1-.7 0-6.6-2.7-6 1.2-.2-1.8-1.8 1.2 0-1.3-1 .7-.2-.8-1 0-1.6-1.5.1-.5-.9-1-.7-5.2-1.2-1-34-6.8-21.7-14.2-14-7.9-16.3-8.5 0-165.4 259.8 0 0 149.1-5 4.9-20.8 4.6-52.5 13.3-.9.6-1.3 2.3-2.5 2.7-.7 0-.1.8-2 .7-1.5 1.3-.7-.7-2.5 1.8-6.5 3.4-.6.5.2 1.5-.9.7-1.7.7-.3-1.2-1.8.8-.3 2.2-4.9 1.3-.5.5 0 1.5-3.3.7-.2 1.8-1-.4-.2 1.1-.9-.2-.1.9-1 .1 0 .9-1-.2 0 1.2-1-.3-.2 1.4-.9-.3-.4 1.2-2 .5-.5-.4-.8 1.1-.5-.5-1 1.1-.5-.5-1 1.1-.5-.5-.7 1.2-.5-.7-1 1.1-.8-.2-.7 1.2-.5-1-2.5 2.1-.5-.8-2.5 2.2-.8-.6-.7 1.9-1.4 1.8-.6 0-.1.7-2.9 2-.5-.2-5.3 1.1-1.2-.2-.3.4-1-.4-.5.9z"/>
<path fill-rule="evenodd" fill="#00ffbc" d="M105.4 544.4l-4.8-1.9-3.7.6 0-1.8-3.5.8-.3-1.1-.7.5-.5-.7-.8.5 0-1.2-.7.4-1.5-1.1-1.5-7-3 0-32.5-6.5-21.5-14-14-8-16.3-8.4 0-165.4 259.8 0 0 149-5 4.9-50 11-24.3 5.9-1.7 3.2-2.3 1.7-.2 1-1.8-.2-.3 1.8-.4 0-.5-1-2.5 2.7-1.5 1-9.1 4.5-1.7 1.7-2.9.6-.3 2.2-5.3 1.5 0 1.8-2 .2-.2 1.3-.8-.2-.5.8-.7 0-.2.9-.8 0-.1 1-.9-.3-.2 1.3-.8-.2-.3 1.2-1.5-.4-.2 1.9-.4 0-.4-1.4-1 1.2-.5-.1-1 .9-.5-.7-.7 1.1-.8-.1-.7.9-.5-.9-1 1.4-.5-.3-1 1.2-.5-.8-1 1.1-.8-.1-.7 1.1-.5-.8-1 1.1-.5-.2-1 1.2-.5-.5-.6.4-2.2 3.3-.7.7-.8 0 0 .8-3.7 1.7-5.8.4-.5.7-1.5-.9-.5 1-3-1.6-.7 1.7z"/>
<path fill-rule="evenodd" fill="#00ffb4" d="M110.4 543l-1.8-1.2-.7 1.2-5.3-2.2-.5 1.7-2.8-.1-.2-2-4.5.9-.2-1.5-1.5.6-.3-.9-.7.6-.5-.7-.8 0-2.1-2.3-.9-6.5-1-.5-36.2-5.2-10.8-7.2-13.5-8.3-26-13.9 0-165.4 259.8 0 0 149-5 4.8-51.3 11.5-23.2 4.4-2 3.4-1 .4-.8 1.3-.8 0-.2 1.1-1.7.4-1.8 1.5-.5-.9-6.8 3.9-1.2 1 .2 1.2-.4.5-4 2.4-.8-1.4-.8.8-.2 1.7-2.7.5-2.4 1-.4.5 0 1.5-1 .6-2.5.2-.2 1.7-1-.2-.3 1.2-.7-.2-.3.9-.8-.2-.2 1-.9 0-.1 1-1-.3 0 1.2-1-.4-.2 1.5-1.6-.2-2.2 1.4-.5-.5-1 1-.5-.2-.7 1.1-.5-.7-1 .9-.5-.3-1 1.4-.5-.7-1 1.1-.5-.4-1 1.2-.5-.5-1 1.1-.5-.5-1 1.3-.5-.4-1 1-.5-.7-1.5 2.9-1.5 1 0 .8-.8.1-1.3 1.6-.9-.4-2.8 1-3.5.2-.5.4-1-.5-.2.9z"/>
<path fill-rule="evenodd" fill="#00ffad" d="M106.4 541.7l-5.8-2.2-4 .9-.2-2-2.8 1.1-.4-.9-.8.1-.3-.7-.7.6-1.8-1.5 0-.9-.8-.3-.6-5-1.6-1-36.2-5.2-24.3-15.3-26-13.9 0-165.4 259.8 0 0 149-79.8 19.6-2.4 3.7-1.5 1.2-.1.6-1.9-.1.1 1.5-.8.3-.6-.9-3 3-9.8 4.6-2.2 2.1-2.1.4-.3 2-5.7 2-.1 1.8-2 0-.1 1.5-1-.4-.1 1.1-.6-.1-.5.9-.8-.1-.2 1-.8-.3 0 1.1-1-.2-.2 1.2-1.4-.5.1 1.8-1 .1-.5-.8-1 1.4-.5-.8-2.2 1.6-.5-.5-1 1.2-.5-.5-2.3 1.8-.5-.7-2.5 2-.7-.5-2.5 2.1-.5-1-2 3.1-1.5 1.7-.5-.2-.3 1-.7 0-.3.8-2.7.3-1 .6-4.3.2-.5.8-1.2-1.1-.5 1.1-2.5-1.5-.5 1.6z"/>
<path fill-rule="evenodd" fill="#00ffa5" d="M108.4 540.2l-4.3-1.9-.6.1-.2 1.5-.7 0-1.7-.7-2.2.2-.1-1.8-4 .9-.5-1.5-1 .7-.2-1.1-1 .6-.3-.7-.5.1-2.1-2-.7-5-1.4-1.3-41.8-7-19-11.9-26-13.9 0-165.4 259.8 0 0 149-27.8 6.6-51.7 11.1-.9.6-1.1 2.7-2 1.5-.3.8-.7-.1 0 1.1-2 .5-1.8 1.6-.5-1.1-5.5 3.2-.7 2.3-4.8 2.3-2.3 2.2-3.7.6-1.6.9-.2 1.7-1.2.8-2.9.5-.1 1.5-1.1-.3-.1 1.3-.8-.3-.2 1.1-.8-.1-.2.9-.8-.2-.2.9-.9-.1-.1 1.3-1-.4 0 1.2-2-.1-.8 1.2-.5-.7-.7 1.2-.5-.6-1 1.2-.5-.4-1 .9-.5-.4-1 1.1-.5-.3-.8 1.2-.5-1-1 1.2-.7 0-.8 1-.5-.8-2.5 2.1-.5-.9-1 1-.7.1-1.4 2.9-1.4.6-.2.9-.9 0-.1.8-1.3 0-.7.8-.5-.3-1.3.7-2.7.4-1.3-.2-.5.5-.7-.5-.5.8-1.5-1-.5 1.1z"/>
<path fill-rule="evenodd" fill="#00ff9d" d="M107.1 539l-6-2.4-4.5 1-.4-.2-.1-1.7-2.5.8-.2-.8-1.8.1-.2-.9-1.3-.7-1.2-1.6-.4-4.5-.3-.7-1.1-.6-45-7.5-21.2-12.9-20.8-10.9 0-165.4 259.8 0 0 147-56.3 12.5-23.5 5.9-2.2 3.5-2.1 1.6 0 1-1.7-.2-.2 1.7-.9.3-.4-1-4.4 3.5-8.6 4-1.7 1.8-1.8.4-.4 2.3-6 2-.2 1.7-2.1.3 0 1.2-1.1-.2-.1 1-.8 0-.2 1-.6-.2-.3.7-.9 0 0 1-1-.2-.3 1.2-1-.5 0 1.7-2-.2-.7.8-.5-.8-1 1.3-.5-.4-1 1.4-.5-.9-2.3 2-.5-.9-1 1.2-.5-.3-1 1.3-.5-.5-1 1-.5-.5-1 1.3-.5-.7-1 1-.5-.5-2.5 3.2-.2.9-1.7.6-.1 1-1 0 0 .9-.7 0-.5-.5-.5.6-4.8.6-1.2.6-1.5-.9-.3 1-2-1.1-.5 1.4z"/>
<path fill-rule="evenodd" fill="#00ff95" d="M110.6 537.4l-1.5-1-.5 1-4-1.8-.7 1.7-3.3-1.2-2.2.6-.3-2.1-3.5 1-.5-1.2-1 .6-.2-1.1-.8.6-1-.3-.2-1-1.4-1.1-.4-4-.7-1.5-2 0-44.6-7.5-20.9-12.7-20.8-11 0-165.3 259.8 0 0 146.9-57.5 13-22.5 4.5-.8.4-.9 2-2.3 2.6-.9.1.1 1.3-2 .2-2 1.8-.5-1.1-4.2 2.6-.3 2-6.5 3-2 2.1-4.4 1.1-.7.8-.1 1.5-1.8.9-2.5.3-.2 1.7-1.1-.4-.1 1.5-.8-.4-.3 1-.8-.1-.1 1-.8-.1-.3.7-.7-.1-.2 1.2-.8-.3-.3 1.1-1.7-.1-1.3 1.5-.2-.8-2.5 1.9-.3-.4-1 .8-.5-.5-1 1.3-.5-.5-1 .9-.5-.3-1 1.3-.5-.4-1 1-.5-.8-1 1.4-.5-.5-1 1-.5-.6-3.5 3.8-.2 1-2 .7 0 .9-2 0-1.3.8-4 .1-.2.5-.8-.3-.5.8z"/>
<path fill-rule="evenodd" fill="#03ff90" d="M107.6 536.4l-5.7-2.5-.5 0-.5 1.7-.5-.2 0-1.7-4 1.1-.4-.2-.1-1.6-2.1.9-.4-1-1.5-.2-2.1-1.8-.9-5.3-1.5-.4-49.3-8.3-17.2-10.5-20.8-11 0-165.3 259.8 0 0 143.5-27.8 6.4-52.5 13.2-4 4.7-.2 1-1.5-.3-.3 2-1 .3-.2-1.1-.5.1-3.1 2.7-7.7 3.5-.4 2.3-.6.4-1 .2-.5-1.2-1 1-1.5.6-.1 2-6.4 2.2-.2 1.9-2 .1-.3 1.2-1-.2-.1 1-.9-.1 0 1-.8-.1-.2 1-.7 0-.5.7-.5-.2-.3 1.1-1.1-.1 0 1.5-1.9.3-.2-.8-1 1.2-.5-.5-1 1.3-.3-.6-1 .9-.5-.4-1 1.1-.7-.3-.8 1-.5-.6-1 1.1-.2-.4-1 1.4-.5-1.1-2.8 2.3-.5-.8-1 1.2-.7-.1-2.3 3.4-.7 0-.1 1.1-.9-.1-.5.8-3 1-4.5.3-.5.8-1.3-.8-.5 1-1.5-1.3-.5 1.6z"/>
<path fill-rule="evenodd" fill="#07ff8b" d="M110.6 534.6l-1.2-1-.5.9-3.5-1.5-.5 1.6-3.8-1.5-3 .7-.2-1.9-3.5 1-.3-1.1-.7.5-.3-.9-.7.5-.5-.6-.8.1-.3-.3.3-.7-1.3-1-.9-5-1.3-.7-52.2-8.7-14.5-8.6-20.8-11 0-165.3 259.8 0 0 143.4-63 14.1-16.3 4.3-2 0-.6 2-1.1 1.6-1.3 1.3-.7 0-.1 1.3-1.9.4-2 1.7-.8-.9-2.9 1.8-.1 1.8-.7.5-7.1 3-1.9 2.2-3.5.8-.8.7 0 1.5-2.5 1.4-2.7.4-.2 1.7-1.1-.4-.2 1.3-.9-.1-.1 1-.8-.3-.1 1-.8 0-.3 1-.6-.2-.4.8-.8-.2-.2 1.3-1.5-.4-1.5 1.6-.5-.6-1 1.3-.5-.6-.8 1.3-.5-.9-1 1.4-.5-.4-1 1.1-.2-.8-1 1-.8-.1-.7 1.1-.5-.8-1 1-.5-.2-1 1.2-.5-.7-1 1.2-.5-.4-1 1.2-.5-.2-1 1.8-1.3 1 0 .8-1.2-.1 0 1.1-1 0-.5 1-.6.2-.4-.6-5.3 1.4-1-.6-.5 1z"/>
<path fill-rule="evenodd" fill="#0aff85" d="M107.9 533.5l-4.8-2.2-.8.1-.3 1.5-1.9 0-.2-2-4 1 0-1.8-2 .9-.3-.7-.7.2-1.3-1.2-.5.5 0-.9-.5-.1-.7-1.4-.6-4.3-2.4-1.1-54.8-9.1-15.7-9-16.3-8.5 0-165.3 259.8 0 0 143.3-58.3 13.3-23.2 4.6-3.3 4.7-1.2.1-.2 1.5-1.6.8-.3-1-.4-.2-2 2.2-7.5 3.5-.5 2.2-2.8 1.3-.5-.9-1.4.6-.4 2.3-6.7 2.2-.2 2-2.2.3-.3 1.2-1-.2 0 1.3-.8-.3-.2 1-.9-.3-.1 1-.8 0-.2 1.1-.8-.3-.2 1-.9-.3-.1 1.5-1.3-.1-.7.4-.5-.7-2.3 2-.5-.8-1 1.2-.5-.3-1 1.3-.2-.8-1 1-.5-.3-1 1.1-.5-.4-1 1-.5-.5-1 1.2-.5-.3-1 .9-.5-.7-1 1.4-.8-.5-2.2 3.5-1 .1 0 1.2-1.3-.1-.2 1.1-7 1-.5.5-1-.7-.5 1-1.5-1.2-.5 1.4z"/>
<path fill-rule="evenodd" fill="#0dff80" d="M105.6 531.9l-4.5-1.8-3.2.9-.3-1.9-3 .9-.4-1.1-.8.6-.3-1.2-.5.7-.5-.6-.7.2-1.3-2.5-.7-5.5-4.5-.4-57-9.6-11.5-6.7-16.3-8.5 0-165.3 259.8 0 0 141.2-63.5 14.1-17.5 4.5-.8.3-1 1.9-2.6 3-2.3.5-3.3 3.5-4 2.1-6 2.4-1.7 2-2.9.8-.4 2-1.1.7-2.7 1-2.3.3-.1 2-1.1-.2-.3.9-.9-.1-.3 1.1-.7-.2 0 1-.8-.3-.2 1.2-.9-.2-.1 1.1-.8-.1-.5.8-1.3-.3-.1 2-.8-1.3-1 1-.8.1-.5.9-.5-1-1 1.3-.5-.3-1 1.1-.5-.6-.7 1.1-.5-.6-1 1.3-.5-.6-1 1.3-.5-.9-1 1.5-.5-.6-1 1.4-.5-1-1 1.2-.8 0-2.7 3.3-.5-.1-.1 1-1.5 0 .1 1.1-4 1.1-1-.2-1 .6-2-.3-.5.9-1.3-.9-.5.8-3-1.3-.5 1.5z"/>
<path fill-rule="evenodd" fill="#10ff7a" d="M108.4 530.6l-4.8-2-.4 0-.3 1.7-2-.6-1.3.2-.2-1.9-3.5 1.2-.2-1.8-.6 0-1 .8-.5-.8-.5.2-1.2-1-.7.3.1-.8-1-1-.4-4.5-.5-.9-1-.4-63.3-10.5-25-13.4 0-165.3 259.8 0 0 141.1-58.8 13.2-20 4-3.2.3-.6 1.4-1.4 1.5-1 1.9-1 .1-.2 1.3-2.3.8-.3-.8-.5 0-2.5 2.1-5.4 2.6 0 1.8-.5.5-3.6 1.4-.7.8-.8-1-.5 2.3-3.3.7-3.8 1.8-.1 2-2.4.2-.1 1.3-1-.1-.3 1-.7-.2-.2 1-.8 0-.1.8-.9-.3 0 1.3-.8-.3-.3 1-.9-.2-.3 1.3-1.5 0-.7.8-.5-.5-2.3 1.4-.5-.6-1 1.4-.5-.4-.7 1.1-.5-.8-1 1.3-.5-.3-1 1.1-.5-.9-2.5 2.3-.5-1.1-1 1.4-.5-.5-1 1.5-.5-1.1-2.3 3.8-1.2.2.1 1.1-1.8.2.1 1-2.2-.1-1.2.6-.5-.3-.8.6-.7-.4-1.3.9-1.2-.8-.3.9-1.5-1.1-.2 1.2z"/>
<path fill-rule="evenodd" fill="#13ff75" d="M106.4 529.2l-5-2.2-3.8 1.2-.1-1.8-2.9.7-.2-.9-.8.5-.2-.9-.8.4-.7-.4-.6-.4.1-.8-.8-.5-.9-5.7-1.1-.6-67.5-11.2-21-11.2 0-165.3 259.8 0 0 141-82.3 16.6-1.7 2.7-1.5 1.3-.3 1.1-1-.4-.9.2-2.6 3.1-1.5 1-8.8 3.7-2.2 2.3-2.3.4-.6 2.5-6.3 2-.2 2-1.3-.3-.3 1.3-.7-.1-.5.7-.5-.2-.3 1.2-.7-.3-.3 1-.7-.2 0 .9-1 .2-.2.8-1.1-.4-.2 1.9-1 .2-.5-1.2-1 1.4-.3-.6-1 1.3-.5-1-1 1.3-.5-.3-.7 1.2-.5-1.1-1 1.4-.8-.1-.7 1.2-.5-1-1 1.2-.8-.2-.7 1.3-.5-1-1 1.3-.5-.5-1 1.2-.5-.5-2.5 3-.9.3-.1 1.1-1.5.1-.2 1.3-2.5.2-1.1.7-.5-.6-2.5.8-.7-.4-.5.9-1.1-.9-.4.9-2.5-1.4-.5 1.6z"/>
<path fill-rule="evenodd" fill="#16ff6f" d="M110.1 527.7l-1.2-1-.3.9-.5.1-3.7-1.8-1 1.7-1.8-.9-2.2.4-.2-1.7-3.3.9-.3-1.7-1.5.7-.2-.5-2.5-.7-.8-1.5-.6-5.7-1.1-.6-67.8-9.8-21-11.1 0-165.3 259.8 0 0 137.7-64.5 14.3-17.5 3.5-3.3 5-.9.3-.1 1.1-1.5.3-1.2 1.1-.8-.9-5.6 3.1-.3 2.3-5.7 2.5-1.6 2-3.5.5-3.2 1.7-.5.5 0 1.8-2.8.3-.3 1.6-1-.3 0 1.1-1.7.6-.3 1-.8-.1-.2 1-.7-.4-.1 1.2-.9-.2-.3 1-1.7-.2-2.3 2.1-.5-1-1 1.3-.7-.2-.8 1.2-.2-.7-1 .8-.5-.3-1 1.4-.5-.9-1 1.3-.5-.5-1 1.2-.5-.3-1 1-.5-.8-1 1.4-.5-.5-1 1.2-.5-.7-2.2 3.6-1.3 0-.3 1.5-1.2-.1-2.3 1-3.5.4-.5.6-1-.6-.5.8z"/>
<path fill-rule="evenodd" fill="#19ff6a" d="M107.1 526.4l-1 0-4.5-2.3-4.2 1.2-.3-1.8-2.5.8-.2-1.1-1-.2-.5.6-.8-.4-1.1-1.6-.9-5.1-6.2-1.3-62.8-8.8-21-11 0-165.3 259.8 0 0 137.6-82.3 16.6-2.5 4.1-1 .7 0 .8-1.7-.3-4.4 4-7.8 3.3-.1 2.2-.7.5-1.3.4-.2-1.6-1.3 1.2-1.3.3-.4 2.5-2.5.6-2.8 1.5-1.5.1-.1 2-1.1.2-.8-.4 0 1.5-1-.3-.2 1.1-.5-.2-.5.9-.7 0-.1 1.1-.7-.4-.3 1.1-.7-.4-.2 1.3-1-.2-.1 1.2-1.7.1-.5-.4-1 1.2-.3-.9-1 1.3-.5-.5-1 1.3-.5-.6-.7.9-.5-.6-1 1.5-.5-.4-1 .9-.5-.6-1 1.4-.5-.5-1 1-.5-.6-2.5 2.2-.5-1-2.5 3.6-.8.2-.1.8-1.8.2-.6 1.4-1 .3-.5-.4-3.2.8-1.3-.3-.5 1-1-.9-.7.7-2-1.1-.3 1.3z"/>
<path fill-rule="evenodd" fill="#1cff64" d="M110.4 524.9l-1.3-1-.2 1-.5.1-3.5-1.7-.5 1.6-3-1.4-2.3.7-.2-1.8-3.3 1.2-.1-1.7-1.1.6-2.8-1.6-1.3-5.8-1.2-.6-42.5-7.2-32.5-4.5-14-7.4 0-165.3 259.8 0 0 136.5-82.5 16.5-3.2 5-.8 0 0 1.3-1.5 0-2 1.9-.3-1.3-1.1.4-2.3 1.5.1 1.7-.6.5-7.1 2.9-2.2 2.4-2.8.4-1.6.8-.1 2-2.3 1.5-3 .5 0 1.3-1-.3-.2 1.4-.8-.3-.2 1-.8.1-.2.6-.5-.2-.3 1.2-.7-.4-.3 1.2-.7-.6-.3 1.5-1-.6-.8.1-1.4 1.8-.3-.5-1 .9-.5-.6-1 1.3-.8-.1-.4.8-.5-.9-1 1.2-.8 0-.7 1.2-.5-1.1-1 1.4-.5-.5-1 1.5-.3-1.1-1.2 1.3-.5-.4-1 1.5-.5-1-1 1.2-.5-.4-.3 1.3-1.7 2.3-1.7-.1-.3 1.4-3 .9-3 .3-.5.6-1-.7-.5.8z"/>
<path fill-rule="evenodd" fill="#20ff5f" d="M107.6 523.9l-5-2.3-.4 0-.2 1.5-1.1.1-.3-1.8-3.5 1 0-1.6-2.2.7-.5-.8-.7.4-.1-.7-.5.5-1-.4.2-.9-1.1-1-.8-4.4-4.5-.3-31.8-5.5-40-5.7-14-7.3 0-165.3 259.8 0 0 135-82.8 16.8-3.3 5.2-1.4-.2-.1 2-.9.2-.5-1.2-2 2-7.1 3.2-.4.5.2 1.8-3 1.3-1 .9-.4 0-.3-1.5-.6.3-.4.5.1 2-2.6.6-5.3 2.4-.1 2-2.1 0 0 1.2-1-.4-.1.9-.7 0-.2 1.2-.5-.2-.5.7-.5-.2-.3 1.3-.7-.3-.3 1-.8-.2-.2 1.3-1.7-.1-.5.7-.5-.4-.8 1.1-.5-.9-1 1.3-.5-.4-1 1.4-.2-1.1-1 1-.5-.1-1 1.4-.5-1.1-.8 1.2-.7-.2-1 1.2-.5-.7-1 1.2-.5-.5-1 1.3-.5-.6-1 1.1-.5-.5-1.8 2.6-1.4.5-.1 1.4-2.5.3-1.5 1.2-3.2.5-.8-.4-.5.9-1-.9-.5.8-1.5-1.1-.5 1.6z"/>
<path fill-rule="evenodd" fill="#23ff59" d="M105.1 522.2l-3.5-1.6-2.7.8-.3-1.8-3 .9-.2-1.4-1 .8-.3-.6-1.2-.2-1.4-1.7-.9-4.5-42-5.3-34.7-5-13.8-7.2 0-165.3 259.8 0 0 133.7-83 16.8-2.1 3.8-.9 1.2-.6 0-.1.8-1.8.2-2 2.4-3 1.9-7.4 2.7-2.6 2.3-2.6.7-.4.5.2 1.8-.7.5-3.8 1.9-2.6.3-.1 1.6-1.1-.3-.1 1.2-.8-.3-.3 1-.5-.2-.2 1-.8 0-.1.8-.6 0-.3.9-.9-.2-.1 1.2-1.4-.7.2 2-1 .1-.5-.8-1 1.1-.3-.9-1 1.1-.7-.1-.8 1.2-.2-.8-1 .9-.5-.5-1 1.5-.5-.9-1 1.2-.5-.5-1 1.4-.5-.7-.8 1.3-.7-.7-1 1.4-.5-.5-.8 1.1-.7-.7-3 3.3-.3 1-1.2-.2-1 .5 0 1.3-1.8.5-.5-.3-1.7.5-.8-.3-1.2.8-.8-.4-.7.5-1-.8-.3.7-.7 0-2.8-1.3-.5 1.6z"/>
<path fill-rule="evenodd" fill="#26ff54" d="M108.1 521.1l-4.7-2.2-.8 1.6-2 0-.5-1.8-3 1-.2-1.8-2 .7-.3-.9-1.2.1-1.6-1.2-.9-4.7-1.3-1-78.7-9.9-10.8-5.6 0-165.3 259.8 0 0 133.5-80.5 16.3-3.3.1-2.7 4.6-1-.2.1 1.5-1.9.9-.2-1.2-.5 0-1.5 1.4-5 2.4 0 2-.5.5-4.8 1.7-2.2 2.3-3.1.7-4.4 2.3-.2 2-2.3.2-.3 1.3-1-.3 0 .8-.8 0 0 1-1.7.6-.1 1.1-.9-.2 0 1-1-.1 0 .9-1.7-.2-1 1.6-.5-1-.8 1-.7-.2-.8 1.1-.5-.5-1 1.1-.2-.7-1 1.1-.5-.2-1 .9-.5-.7-.8 1.1-.5-.2-1 1.1-.5-.8-2.7 2.4-.5-.9-1 1.2-.5-.3-2 2.9-1.2.1.1 1.3-3.7 1.4-3.7.2-.5.8-1-1-.5.9-1.5-.9-.3 1.3z"/>
<path fill-rule="evenodd" fill="#2aff4f" d="M105.9 519.4l-4.3-1.9-3 1-.2-1.7-2.8 1.1-.2-1.5-.8.6-1.7-.8-1.1-1.3-.9-4.5-4.5 0-75.5-9.5-10.8-5.5 0-165.3 259.8 0 0 132.3-80.8 16.3-3.2.3-3 4.7-1.5-.1-3.4 3.3-8 3.2-.4.5-.1 2-.3.3-1.6.6-.5-1.5-2.5 1.4-.5 2.5-5.1 2.5-2.5.5-.3 1.7-1.1-.3-.1 1.1-.6-.2-.3.7-.7-.1-.3 1.3-1.5.4-.2 1.1-.8-.3 0 1.3-1-.7 0 1.7-2.2-.1-.8.7-.5-.5-1 1.2-.5-.4-.7 1-.5-.9-1 1.2-.5-.3-1 1.5-.5-1.1-2.5 2.3-.3-1-1.2 1.4-.5-.4-1 1.3-.5-.8-1 1.1-.3-.4-.5.2-.7 1.4-2 1.6 0 .8-2.8.7-.7 1.5-.8-.6-3.7 1.2-.8-.7-.5.7-1-.8-.5.9-2.7-1.3-.5 1.4z"/>
<path fill-rule="evenodd" fill="#2fff4b" d="M108.4 518.4l-4.3-2.1-.6 1.6-1.9-.7-1.5.4 0-1.7-3 .9-.5-1.6-1.5.6-.5-.6-.5.3-.2-.7-.5.6 0-.8-1-.3-.5-1.3-.8-4.4-3 0-81-10.1-2-.4-5-2.7 0-165.3 259.8 0 0 131.9-83.8 14.8-.7.8-1.1 2.8-1.2 1.4-.7-.1-.1 1.4-.9.1-1.5 1.2-.3-1-.5-.2-4.4 2.7.2 1.7-.5.5-6.5 2.3-1.8 2.1-3.7 1.1-3.9 2.3-.4 2.2-2.5.5-.2.9-.8-.2-.2 1.2-.5-.2-.3.6-.7.1-.3 1.1-1.5.3-.1 1.2-.9-.1-.2.9-1.7-.3-1.1 1.5-.7-.6-2.3 2.2-.2-.8-1.3.8-.2-.4-1 1.4-.5-.9-.8 1.1-.9 0-.8 1.2-.5-.8-.8 1.1-.5-.4-1.2 1.3-.5-.8-.8 1.2-.5-.5-1 1.1-.7-.4-.7 1.7-1.3 1.5-1-.2-.2 1.5-.8.5-2.3.9-.7-.7-3.5 1.2-1-.7-.5.7-1-.8-.5 1.4z"/>
<path fill-rule="evenodd" fill="#35ff47" d="M106.4 516.8l-4.5-2.2-3.3 1.2-.3-.2.1-1.5-2.8 1-.2-.9-.8.1-2.3-1.4-1.2-5-8 0-78-9.8-5-2.7 0-165.3 259.8 0 0 131.8-48.5 8.8-31.5 5.2-4.5.1-1.3 3.1-1.5 1.9-1.5-.2-3 2.9-6.9 2.9-.8 2.8-3.8 1.5-.3-1-.7 0-.4.5.3 1.7-.5.5-2.6.7-3 1.8-3 .8-.1 2-1.2-.1-.2.7-.8 0-.2 1-.5-.2-.3.7-.7 0-.2 1.1-1.6.5-.2 1.2-.8-.4 0 1.2-1.7 0-.5.8-.5-.9-1 1.1-.3-.5-1 1.5-.5-1-1 1.3-.2-.4-1 1-.5-.5-1 1.1-.5-.6-1 1.3-.5-.5-.8 1.1-.5-.7-2.5 2-.5-.7-1 1.1-.7-.1-2.8 2.9-.2 1-4.3 1.6-2.5.3-.5.6-.7-.4-.8.5-.7-.7-.5.8-2.5-1.3-.5 1.5z"/>
<path fill-rule="evenodd" fill="#3aff43" d="M108.6 515.5l-3.7-1.9-.4 0-.6 1.5-2-1-2 .7-.3-1.8-2.7.9-.3-1.5-1.5.5-.2-.7-2.5-.8-.5-4-.5-.5-86.5-9.7-2-.3-2.8-1.5 0-165.3 259.8 0 0 127-56 11.2-28.8 6.8-2.1 4-.7.3-.2.8-1 .1-2 1.6-.7-1.1-2.2 1.3-.1 2-.5.5-7.6 2.5-2.1 2.3-3 1-.8.7.1 1.5-.9.8-1.7.8-.2-1.3-.6 0-.1 1.7-.4.5-2.7.5-.2 1.4-1.8.4-.2 1.1-.5-.2-.3.8-.7 0-.2 1-.6-.1-.2.8-.8-.2-.2 1.2-1.3-.7 0 2.2-.9-.2-.3-.9-1 1-.5-.5-.8 1-.5-.2-.7.7-.8-.5-.7 1.1-.3.2-.2-.5-1 1-.5-.7-.8 1.1-.7-.1-.8 1.2-.5-1.1-1 1.4-.7-.2-.8 1.2-.5-1-1 1.3-.7-.3-.8 1.2-.5-.9-.5 1.7-1.5 1.4-.8-.1-1.2.7-.7 1.8-1.3.5-.5-.5-3.2.3-.3.8-1-.8-.5.8-1-1-.5 1.3z"/>
<path fill-rule="evenodd" fill="#40ff3f" d="M106.9 514l-4.5-2.1-.8 1.7-.2-1.7-3 1.1-.3-1.7-2.5 1-.2-1.1-.5.3-2.2-1.1-.8-4.7-1.5-1-2-.5-88.3-11 0-163.1 259.8 0 0 126.9-81.8 16.6-3.2.1-.8 2.1-1.7 2.6-1.3-.3-.1 1.8-.4.1-.5-1.5-2.2 2.2-5.6 2.4-.1 2-.4.5-4.3 1.3-1.9 2.3-3.7 1.2-3.5 2.1-1.8.4-.1 2-.6.3-1-.3-.2 1.2-.8-.1-.3.6-.5-.1-.2 1.1-.5-.2-.3.7-.7 0-.1 1-.7-.1-.2.8-.8-.2-.2 1.1-1.8-.2-.5.9-.7-.3-.8 1-.5-.3-1 1-.5-.7-2.2 2.1-.5-.9-1 1.2-.5-.3-.8 1.1-.5-.9-2.5 2.1-.5-.4-1 .9-.5-.4-1 1.2-.7-.4-2.7 3.7-1.6.4-2.5 1.6-1.5-.3-1.5.8-.7-.6-.5.8-1-.9-.3.7-2.2-1-.5 1.4z"/>
<path fill-rule="evenodd" fill="#45ff3b" d="M108.9 512.6l-3.8-1.6-.5 1.4-2.7-1.2-2.1.7-.4-1.6-2.5.9-.1-1.6-1.4.6-.8-.3-1.9-1.5-.9-5-3.2-1.1-88.5-11 0-161.2 259.8 0 0 126.8-49.3 10-36 5.9-1.4 2.8-1.1.8-.2 1.2-1.5 0-2.7 2.8-1.8 1-6.6 2.2-.4.3.2 2-.8.5-1.4.3-.5-1.1-.8.7-1.6.6-.5.5 0 1.7-.5.5-4.7 2.5-2.9.6-.2 1.4-.8-.2-.3 1.1-1.5.5-.2 1.1-.5-.2-.3.8-.7-.1-.2 1-.6-.1-.2.7-1-.1 0 1.6-1.7-.1-.3-.9-1 1.5-.5-.4-.8 1.2-.5-1-2.2 2-.5-.8-.8 1.2-.7-.4-1 1.2-.3-.6-1 1-.5-.5-1 1.4-.5-.6-1 1-.5-.6-1 1.4-.5-.5-1.2 1.1-2 2.5-1.3-.2-3.7 2.6-.5-.4-2.3 1-.7-.6-.5.5-1-.6-.5 1z"/>
<path fill-rule="evenodd" fill="#4bff37" d="M107.1 511.4l-4-2-.5 1.5-1.2 0-.3-1.8-2.7 1.2-.5-1.7-2 .8-.5-.7-1.8-.4-1-1.7-.7-4.2-3 0-88.8-11.2 0-161.1 259.8 0 0 124.3-82.3 16.5-3.2.1 1.3.4-1.6.5-.6 1.7-1.4 1.9-1-.1 0 1.6-1.3.4-.4-1.1-3.3 2.3-2.6 1 0 2-.6.5-5.8 1.7-1.7 2.3-3.8 1.2-3.2 2.3-1.6.5-.1 1.8-1.1.4-1-.2 0 1.1-.9-.1-.3.8-.5 0-.1.7-.7 0-.1 1-.6-.2-.3.8-.7-.1-.1 1-.7-.1-.2.7-1.9-.1-2.4 2.1-.5-.7-1 1.3-.5-.5-1 1.2-.2-.6-1 1-.5-.6-.8 1.1-.5-.2-1 1.1-.5-1-1 1.5-.5-.3-1 1.2-.5-1.2-.9 1.4-.6-.2-1 1.3-.5-.9-1.5 2.3-1.1.5-.1 1.2-4 1.9-.5-.7-1.5.4-.5.6-.8-.4-.5.4-1-.5-.5.6-1.7-1-.8 1.5z"/>
<path fill-rule="evenodd" fill="#50ff32" d="M109.1 509.9l-3.2-1.6-.8 1.6-3-1.7-2.5 1-.2-1.8-2.5 1.1-.1-1.6-1.4.3-2.2-1.1-1.3-4.9-3-.9-88.8-10 0-160.2 259.8 0 0 123.9-41 7.3-44 8.9-1.4.9-1.7 3.8-1.5-.3-2.4 2.6-1.8 1-5.7 1.9-.4.3-.1 2.2-2.8.9-1 .9-.4-1-.6 0-.8 2.7-2.7.9-4 2.6-2.5.5 0 1.3-1-.3-.1 1.3-1.6.5-.1.7-.7.2-.2.6-.5-.2-.3 1-.6-.1-.2 1-.7-.1-.5 1.1-1.7.5-.5-.7-1 1.5-.3-.7-1 1-.5-.6-.7 1.1-.5-.3-1 1.1-.5-.8-1 1.2-.5-.3-.8 1.2-.5-.9-1 1.1-.5-.2-1 1.4-.5-1-1 1-.5-.2-1 1.4-.5-.9-3 3.5-1.7.3-2.9 2.3-2.4-.3-.2.7-1-.7-.5.7-.8-.7-.5 1.1z"/>
<path fill-rule="evenodd" fill="#54ff2c" d="M107.9 508.7l-3.9-2.1-.4 0-.5 1.7-1-.4-1 .3-.2-1.9-2.5 1-.5-1.6-2 .9-.4-.7-1.9-.5-1.5-5-8-.8 8-.2-1-.8-2-.5-89-11.2 0-156.8 259.8 0 0 123.8-86 15.2-1.5 3.2-.5.6-.9-.3.1 1.5-2.2 1-.3-1.1-3.7 1.9-.6 2.5-6.9 2.2 0 2.3-.8-1.6-1.2 1.6-3.7 1.2-4.7 3 0 2-1.5.5-1-.2-.1 1.2-.8-.3-.2 1.1-1.4.5-.1.7-.7 0-.1.8-.7-.1-.3 1-.6-.2-.2 1-1.3-.5-.1 2.1-.7-.1-.3-1.3-2.3 2.1-.5-.9-1 1.2-.5-.3-.7 1.1-.5-.8-1 1.2-.8-.2-.5.9-.5-.8-1 1.4-.5-.7-1 1.4-.5-.7-1 1.3-.5-.8-1 1.4-.5-.3-1 .9-.5-.7-.7 1.8-.8.4-.2.9-.6 0 0 .8-3.4 1.7-.5-.6-1.8.8-.5-.3-.2.5-.8-.5-.5.6-.7-.6-.5.7-1.5-1.1-.5 1.6z"/>
<path fill-rule="evenodd" fill="#59ff27" d="M109.4 506.9l-3-1.3-.8 1.4-3.5-1.7-2.5 1-.2-1.7-2.5 1.2-.1-1.7-1.2.4-1.5-.6-.9-1-.8-4.5-92.3-11.7 0-156.6 259.8 0 0 117.7-62 13.7-23.5 5.9-.8.4-.8 2.3-1 1-.2.9-1.7-.1-2.4 2.5-6.3 2.5.1 2-4.2 1.3-2 2.5-4 1.4-3.6 2.5-2.5.5-.1 1.8-1-.4 0 1.2-.8-.3-.2.8-1.3.7-.2.7-.6 0-.2.8-.7-.1-.3 1-.6-.2-.3 1-2.8.5-1 1.2-.3-1-.7 1.1-.8-.1-1 1.2-.2-.7-1 1.1-.5-.6-1 1.3-.3-.6-1 1-.5-.5-1 1.2-.5-.4-1 1-.5-.6-1 1.2-.5-.3-1 1.3-.5-1-2.7 3.5-1 0-3.3 2.6-.7-.5-1.5.1-.5.6-2-.5-.5.7z"/>
<path fill-rule="evenodd" fill="#5dff21" d="M108.1 505.9l-3.7-2-.8 1.5-1.2-.5-1.6.2-.2-1.6-2.5.9-.2-1.6-2 1-.3-.8-1-.1-1.2-1-.8-5-3.2-.9-89.3-11.3 0-154.6 259.8 0 0 117.6-63.3 14.2-23.2 4.5-.9 2.7-1.6 1 .1 1.3-1.1 0-1.8 1.6-.2-1.4-.5 0-1.5 1-.1 1.8-.7.7-6.5 2 .1 2-.3.5-2.3.8-.5-1.2-3.2 1.7 0 2-.6.5-1.9.9-.8-1.2-1.8 1-.3 2.3-2.6.3-.3 1.2-.7-.3-1 1.7-1.3.4-1 1.9-.7-.3-.3 1-.7-.3-.2 1.6-1.3.2-.5-1-1 1.5-.5-.8-.8 1-.5-.4-1 1.3-.5-.6-.7.8-.5-.4-1 1.2-.5-.3-.8.7-.5-.5-1 1.4-.5-.6-1 1.5-.5-1.2-1 1.5-.5-.5-.2.2-.8 1.3-.5-1.1-1 1.3-.6-.2-1.4 2.4-.6.1-.1.8-1.8 1-.7-.8-2 1.5-1-.1-.5.4-.5-.3-.5.5-.8-.7-.5.8-1.5-1.1-.5 1.5z"/>
<path fill-rule="evenodd" fill="#62ff1c" d="M106.1 504.4l-3.7-2.1-2.8 1.3-.5-1.6-2.3.9 0-1.5-2.9-.5-.5-.8-.5-3.5-3.3-.5 3-.1.1-.9-3.1-1-89.5-11.3 0-152.7 259.8 0 0 117.2-71.5 14.3-15.3 3.7-1.7 3.9-1.5-.2-3 2.5-4.5 1.9.1 2-.7.5-4.9 1.2-1.9 2.3-3.8 1.5-3.6 2.7-2.4.5-.3 2-1.2-.2-.1 1-.7-.3-.3.9-.5-.1-.2 1-1.3.5-.2 1-.5-.3-.3 1.1-.7-.2-.3.8-1.7-.2-1 1.3-.5-.2-.8.9-.5-.7-1 1.3-.2-.3-.6.2-.4.8-.5-1-.8 1.2-.7-.1-.8 1.1-.5-.9-1 1.2-.5-.3-1 1.3-.5-1.1-.7 1.2-.8-.2-1 1.3-.5-.7-1 1.2-.5-.5-2.5 3.3-1-.1-2.7 2.1-2.5 0-.3.5-1-.5-.2.6-1-.7-.5.9-2.5-1.2-.8 1.4z"/>
<path fill-rule="evenodd" fill="#67ff17" d="M108.6 503.1l-3.5-1.8-.4.1-.6 1.3-1.7-.9-1.8.4 0-1.6-2.5 1.2-.1-1.7-1.9.9-2.3-1.9-.9-4-3.3-1.1-89.5-11.3 0-152.6 259.8 0 0 117.1-70.5 14.2-15.8 2.8-.8.4-.7 2-1.2.8 0 1.2-1.3-.1-4.2 3.4-5.6 1.7-.4.5.2 1.8-3 .9-1.2 1.5-.3-1.7-1.2.5 0 2.3-3 1.3-3.7 2.7-2.8.5-.3 1-1 .2 0 .8-1.2.5-1.3 1.5-.5-.2-.1 1.2-.6-.2-.3.7-.7-.3-.1 1.5-2.2.5-.2-.4-1 .7-.3-.7-2.5 2.2-.2-.9-1 1-.5-.2-1 1.3-.5-.6-.8.9-.5-.5-1 1.4-.5-.7-1 1-.5-.5-1 1.4-.5-.6-1 1.2-.5-.8-1.5 2.1-1.8 1.2-.2 1.1-1.5.7-.5-1-2.2 2-.8-.6-.5.6-.7-.5-.5.7-.8-.6-.5.6-1-1-.5 1.5z"/>
<path fill-rule="evenodd" fill="#6cff12" d="M106.9 501.4l-.5.1-3.3-1.9-.4 0-.3 1.5-.5-1.5-2.5 1.1-.3-1.7-2.2 1.2-.3-1.6-.7.2-1.6-.4-1.4-4.9-8-.1-84.8-10.8 0-152.5 259.8 0 0 112.7-63 14-24.3 6.1-.8 2.7-.8.8-1 0 0 1.5-1.1.5-.3-1.6-1.7 1.5-3.4 1.6 0 2-.6.5-5.6 1.5-.4 2.5-.6 0-.4-1.8-1.5 1.9-3.5 1.4-3.5 2.8-2.3.7-.2 1.9-1.3-.3-.1 1.1-.8 0-.1.8-.5 0-.2.6-.5-.2-.3 1-1.5.5 0 1.1-.7-.1-.3.6-1-.5-.5.2 0 2.2-.7-1.3-1 1.4-.5-1.2-.8.9-.7 0-.8 1.4-.5-1-.7 1.1-.5-.6-1 1.5-.5-.6-.8.8-.5-.4-1 1.3-.5-.6-1 1.3-.5-.9-1 1.4-.5-.3-1 1-.5-.7-1 1.2-.5-.1-1.5 2.1-2 .7-2 1.7-.5-.4-1.2.8-1.3.2-.7-.5-.5.5-.8-.4-.5.6-2.5-1.2-.2 1.4z"/>
<path fill-rule="evenodd" fill="#73ff0d" d="M108.9 500.4l-3.5-1.9-.5 1.6-2.5-1.3-1.8.9-.2-1.7-2.3 1-.2-1.7-1.8.8-2-1.7-1-4.8-8-.1-85-10.8 0-150.6 259.8 0 0 112.6-64.3 14.5-23.2 4.8-1.8 3.6-1.2-.1-2.4 2.4-2.1 1.2-4 1-.5.5-.2 2.3-3.8.8-2.1 2.4-3.4 1.4-3.6 2.9-3.2.8-.2 1.1-.8-.2-.2 1.1-.6-.1-2.4 2.8-.8 0 0 1-.7-.1-.3.9-1.5-.1-.7 1-.5-.8-.8 1-.7-.2-.8 1-.5-.2-.7.8-.5-.6-1 1-.8 0-.5.9-.5-1-1 1.4-.5-.3-1 1.2-.5-.9-1 1.2-.5-.3-1 1.5-.5-1.1-1 1.3-.7-.3-.9 1.7-.4-.4-2.1 2.6-.9.3-.5-.7-2.2 1.9-.5-.7-1.8.7-.7-.4-.5.8-1-1.1-.5 1.5z"/>
<path fill-rule="evenodd" fill="#7aff09" d="M107.1 498.9l-3.5-1.9-.7 1.5-1.1-.1-.2-1.6-2 1-.4-.2-.1-1.3-2.2.9-.3-1.5-1.2.1-1-.7-1.1-4-3.2-1.1-90-11.2 0-148.7 259.8 0 0 112.2-72.5 14.5-14.5 3.7-.8.3-1.2 3-.8-.2-.2 1.3-1.8 1-.7-1.1-3.2 1.8.2 1.8-.3.5-5.7 1.5-.5 2.5-2.3.8-.5-1.3-8 5.3-1.7.7-.2 2-1.6.1-.2.6-.9.3-.1.8-2 1.2-.3.8-.5-.1-.2.9-.6-.1-.2.7-1-.2.1 1.7-1.6.2-.5-.7-.5.8-.7-.4-.8.8-.5-.2-.7 1-.8-.7-.7 1.1-.8-.1-.7 1.2-.5-.9-.8.8-.7.1-.8 1.2-.5-1-1 1.2-.5-.4-1 1.4-.5-.9-.7 1.2-.8-.3-1 1.1-.5-.6-.7 1.6-1 .5-.3 1-.9-.2-1.8 1.5-.5-.4-1.3 1.1-2.2-.3-.3.5-.7-.5-.8.6-2-1-.5 1.5z"/>
<path fill-rule="evenodd" fill="#80ff04" d="M109.1 497.6l-3.2-1.8-.5 1.6-2.8-1.6-2 1-.5-1.7-2 1.2-.1-1.7-1.6.6-2-1.8-1-4-8 0-85.3-10.8 0-148.5 259.8 0 0 112.1-71.5 14.5-15.8 2.7-2 2.4-.2 1.3-1.3-.5-2.7 2.5-4.9 2-.3 2.3-5.1 1-2 2.5-3.2 1.5-4 3.1-3 .7-.1 1.4-.7-.1-.5.8-.5-.1-2.4 2.9-.6 0-.2 1-.5-.2-.3 1-1.7-.3-1 1.6-.5-1-1 1.3-.5-.3-.8 1.1-.5-.9-.7.9-.5-.3-1 1.4-.5-.9-.8 1.1-.5-.5-1 1.5-.5-.9-1 1.4-.5-.6-1 1.3-.5-.4-1 .9-.5-.5-1 1.3-.5-.5-2.2 2.5-.7 0-.1 1.2-1 .4-.7-.6-1.8 1.6-.5-.8-.7.7-1.3.2-.7-.3-.5.4-.8-.6-.5 1.3z"/>
<path fill-rule="evenodd" fill="#87ff00" d="M107.6 496.2l-3.2-1.9-.5.1-.5 1.3-1.8 0 0-1.6-2.5 1 0-1.7-2 .9-.2-1-1 .2-1.3-1.1-1-3.8-3.2-.6-90.3-10.3 0-147.6 259.8 0 0 109-55 11-32.5 7.9-.8.5-1 2.4-.7.2-.2 1.3-.8-.1-1.8 1.5-.5-1.3-.4.1-.2 2-.9.8-6 1.7-.5 2.5-2.7.5-1 1.1-.8-1-.8.7-.1 2-4.3 2.4-.5-1.5-2.7 1.6-.2 2-2.1.3-.3 1.2-.7-.2-1 1.5-1.1.4-.2 1-.5-.1-.5.7-.5-.2-.2.9-.7 0-.1 1.2-2 .6-.2-1-2.3 2-.5-1-1 1.4-.5-.5-.7 1.1-.5-.3-1 .7-.3-.4-2.5 1.7-.5-.6-1 1.4-.5-.5-1 1.4-.2-1.1-2.5 2.1-.5-1-1.2 2.5-.6 0-.2.8-1-.2-1.5 1.5-.5-.6-1.3 1.1-3.2 0-.5.3-1.8-.7-.5 1.4z"/>
<path fill-rule="evenodd" fill="#8eff00" d="M105.9 494.6l-3-1.8-2.3 1.2-.5-1.6-1.7.7-.3-1-1.3.3-2.2-2-1-2.8-8-.2 8-.1.1-.4-1.1-.6-2-.5-90.5-11.2 0-144.5 259.8 0 0 108.9-87.8 18-.7.3-1.2 3.1-1.6-.5-2.2 2.1-3.9 1.6-.3 2.3-5.3 1.2-.4 2.5-.9 0-.5-1.1-1 1.2-3.7 1.8-3.8 3.1-3 1 0 1.4-.7-.3-.3 1.1-1.4.6-.2.7-1.1.5-.3.9-.5-.2-.2.7-.8.1-.1.8-.9-.5-.5.2 0 2.1-.4-.1-.2-1.2-.4-.1-.7 1-.5-.5-1 1.4-.3-.6-1 .8-.5-.4-.7 1-.5-.3-1 1-.5-.7-2.3 2.2-.5-1.1-1 1.4-.5-.5-.2.2-.8 1.2-.5-1-2.5 2.4-.5-1-1.2 2.1-.5-.1-.2.8-.8-.2 0 1.3-1 .2-.5-.7-1.5 1.5-.5-.7-2.3 1-2-.3-.5.9-2.8-1.5-.4 1.5z"/>
<path fill-rule="evenodd" fill="#94ff00" d="M107.6 493.2l-3-1.6-.5 1.5-1.2-.6-1.3.5-.2-1.7-2 .9-.1-1.3-1.4.3-3-1.8-1-2.9-3.3-.8-90.5-11.2 0-144.4 259.8 0 0 108.8-52.8 10.8-31.2 5.1-4 1-1.5 2.4-.7.2-.1 1.2-1-.2-2.3 2.2-2.2 1.2-4.3 1.1-.4 2.5-3.8.6-1.9 2.6-3.3 1.6-2.8 1.9-.7-1.2-.9.5-.1 2-2 .7-.8-.3-.2 1.3-.7-.2-.1.7-2.7 2-.3 1-1.4.5-.3 1-1.5.1-.5.7-.5-.6-2.3 1.9-.5-1-2.2 2.2-.5-.9-.8.9-.5-.3-1 1.5-.5-1.1-.7 1.2-.8-.2-1 1.2-.5-.7-1 1.2-.5-.5-1 1.4-.5-.8-2.1 2.3-.6.1-.2.9-.8-.1-1.5 1.4-.5-.7-1.3 1-4 .6-1.5-.7-.5 1.1z"/>
<path fill-rule="evenodd" fill="#9bff00" d="M108.9 491.4l-2.3-.8-.5.9-.7-.1-2.5-1.5-2.3 1.1-.2-1.2-2.5.2-.5-.6-2.2-1 .2-.5-1.3-1.5-.2-1.6-6-1.5-87.8-8.8 0-144.4 259.8 0 0 108.5-45.5 7-42.8 8.7-.6.6 0 1-.9 1.5-1.2-.1 0 1.6-.8 0-.2-1-.5.1-1 .9-3.2 1.5-.3 2.2-5.2 1.3-.3 2.5-2.5.6-.5-.8-5 2.7-3 2.8-2.8.9-.1 1.5-.9-.1-.2 1-.5-.1-1.8 2.2-.7.6-.5-.3-.3 1.2-.5-.2-.2.6-.8-.1-.1 1.7-1.4.2-.5-1-.7 1-.8-.1-.5.9-.5-.9-1 1.1-.7.1-.5.8-.5-.8-1 1.3-.5-.3-.8.8-.5-.6-1 1.2-.5-.5-1 1.3-.5-.7-.7 1.3-.5-.9-1 1.3-.5-.2-1 1-.5-.7-1.7 1.9-.1.8-.9 0 0 1-.5.2-.6.1-.2-.8-1.3 1.1-.5-.3-1.5.7-3.7.5z"/>
<path fill-rule="evenodd" fill="#a2ff00" d="M109.1 490.2l-1.5-.6-1 .3-1.7-.9-.5 1-1.5-.5-1.2.4-.3-1.3-1.3.5-.2-.5-.8.2-.5-.6-2-.3-2.5-3.2-6.2-1.5-87.8-8.8 0-144.3 259.8 0 0 108.4-45.5 7-43 7.6-1.2 2.3-.6.2-.2 1.2-1-.3-2.3 2.2-2 1-3.3.7-.5 2.5-4.6.7-2 2.8-4.2 2-3.7 3.2-2.9.7-.3.9-.5-.3-1 1.9-1 .4-1 1.4-.7 0 0 .8-.8.2-.2.5-1.8 0-1 1.1-.3-.3-.9 1.3-.5-.7-.8.9-.5-.4-1 1.1-.5-.4-.7 1-.5-.7-.8 1.1-.5-.4-1 1-.5-.6-1 1.3-.5-.2-1 .9-.2-.8-2.8 2.2-.2-.9-1.3 1.9-1.5.6 0 .8-1 0-1.2 1.1-.8-.5-.7.7-4.3.5-.5.5z"/>
<path fill-rule="evenodd" fill="#a8ff00" d="M109.4 488.6l-1.3-.5-.7.5-1.3-.6-1 .4-2-1-1.7.5-1.3-.2-.3-.6-1.1 0-.1-.5-2-.3-1.7-1.6-.5-2.4-6.3-1.5-88-8.8 0-141.9 259.8 0 0 108.4-45.5 7-39 6.5-4.8 1.1-1 1.6-.8-.1.1 1.4-1.8.9-.5-1.3-2.4 1.3-.6 2.5-5.2 1.2-.3 2.5-2.7.3-1.3 1.5-.5-1.3-.9.8 0 1.7-.5.5-2.8 1.3-.8-1.3-2.7 2.4-2.1.6-.3 2-1.1-.1-.3.8-.5-.2-1 1.6-1 .4-.2.9-.5-.1-.3.8-.5-.1-.2 1-.7 0-.3 1-1.8.2-.5-.4-.7 1-.5-.3-.8.6-.5-.5-1 1.4-.5-.4-.7 1.1-.5-.9-2.3 2-.5-1-2.5 2.4-.2-1-1.3 1.2-.5-.4-1 1.3-.2-1-1 1.4-.5-.4-.3.2-1.2 1.9-.9.1-.1 1.1-.8.4-.5-1.1-1.2 1.2-.5-.3-1.3.6-2.7.1-.5.5z"/>
<path fill-rule="evenodd" fill="#afff00" d="M109.9 487.1l-1.5-.4-.5.5-1.5-.6-.5.5-1.8-.6-.5.5-1.2-.1-.3-.5-1 .2-.2-.6-1 .2-3.8-1.8-1.7-3.1-4.5-.2-5.8-.9-84-8.2 0-141.9 259.8 0 0 108.3-51.8 8.2-35.5 4.5-2.2.9-1.1 1.9-1.2-.3-2.5 2.3-4 1.2-.4 2.5-4.7.8-.3 2.5-1.3.1-.5-.9-1 1.1-3.7 1.9-3.8 3.5-3 .8-.3 1.2-.7-.2-.3 1-.5-.2-.2.7-1.8 1.2-.1 1-1.4.4-.2 1-1.5-.4 0 2-.5-1.6-2.3 1.8-.5-.9-1 1.5-.5-.2-.7.9-.5-.9-1 1.3-.5-.3-.8 1-.5-.7-.7.9-.8-.2-1 1.4-.5-.8-.7 1.1-.5-.5-1.3 1.3-.5-.4-.7.8-.5-.5-1 1.5-1.8 1.6-.7 0-1.3.9-.5-.2-4.7 1.2z"/>
<path fill-rule="evenodd" fill="#b6ff00" d="M110.1 485.6l-1.2-.3-.8.4-1.5-.5-.5.4-1.5-.6-.5.5-2.2-.6-.8.1-.5-.5-.7.2-.3-.6-2-.2-.2-.6-2.2-1.2-.8-2.2-6-1.5-88.3-8 0-140.3 259.8 0 0 106.5-85 12-4 1-.8.8 0 .9-.7.7-.5-.1-.2 1.2-.8.2-2.4 2.1-2.4 1.2-3.9.8-.4 2.5-3.7.4-2.1 2.8-4.9 2.8-.7-1.3-1.5 1.3-1.8.7-.4 2-1.4 0-.2.9-.7.1-.3.7-1.7 1.2-.3.7-.5-.1-.1.8-.6-.2-1 2-2.8.3-.7 1.1-.5-.9-.8.8-.7.1-.8 1.2-.2-1.1-1 1.2-.5-.4-1 1.2-.5-.5-.8.9-.5-.6-1 1.3-.5-.3-1 .9-.2-.6-1.3 1.2-.5-.3-.7 1.2-.5-1.1-1 1.4-.8 0-.2.9-.5-.2-.3 1.3-.9-.1-.1 1-.5.2-.7-.9-1 1-4.3.7z"/>
<path fill-rule="evenodd" fill="#bcff00" d="M110.1 484.1l-1-.2-.5.4-1.5-.5-.7.3-1.3-.5-.5.4-1.2-.4-1.3.3-1.5-.9-.7.1-.5-.6-1.9-.1-2.1-1.9-.8-1.5-6.2-.8-88.3-8 0-140.1 259.8 0 0 106.3-86.5 12.5-3.3.1-1 2-1.2-.2-2.5 2-3.4 1.3-.1 2.3-4.6.7-.3 2.5-1.9.4-1 .9-.2-1.5-4.5 2.7-3.8 3.6-2.8.9-.4 1.1-.7-.1-.1 1-2.5 1.7-1 1.5-.6.1-.1.8-.9-.3-.2 1.7-1.2.1-.5-.9-1 1-.2-.8-1 1.2-.3-.6-1 1.4-.5-.5-.7.8-.5-.6-1 1.4-.5-.4-.8.6-.5-.4-1 1.2-.5-.2-.7 1.1-.5-.9-1 1.2-.5-.4-1 1.3-.5-.9-1 1.2-.5-.4-1.3 2-.9 0-.1 1.1-1.2-.1-1 .9-.5-.6-.8.7-3.5.5z"/>
<path fill-rule="evenodd" fill="#c3ff00" d="M109.1 482.9l-3.5-.7-.5.5-1.7-.6-1.3.4-.4-.6-2.1-.2-.2-.7-.8.2-1.2-.6 0-.5-.8.1-1.8-1.8-.2-1.3-6-1.5-88.5-8 0-137.5 259.8 0 0 104.7-87.8 12.5-2.2.8-1.3 2-3.6 2.5-1.6.8-3.3.5-.4.5.3 1.7-.7.5-4.1.5-2.1 2.5-3.9 2.3-2.3 2-.5-1.4-1.8.9-.4.5 0 1.7-1.3.6-.8-.2-.2.8-.8.1-1.5 2.1-1 .5-.2.8-1.3.3-.2 1.1-1.8-.2-1 1.4-.2-.6-1 .8-.5-.4-2 1.8-.5-.9-2.3 2.2-.5-.9-1 1.1-.5-.3-1 1.3-.2-1-1 1.3-.5-.4-1 1.1-.5-.4-1 .9-.5-.5-1.5 2.2-.8-.3 0 1-1.3 0 0 1.2-.5 0-.4-.9-1 .9-4.8.4-.5.4z"/>
<path fill-rule="evenodd" fill="#caff00" d="M109.6 481.4l-1.5-.5-.7.5-1.3-.6-.5.5-1.7-.6-.5.5-.5-.6-1 .3-1.5-1-.8.3-2.5-1-2-2.2-.2-1.3-6-.1 6-.1 0-.4-12.5-.2-82.3-7.5 0-137.3 259.8 0 0 101-85.5 14-4 1-1.5 2.5-1 0-.2 1.3-.4 0-.4-1.5-1.8 1.4-2.4 1.1-.1 2.2-4.8 1-.1 2.3-2.7.2-1.6 2-.3-1.2-.4-.3-.8.8.1 1.5-.7.7-1.9.9-.5-1.3-3.8 3.1-2.7 1 0 1.1-.8.1-.2.8-.6.1-2.7 2.5-.9 1.5-.6-.2-.2 1.4-2.3-.2-.7 1-.5-.9-2.3 2.2-.2-1-1 1-.5-.3-1 1.2-.3-.5-1 1-.5-.6-1 1.3-.2-.5-1 .8-.5-.4-1 1.3-.8-.5-.7 1.2-.5-.9-1 1.4-.5-.3-1 .7 0 1-1-.2 0 1.4-1.3-.4-1 .8-.2-.6-1 .7-3.8.6z"/>
<path fill-rule="evenodd" fill="#d0ff00" d="M109.9 480l-1.5-.5-.5.5-1.3-.5-.5.3-1.7-.5-1.3.3-1.2-.2-.5-.6-2.8-.5-2.2-1.4-1.3-2.5-6.2-1.6-88.8-8.8 0-133.9 259.8 0-.3 101.2-31.2 4.6-56.8 9.7-2 .1-1 .9-.2 1-1-.2-3 2.4-3.6 1.1-.4 2.2-4.3.8-.2 2.4-1.7.3-.3-1.5-.9 1.3-3.4 2-3.2 2.9-.7.1-.1-1.1-.6.1-.4.5.1 1.5-2.8 1-.3.9-.5-.2-4.2 4.5-1.5-.2-1.8 2-.2-1-2.3 2.2-.5-1-.7 1-.5-.3-1 1.3-.5-.8-.8 1-.5-.4-1 1.3-.5-.4-.7 1.1-.5-.9-1 1.3-.5-.3-1 1.2-.5-.9-1 1.2-.8-.2-1 1.5-.7-.2 0 1.1-1.4-.1.1 1.3-.5 0-.5-.9-1.5.8-2.2.1-1.5.6z"/>
<path fill-rule="evenodd" fill="#d7ff00" d="M110.4 478.4l-1.5-.3-.5.4-1.5-.5-.5.4-1.5-.6-.5.5-1.5-.1-3.8-1.6-1 .2-.1-.7-1.1-.2-1.8-1.9-6.2-1.3-88.8-8.8 0-133.8 259.8 0-.3 101.1-88 12.8-2.7.9-.3.9-.6-.2-.2 1.3-1.4.7-.5-1.2-2 1-.1 2-.6.5-4.6 1-.4 2.5-3.6.2-2 2.7-4.2 2.6-.5 0-.3-1.3-2.7 2.3-2.8 1.2 0 1.4-.7-.2-.3 1-1 .3-1.7 2.3-1 .4-.3.9-.5-.1-.2 1-1.8 0-.5.8-.5-.9-2 1.8-.5-.3-1 .7-.2-.5-1 1.2-.5-.2-.8.8-.5-.9-2.2 2.2-.5-1-1 1.2-.8 0-.7 1.2-.5-1-1 1.2-.5-.5-1 1.4-.5-.6-.5.4-.3 1.3-.8-.3-.2 1.5-1-.3-1 .6-.2-.3-4 .8z"/>
<path fill-rule="evenodd" fill="#deff00" d="M115.6 476.9l-.7-1.2-1.3.7-3.2.6-1-.4-.5.5-1.5-.6-.5.5-1.5-.5-.5.5-1.3-.6-.9.2-.3-.4-.8.3-1.2-.5-.3-.6-1 .3-.1-.8-.9.4-1.2-.8-2.3-3-5.5-1.2-89-9 0-131.2 259.8 0 0 99.4-86 12.3-4 .9-1.5 1.1-.3 1.1-1-.4-2.7 2.2-3 .9-.4 2.5-4.2.5-.3 2.5-1.9.2-1 .9-.5-1.3-4.1 2.7-4.7 4.3-1.9.7-.8-.2-.1 1-.6-.1-.3 1-2.2 1.5-.3 1-1.2.5-.3.9-.8-.3 0 1.7-1.4 0-.3-.8-.7.9-.5-.6-1 1.2-.3-.4-1 .9-.5-.8-.7 1.1-.8 0-.7 1.2-.3-1-1 .9-.7 0-.8 1.1-.2-.7-1 1-.8-.3-.7 1.2-.5-.7-1 1.2-.5-.6-1 1.2-.5-.5-.8 1.3-.8 0-.2 1.2-1.4-.2-.1 1.5z"/>
<path fill-rule="evenodd" fill="#e4ff00" d="M109.6 475.8l-1.7-.7-.5.5-1.5-.6-1 .3-1-.5-1.3.5-.2-.6-1 .2-.3-.7-1 .4-.2-.8-1 .3-.3-.6-2-.6-1.2-2-3 0 3-.2 0-.4-12.5-.6-82.8-8.5 0-131.1 259.8 0 0 95.8-88.8 14.7-1.5.5-1.2 1.8-.5 0-.2 1.2-3.5 2.3-1.6.7-3.3.5-.4 2.5-3.8.3-.5 2.4-.7-1.7-1.5 2-5 3.7-.4.1-.4-1.6-2 1.9-2.3.9-.4 1.5-.8 0-.2 1-.5-.1-.8 1.2-1.7 1.2-.3.9-.2-.3-1 .8-.3.9-1.5-.2-1 1.1-.5-.6-.5.9-.7.1-.8 1-.5-.9-1 1-.2-.4-1 1.4-.5-.8-.5.8-.8-.2-1 1.2-.2-.6-1 1-.5-.6-1 1.3-.5-.3-1 1-.5-.7-1 1.4-.5-.6-.8 1.1-.5-1-.7 2-.9 0-.1 1.2-5.5.6-.8-.2-.5.6z"/>
<path fill-rule="evenodd" fill="#ebff00" d="M110.4 474.4l-1.8-.8-.5.8-1.5-.8-.7.5-1.5-.6-.5.4-1.5-.2-.3-.5-1 .3-.2-.9-1 .3-.5-.6-1 .4-3-3-12.5-.1-82.8-8.5 0-131 259.8 0 0 95.5-91.3 15.4-.7 1.1-1-.4-2.3 1.8-2.6.9-.3 2.5-4.4.7-.4 2.3-2.8.1-1.5 1.8-.5-1.1-4.7 3-2.8 3.2-3 1-.5.8-.5-.2-.2.9-3 3-.5.1-.3.8-.7 0 0 1.2-1.8.4-.5-1.1-2.2 2-.3-.5-2.2 1.4-.5-.6-.8 1.3-.5-.6-1 1.2-.5-.4-.7.9-.5-.8-1 1.3-.8-.1-.7 1.2-.5-1.1-1 1.4-.5-.3-1 1.1-.5-.8-1.3 1.3-.2 1.1-1.4-.2-.1 1.3-.5-1-1.5.7-2.5.2-.5.6z"/>
<path fill-rule="evenodd" fill="#f2ff00" d="M109.1 472.9l-2-.8-.5.7-1.5-.8-.6.6-1.1.1-.3-.6-1.1 0-.1-.6-1.3.4-.2-.8-1 .5-.3-.9-.7.1-1.5-.7-1.3-1.9-4.5 0-10.7-1.5-80.3-7.3 0-129.3 259.8 0 0 94-86.5 14.3-4.8 1.2-1 .7-.1.8-2.9 2.1-4.6 1.2-.5 2.5-3.9.2-.3 2.5-1.7.2-.5-.8-6.5 5-.4.1-.6-.9-3.4 2.2-.5 1.7-.8-.2-.2.7-.6 0-4 4.6-1.3-.3-2.9 2.4-.5-.7-.8.9-.5-.4-1 1.3-.2-.4-1 .7-.3-.6-1 1.1-.7 0-.5.9-.5-.8-1 1-.6-.2-.9 1.3-.5-.8-1 1-.8 0-.7 1.2-.5-1-.8 1.1-.5-.4-.1 1.4-1.1.1-.3 1.1-5.5.6-1.2-.4-.3.6z"/>
<path fill-rule="evenodd" fill="#f8ff00" d="M109.9 471.6l-1.8-.9-.5.8-1.7-.9-.8.8-1-.6-1.1.3-.1-.8-1.3.4-.2-.8-1 .3-.3-.7-1 .4-.2-.7-1.3-.1-2-2.7-6-1.4-89.5-9 0-125.9 259.8 0 0 92.6-90 14.9-1.9 1-.4.9-1-.5-2 1.5-2.1.9-.5 2.2-4.2.8-.2 2.3-3.7.2-1.8 2.8-4 2.4-.2-1.3-.8.1-2.7 3-3.3 1.5-.2.7-.5 0-.2.8-1.6 1-.7 1.3-2 1.3-.3 1-2 .4-.5-.3-2 1.6-.5-.9-2.2 2.3-.5-.9-1.5.7-.8 1.3-.2-.9-1 1.2-.5-.5-1 1.2-.5-.5-1 1.2-.5-.8-1 1.3-.5-.4-1 .9-.3-.7-1.2 1.4-.1 1.3-1.7-.5-2.5 1.2-2.2-.2-.5.7z"/>
<path fill-rule="evenodd" fill="#ffff00" d="M110.6 470.2l-1.7-.9-.5.8-1.5-.8-.8.6-2.2-.9-1.3.6-.2-.8-1 .4-.3-.6-1 .1-.3-.6-.9.3-.3-.8-2-1-.7-1-3 0-7.3-1.2-85.5-8.5 0-125.8 259.8 0 0 89-47 8.5-44 8.9-1.5 1.2-.2.7-.8.1-2 1.8-4.1 1.1-.3 2.2-3.9.5-.1 2.3-2.1.1-1 1-.5-.9-3.7 2.3-3.1 3-.5-1.1-3.3 1.8-.2 1.8-.9 0-.1.7-.7.1-2.8 2.7-.3 1-.9.6-.7-.1-.1 1.7-1.2 0-.3-1.5-1 1.5-.2-.5-1 1.3-.3-1-1 1-.7 0-.5.9-.5-.8-.8 1.1-.5-.3-1 1.1-.5-.4-.7.8-.5-.5-1 1.3-.5-.3-1 .9-.5-.6-1 1.1-.8-.1-.5.9-.5-.9-1.5 2.3-1-.4-.2 1.6-2.5-.5-.5.4-2 .1-.3.6z"/>
<path fill-rule="evenodd" fill="#ffff00" d="M110.9 468.6l-1-.5-.8.5-1.5-.6-.5.6-1.7-.9-.5.7-1.3 0-.5-.6-1 .2-.1-.6-.9.1-.5-.7-1 .5-.1-.7-.9.1-1.7-1.3-.8-1.5-6.2-1.3-89.8-8.3 0-124.2 259.8 0 0 88.9-47 8.5-41.5 8.4-3.5.2-.5.6-.6-.1-.1 1.3-.8.4-.5-1.3-2.3 1.1-.1 2-.6.5-4 .5-.3 2.5-3.5 0-.3 2.5-.6 0-.6-1.2-1.2 1.7-4.3 2.7-.4.1-.3-.9-.5.1-2.3 2.6-3.1 1.2-.1.8-.8.1-.1.8-3.4 2.8-.2 1-.8.6-1.7 0-2 1.7-.5-.9-2.3 2.1-.2-.8-1 1-.5-.4-2 1.7-.5-.8-1 1.3-.5-.3-1 1-.5-.8-.8 1.2-.7-.1-1 1.1-.3-.8-1.5.8-.9.9-.1 1.1-1.5-.3-.7.6-3.5.8z"/>
<path fill-rule="evenodd" fill="#ffff00" d="M110.1 467.5l-1.7-.9-.5.7-1.8-.9-.5.7-1.2-.7-1.3.5-.2-.6-1 .1-.3-.7-1 .5-.2-.9-.8.3-.5-.7-1 0-2-2.1-6-.1-9.2-1.2-80.8-7.3 0-124.1 259.8 0-.3 85.5-91.2 18.2-1.5 2-.8-.2-2.2 1.8-3.3 1 0 2-4 .5-.2 2.5-2.8 0-2 2.5-.2-1.4-1 .1-2.8 2.2-2.5 2.6-.5-1.1-2.5 1.3-.3 2-1.2.1-1 .7-2.4 3.2-1.8 1.3-.3 1.1-1.5.2-.5-.7-1 1.2-.2-.6-.8.8-.5-.5-1 1.2-.2-.3-1 .9-.5-.6-.8 1-.7 0-.8.8-.2-.8-1 1.1-.5-.3-1 1.4-.5-.8-.8.9-.7-.2-1 1.3-.5-.8-.8 1.1-.5-.5-.6.6-.4 1-1.4 0 .2 1.3-1.3-.5-4 .5-.5.8z"/>
<path fill-rule="evenodd" fill="#ffff00" d="M110.9 465.9l-1.5-.7-.8.7-1.5-.9-.5.8-1.7-1-2 .4-.5-.6-1 .3-.1-.5-.9.1-.3-.6-1 .2-.7-.4-2-2.7-3.3-.7-93-11.7 0-118.5 259.8 0 0 85-47.8 8.5-44 9-.7.5 0 .6-.7.2-.3 1.2-3 2-1.8.8-2.7.2-.3 2.3-3.5.2 0 2.3-2.2.5-.5-.9-5.5 4.5-.6.1-.2-1-2.1 2-3.2 1.5-.2 1.3-.5-.1-1.2 1.1-3.5 3.9-1.4-.4-1.4 1.6-.2-.3-1 .6-.5-.3-.8.9-.7.1-.5.8-.5-.9-1 1.2-.3-.5-1 1.4-.5-.7-.7.9-.5-.4-1 1.3-.5-.7-1 1.2-.3-.6-1.2 1.3-.5-.5-.8 1-.5-.7-1 1.2-1.1.3 0 1.3-1.1-.3-1.5.6-2.8.1-.2.6z"/>
<path fill-rule="evenodd" fill="#ffff00" d="M111.1 464.4l-1-.6-.7.6-1.5-.8-.5.8-1.8-.9-.2.6-1.5.1-.5-.9-1 .6-.3-.8-1 .1-.2-.6-1 .5-.3-.7-.7.1-2.5-2.8-8-.1-88.3-11.2 0-118.3 259.8 0 0 84.9-47.8 8.5-45 8.9-1.7.6-1.8 1.5-2.6.9 0 2-3.9.5-.1 2.2-3.4.1-2.7 3.4-2.5 1.3-.8-1.1-3.2 3.3-.3-1.2-1.4.5-.4.5.1 1.3-.3.2-.5-.9-1.3 1.1-.2 1.1-2.2 1.7-.3.8-1 .4-.1.8-1.1.8-.3.9-2.5 0-.7 1-.5-.8-2.3 1.9-.2-.4-1 .8-.5-.4-.8 1-.5-.7-.7 1.1-.5-.6-1 1.5-.5-.4-.8.9-.7-.6-1 1.1-.3-.4-1 1.3-.5-1.1-1 1.4-.7-.1-.8 1.2-1-.4-1 1.1-3.5.9z"/>
<path fill-rule="evenodd" fill="#ffff00" d="M110.4 463.1l-1.5-.8-.8.7-1.5-.8-.5.6-1.7-.7-1 .6-.3-.9-1 .4-.2-.6-1 .2-.3-.6-1 .1-.2-.7-.8.2-1.8-2.7-3.2-1.1-93.5-18.5 0-108.4 259.8 0 0 84.8-49.3 9-44 7.4-.2.9-2.8 1.9-2 .8-2.3.2-.2 2.3-3.6.2-.1 2.3-2 0-1 1.2-.5-1.3-4.3 3.3-1.5 1.7-.5.1-.2-1.3-.7.5-1.3 1.5-3.8 2.2-.1.8-4.1 4.4-1-.4-.2 2-.7 0-.4-1.2-1 1.3-.5-.5-2 1.4-.5-.5-.7.9-.5-.4-.8 1-.5-.2-.7.6-.5-.6-2.3 1.9-.7-.6-.6.9-.7 0-1 1.2-.5-.9-1 1-.5-.3-1 1.2-.5-.7-.5 1.9-5.2.4-.5.7z"/>
<path fill-rule="evenodd" fill="#fff600" d="M111.1 461.6l-1.5-.6-.5.6-1.7-.8-.5.8-1.5-.9-1 .8-.5-.6-1 0-.3-.7-1 .6-.2-.7-.8.2-.3-.7-.9.3-.1-.5-1.1-.5-1.1-2-1.2-.6-18-4.5-77.8-17.2 0-104.5 259.8 0 0 76.5-91 22.8-2 0-.3.8-1-.3-2.2 1.7-2 .8-.3 2.2-3.6.3-.2 2.2-3.1 0-.1 2.3-1.2 0-.3-1.2-1.2 1.7-3.3 2.5-.8.2-.4-1-2.8 2.5-1-.5-3.4 2.8-1.2 2-3.6 3.6-1.8.2-.5.7-.5-.5-.7.9-.5-.3-.8.9-.5-.2-.7 1-.5-1-2.3 2.3-.5-.9-.7.9-.8 0-.7 1.1-.3-.9-1 1.1-.7-.3-.8 1.2-.5-.5-1 1-.5-.6-1 1.2-.5-.6-.7 1.1-3.5 1.2-1.5-.1-.3.7z"/>
<path fill-rule="evenodd" fill="#ffed00" d="M109.9 460.2l-1.5-.8-.5.7-1.8-.8-.5.7-1.7-.1-.3-.7-1 .3-.5-.7-.7.2-.3-.7-.7.4-1-.4-2.3-2.6-3-.9-22.2-4.3-71.8-16 0-104.4 259.8 0-.3 71.8-81.2 23.3-11.3 2.8-.8.4-.2 1-2.7 1.8-3.8.9-.2 2.3-3.5.2 0 2.1-2.8.1-1.5 1.9-.4-1.1-.6.1-5.5 4.8-.2-1.3-.5.1-1.3 1.5-3 1.6-4.2 5.2-1.3.7 0 1.1-1.2.4-.8-.6-.7.8-.5-.7-2.3 1.8-.2-.8-1 1.1-.5-.2-.8 1-.5-.6-.7.7-.5-.2-1 1.3-.3-.7-1 .9-.5-.5-1 1.3-.5-.3-1 .9-.5-.6-.7 1.1-.8-.1-.7.8-.5-.6-.3 1.6-1-.4-3.7 1.2-1-.5-.5.7z"/>
<path fill-rule="evenodd" fill="#ffe400" d="M110.4 458.7l-1.3-.6-.7.6-1.3-.7-.7.6-1.8-.9-1.2.8-.3-.7-1 .1-.2-.7-.8.2-2.2-.9-1.3-1.9-3.2-1-69.8-13.8-24.5-5.4 0-104.3 259.8 0 0 70.7-53 14.3-28 7.9-11.5 3.9-2 .2-3.8 2.3.2 1.7-.4.5-3.5.3-.2 2.2-3.1 0-.2 2.3-2 .4-.5-1.1-.8 1.2-4.5 3.5-.5-1.4-2 1.8-1.2.8-.8-.2-2.2 1.5-5 6.3-1.8-.1-1 1.7-.5-.7-.7.7-.9.1-.4.9-.5-.8-.5.8-.7-.3-.8 1-.5-.3-.7 1-.5-.8-2.3 1.9-.5-.7-1 1.1-.5-.3-1 1.4-.5-1-1 1.2-.5-.3-.7 1.1-.5-1-.8 1.2-1.7.8-2.8.7-.7-.3-.5.5z"/>
<path fill-rule="evenodd" fill="#ffdb00" d="M110.6 457.2l-1-.3-.5.4-1.2-.7-.5.7-1.8-.9-.5.9-1.2-.8-.8.4-.2-.9-1 .4-.2-.5-2.6-.9-1.5-1.7-3-1-94.5-18.7 0-103.5 259.8 0 0 70.7-53 14.2-29 8.4-12 2.9-2.9 2.1-3.1.7-.2 2.3-3.5.2-.3 2.3-2.8-.2-2.2 2.9-1.3.8-.5.2-.5-1.4-3 2.7-1-.1-5 2.6-2.7 4.3-2.3 1.8-.2 1.1-1.8.4-.5-.9-2 1.6-.5-.4-.7 1-.5-.6-1 1.3-.3-.4-1 .8-.5-.5-.7 1-.8 0-.5.9-.5-.9-1 1.3-.7-.1-.8 1-.5-.9-.7 1-.8-.1-1 1.1-.2-.8-2.3 1.7-4.5 1.1z"/>
<path fill-rule="evenodd" fill="#ffd100" d="M110.9 455.6l-2.5-.2-.5.3-1.3-.7-.5.7-1.2-.5-.8.3-.3-.6-.9.3-3.8-1.6-1.2-1.6-3-1-94.8-18.7 0-102.2 259.8 0 0 70.6-93.8 23.6-3.5 1.6-.1 2-.6.5-3.7.5-.3 2.2-3 .1-.3 2.1-1.7 0-1 1-.5-.9-5.3 4.3-.5-1-1 .9-1.7.5-2.8 1.9-.7-.2-2.9 4.8-1.9 1.8-1.2-.3 0 2-.5-1.2-1 .8-.5-.5-2 1.6-.5-.6-2.3 2-.5-.8-2.2 1.6-.3-.7-1 1.3-.7-.3-.8 1.1-.5-.9-.7 1.1-.8-.3-.7.9-2 .3-1.5 1.3-4 .8z"/>
<path fill-rule="evenodd" fill="#ffc800" d="M110.9 454.2l-3.8-.3-.5.3-1.5-.6-2.2 0-5.8-3.4-62-15.4-35-7.7 0-97 259.8 0 0 69.7-94 23.5-2.1 1.6-3.7 1.2-.2 2.2-3.4.3-.1 2-3 .3-.2 2-.8 0-.3-1.3-1.5 2-3 2.3-.8-1.5-1.7 1.6-6 2.5-4.7 7-1.7.4-.6.7-.5-.8-2 1.8-.5-.7-.7.8-.7-.1-.6.9-.5-.9-1 1.2-.2-.5-1 1-.5-.5-.5.8-.8 0-5 2.7-6.7 1.9z"/>
<path fill-rule="evenodd" fill="#ffbf00" d="M105.4 452.9l-6-2.3-.4-.7-1.6-.7-18-4.5-79.3-17.7 0-96.9 259.8 0 0 68.6-94.3 23.5-4.4 2.4-.2.8-2.6.5 0 2-3.3.4-.2 2-2.5-.1-1.3 1.7-.5-1.1-3.7 3.1-8.3 3.4-3.2 5-.3 1-.7.6-.5-.1-.1 1.3-1.3.3-.4-1.2-2 1.6-.5-.7-.7 1-.5-.4-1 1.1-.3-.5-1.2.4-4.5 2.6-8 3-3.8.5-2.7 0-1-.5-.5.6z"/>
<path fill-rule="evenodd" fill="#ffb500" d="M111.1 451.3l-6.5-.1-4.5-1.8-1.2-1.2-25.5-4.8-73.3-16.4 0-96.9 259.8 0-.3 67.6-93 23.2-2 0-3.4 2.2-.3.8-1.4.5-.1.8-2.6.4-.3 2.3-2.6-.2-.3 2.2-1.7.1-.5-.8-4 3.8-.8-.8-8.5 3.7-2.2 4.4-1.8 2.3-1.5.2-.7 1-.8-.3-.7.9-.5-.5-.5.6-.8-.2-.7.8-6.8 2.9-.7-.1-2 1.3-.5-.3-2 1.2-4.8 1.2z"/>
<path fill-rule="evenodd" fill="#ffac00" d="M109.9 449.9l-2.3-.4-2.7.3-5.8-2.5-3.2-.9-66-13-29.8-6.5 0-96.8 259.8 0 0 65.4-95 23.7-2.1 1.7-2.1 1-.1.7-2.7 1.3.1 1-2.9.4.1 2.1-3.1-.1-2.2 3.1-.5.1-.1-1.4-.4 0-3.3 2.5-1 0-5 2.4-2.7.8-1.2 4.1-1.8 2.1-.2 1.1-1.6.5-.5-1.1-.7 1.1-.5-.3-.5.6-.8-.1-1.5 1.1-5.5 2.2-.7-.2-4.8 2.5-6.7 1.5z"/>
<path fill-rule="evenodd" fill="#ffa300" d="M108.6 448.4l-2-.4-1.7.3-5-2.2-.4-.7-1.1-.6-2-.5-22.3-4.3-74-16.5 0-93.4 259.8 0 0 64.3-94 23.5-2 0-1.5 1.7-4.3 2.9-.2.6-1.5.3.1 1.2-2.6.2 0 2.1-1.8-.1-1 .9-.2-.8-4.5 2.9-10.5 3.5 0 2.8-2 3.5-1 0-2.5 1.8-8 2.8-6 2.9-.5-.3-4.5 1.5-2.3-.2-.5.3z"/>
<path fill-rule="evenodd" fill="#ff9900" d="M111.4 446.9l-6.5-.2-3.8-1.3-1.5-1-3 0-22.5-4.5-74-16.5 0-93.3 259.8 0 0 57.7-72.5 21.8-11.3 3-12 3.9-1.5.9-.3.7-2.2 1-.2.8-2 1.2-1.4 1.5-1.4.2 0 1.5-2.5 0 0 2.1-.6 0-.6-1.1-1 1.6-1.3.8-.5-.8-2.7 1.8-.5-.2-3.8 1.5-6.5 1.7.2 3.4-1.9 3.9-11.3 3.8-2 1.3-.7-.2-4.5 2.2-3.5.8z"/>
<path fill-rule="evenodd" fill="#ff8f00" d="M111.6 445.4l-6.7-.2-3.5-1.4-101.3-50.6 0-63.1 259.8 0 0 57.5-67.3 20.3-17.5 5-10 2.5-2 .2-.9.5-.3.8-2.2 1-.2.7-.9.3-3.5 3.2-1.1 0 0 1.8-2.1-.2-1.3 1.7-.5-1-3.2 2.4-6.5 2.1-6 1.3.5 3.9-1.4 3-1.6 1-11.3 3.8-6 2.9-3 .6z"/>
<path fill-rule="evenodd" fill="#ff8400" d="M111.6 443.9l-6.7 0-2.9-1.3-3.4-3-14-10.5-21-15-63.5-44 0-40 259.8 0 0 56.6-88.3 25.4-8.2 2-5.2 3.5-.1.5-3.9 3.3-1.3.1 0 1.8-1.5.2-.5-.8-1.3 1.4-7.5 2.9-8.5 1.6.7 5-.9 2.1-2 1.2-10 3.3-5.8 2.7-4 1z"/>
<path fill-rule="evenodd" fill="#ff7a00" d="M110.4 442.4l-4.5-.3-.8.4-3-1.3-63.5-44.7-38.5-26.5 0-39.9 259.8 0-.3 18.3-96 64-1.7.7-.9 1.3-1.9.7-.1.8-2.1 1.2 0 .5-.8.3-.4.7-.8.3-.1.5-1.7 1.4-1.5 0-1 1.1-3 1.7-.5-.2-2.2 1.2-.5-.2-3 1.2-4.8.5-3.9 1 1.2 5.3-1 2.1-1.5 1-8.3 2.5-9.2 3.9-3.5.5z"/>
<path fill-rule="evenodd" fill="#ff6f00" d="M110.6 440.9l-5.5 0-2-.8-1.5-1.7-64.7-43-36.8-25.5 0-39.8 259.8 0-.3 7.5-16 11.5-72 54-7.2 5.8-12.3 11.2-8.7 3.5-10.3 1.6-3-3.8-1-.4.3 1.4 2.6 4.2 1.2 3 .3 1.5-.6 1.6-3.3 1.9-7.7 2.4-8.3 3.5-3 .4z"/>
<path fill-rule="evenodd" fill="#ff6500" d="M109.4 439.5l-4-.1-1.9-.8-.7-1-11.9-8.8-19.8-14.2-71-49.5 0-35 259.8 0-.3 7.4-25 18.1-61.7 46.5-12.8 8.4-2.9 3.6-2.8 2-.1.5-.7.3-1 1.3-8.5 3.7-10 1.4-1-.2-2.5-3-1.5-.5.2 2.8 3.6 6.9.1.8-.6 1.7-17.5 6.6-5.5 1.1z"/>
<path fill-rule="evenodd" fill="#ff5b00" d="M110.1 437.9l-4.7.1-2.8-1.5-15-10.1-21.7-15.7-65.3-45.2-.5-.5 0-34.9 259.8 0-.3 7.3-95.7 68.8-5 2.9-3 4.5-2.5 1.8-1.8 2.1-2.7.7-2.3 1.3-3.7 1.2-8.5.9-.8-.2-2.7-3.4-2.3-.7.7 5.1 3.1 6 .1 1-.6 1.2-7 2.8-14.8 4.5z"/>
<path fill-rule="evenodd" fill="#ff5000" d="M108.6 436.4l-3 0-.7-.4-65.8-43.9-38.5-26.7-.5-.5 0-34.8 259.8 0 0 .9-.8.7-91.5 68.5-6.7 5.5-3 1.8-1.8 2.9-.5 1.7-4.4 4-7.6 3-8.7.9-1.8-1.3-1.5-2.2-3.2-.8.9 6.7 2.3 4.5.2 2-2.2 1.3-11 3.1-8 2.9-2 .2z"/>
<path fill-rule="evenodd" fill="#ff4600" d="M107.9 434.9l-2.2-.3-4.1-3.7-101.5-67.5 0-33.3 251.4 0-92.3 73.8-3.1 3.2-.9 1.8-.8 2.7-.8.3-.2.7-2.3 2-7.2 2.8-9 .9-1.6-1.4-1.1-2.3-4.1-1.5.9 8.3.5 2 1.9 3.4-.1 1.1-5.7 2.1-17.7 4.9z"/>
<path fill-rule="evenodd" fill="#ff3d00" d="M108.6 433.2l-2.5 0-4-2.1-102-68 0-33 187.3 0-24.8 45.8-7 28.7-1.5 2.8-.9 3.7-2.3 2.1-5.3 2.2-10.2 1.3-1.2-1.1-1.4-2.5-5.4-2.5.7 2.5.9 8.3.4 2 1.4 2.5-.2.7-3.5 1.5-10.5 2.3-8 2.8z"/>
<path fill-rule="evenodd" fill="#ff3400" d="M110.4 430.6l-1.1-.5-2.1-4.2-15.5-23.3-6.1-7.7-65.7-64.8 167.5 0-27.5 51-2.5 6.8-2.5 13.2-1.8 4.6-.4 3.7-.6 1-1.5 1.6-5.7 2-9 1.2-1.3-1.3-1.2-2.6-6.8-2.6 1.5 4.4.8 8.3 1.1 4-19.6 5.2z"/>
<path fill-rule="evenodd" fill="#ff2a00" d="M116.1 427.2l-1.5.1-5.2-5.2-12.9-14-10.8-13.2-65.8-64.8 167.4 0-27.5 51-5.3 14-1.6 7.8-1 1.7-.2 4-.6 1.2-2.5 1.5-3 1-9.2 1.3-1-.9-1.3-2.8-8.2-3 2.1 6.2 1.1 11-13 3.1z"/>
<path fill-rule="evenodd" fill="#ff2100" d="M117.4 425.2l-1-.1-26.3-26.5-7-6.1-63.1-62.4 167.3 0-27.5 51-5.9 16.3-2.9 5.7-.2 5-.7 1-4.7 1.7-8.8 1.2-2-4-12-6 3.2 4.9 1.5 3.5 1.8 11.9-11.7 2.9z"/>
<path fill-rule="evenodd" fill="#ff1700" d="M119.4 422.9l-.8.2-2.4-2.5 3.2 1.4-2-2.4-16.8-12.3-13.5-11-67.1-66.2 167.3 0-27.5 51-5.2 13.7-4.7 7.6 0 5-.8 1-.5-.3-2 .8-9.5 1.3-1.4-3.6-18.3-12.1 9.1 13.9 1.5 4.7.9 6.8-.3.6-2.2 1-7 1.4z"/>
<path fill-rule="evenodd" fill="#ff0e00" d="M121.4 420.9l-.6 0 0-1-.9-.8-24.3-16-8.5-6.9-67.1-66.1 167.3 0-26 48-2.2 4.8-3.3 4.7-3.5 6.5-3.5 7.8-.2 4.8-10.7 1.9-2.3-4-21.7-14.5 11.1 15.5 1.5 2.8 1.2 3.7.9 6.2-1.7 1.3-5.5 1.3z"/>
<path fill-rule="evenodd" fill="#ff0700" d="M122.9 418.9l-.8 0-.2-.9-38.8-25.6-63-62.3 167.1 0-26 48-1.7 4-3.8 5.5-6.1 11.8-2 2.5.2 3.5-9.4 1.4-1.2-2.4-25.3-16.7 10.1 13.4 3.7 5.8 1.2 2.7 1 3.5.2 2.8-2.2 2.2-3 .8z"/>
<path fill-rule="evenodd" fill="#ff0000" d="M123.9 416.9l-1.5 0-2.5-1.5-13.8-10.4-36-25.6-50-49.3 167.1 0-26.5 49-1.3 3-11.1 15.5-1.5 3-.1 3.5-7.8 1.1-1.3-2.6-30.3-20 11.6 14.3 7.5 11.5 1.5 4.7 0 1.6-4 2.2z"/>
</g>
<path d="M85.8 563.2L85.9 551.5 87.2 549 90.3 547.4 93 546.7 96.2 546.3 98.6 547 100.7 548.7 102.5 551.4 103.8 554.4 105.3 558.2 106.8 561.9 108.2 564.8 105 564.6 100 564.3 95 564 90 563.4Z" fill="#0000ff"/>
<line x1="15.2" y1="588" x2="163" y2="610.9" class="s"/>
<line x1="163" y1="610.9" x2="248" y2="560.4" class="s"/>
<line x1="245.3" y1="366.8" x2="248" y2="560.4" class="s"/>
<line x1="245.3" y1="366.8" x2="249.5" y2="367.3" class="s"/>
<line x1="246.7" y1="463.3" x2="250.7" y2="463.6" class="s"/>
<line x1="248" y1="560.4" x2="252.5" y2="561" class="s"/>
<line x1="88.6" y1="599.3" x2="85.3" y2="601.3" class="s"/>
<line x1="163" y1="610.9" x2="159.7" y2="612.9" class="s"/>
<line x1="15.2" y1="588" x2="11.9" y2="590" class="s"/>
<line x1="205.6" y1="586" x2="209.9" y2="586.7" class="s"/>
<line x1="163" y1="610.9" x2="167.3" y2="611.6" class="s"/>
<text x="254.2" y="366.1" font-size="6.4" textLength="26.7" lengthAdjust="spacingAndGlyphs">300000.00</text>
<text x="256.7" y="464.2" font-size="6.4" textLength="26" lengthAdjust="spacingAndGlyphs">150000.00</text>
<text x="257.4" y="566.3" font-size="6.4" textLength="3" lengthAdjust="spacingAndGlyphs">0</text>
<text x="2.5" y="597.4" font-size="6.4" textLength="10.2" lengthAdjust="spacingAndGlyphs">-100</text>
<text x="83.7" y="609.2" font-size="6.4" textLength="3.2" lengthAdjust="spacingAndGlyphs">0</text>
<text x="152.4" y="620.9" font-size="6.4" textLength="8.5" lengthAdjust="spacingAndGlyphs">100</text>
<text x="172.2" y="618.3" font-size="6.4" textLength="6" lengthAdjust="spacingAndGlyphs">12</text>
<text x="214.6" y="593.2" font-size="6.4" textLength="3.5" lengthAdjust="spacingAndGlyphs">6</text>
<text x="76.4" y="620.4" font-size="6.3" textLength="21.4" lengthAdjust="spacingAndGlyphs" class="bt" transform="rotate(9 76.4 620.4)">dy (mm)</text>
<text x="200.8" y="617.2" font-size="6.4" textLength="35.5" lengthAdjust="spacingAndGlyphs" class="bt" transform="rotate(-31.2 200.8 617.2)">Distance (cm)</text>
<text x="139.5" y="652.3" font-size="17" textLength="11.6" lengthAdjust="spacingAndGlyphs">c)</text>
<rect x="301.1" y="383.4" width="38.5" height="201.9" fill="none" stroke="#2a2a2a" stroke-width="1"/>
<line x1="301.1" y1="396.8" x2="339.6" y2="396.8" class="cb"/>
<line x1="301.1" y1="573.6" x2="339.6" y2="573.6" class="cb"/>
<rect x="304.1" y="402.8" width="8.4" height="27.9" fill="#ff0000"/>
<rect x="304.1" y="430.3" width="8.4" height="27.9" fill="#fff000"/>
<rect x="304.1" y="457.7" width="8.4" height="27.9" fill="#7dff00"/>
<rect x="304.1" y="485.2" width="8.4" height="27.9" fill="#00ff78"/>
<rect x="304.1" y="512.7" width="8.4" height="27.9" fill="#00f0ff"/>
<rect x="304.1" y="540.1" width="8.4" height="27.9" fill="#0000ff"/>
<text x="314.3" y="407.1" font-size="5.8" textLength="20.8" lengthAdjust="spacingAndGlyphs">300000.0</text>
<text x="314.3" y="434.6" font-size="5.8" textLength="20.8" lengthAdjust="spacingAndGlyphs">250000.0</text>
<text x="314.3" y="462" font-size="5.8" textLength="20.8" lengthAdjust="spacingAndGlyphs">200000.0</text>
<text x="314.3" y="489.5" font-size="5.8" textLength="20.8" lengthAdjust="spacingAndGlyphs">150000.0</text>
<text x="314.3" y="517" font-size="5.8" textLength="20.8" lengthAdjust="spacingAndGlyphs">100000.0</text>
<text x="314.3" y="544.4" font-size="5.8" textLength="18.1" lengthAdjust="spacingAndGlyphs">50000.0</text>
<text x="321" y="570.9" font-size="5.8" textLength="5.9" lengthAdjust="spacingAndGlyphs">0.0</text>
<text x="303.1" y="394.5" font-size="5.8" textLength="34" lengthAdjust="spacingAndGlyphs">Max: 2.61E+05</text>
<text x="303.3" y="581.9" font-size="5.8" textLength="33.8" lengthAdjust="spacingAndGlyphs">Min: 1.12E+02</text>
<text x="291.5" y="438.6" font-size="5.6" textLength="46.9" lengthAdjust="spacingAndGlyphs" class="bt" transform="rotate(90 291.5 438.6)">Mag._B (uTesla)</text>
<line x1="388" y1="339.4" x2="559.3" y2="339.4" class="d"/>
<line x1="388" y1="339.4" x2="388" y2="606" class="d"/>
<line x1="474.4" y1="339.4" x2="474.4" y2="522.3" class="d"/>
<line x1="388" y1="430.7" x2="559.3" y2="430.7" class="d"/>
<line x1="388" y1="522.3" x2="559.3" y2="522.3" class="d"/>
<line x1="388" y1="563.5" x2="559.3" y2="563.5" class="d"/>
<defs><linearGradient id="gd" x1="0" y1="0" x2="0" y2="1"><stop offset="0" stop-color="#3030ff" stop-opacity="0.6"/><stop offset="1" stop-color="#3030ff" stop-opacity="0"/></linearGradient></defs>
<mask id="cv3" maskUnits="userSpaceOnUse" x="0" y="0" width="669" height="657"><path fill="#fff" d="M556.9 603.1l-19.3-.3-74.5-.1-2.7-.2-46 .3-12.5.6-.5-.3-.1-73.2 1.1-.9.3-.9 1.8-12.5 9.3-50.2 4.1-12.3 5.2-19.7 5.1-13.3.9-1.7 1-1.1 1-.3 9.5-.5 2-.5 7.5-2.3 7.5-3.4 3.8 3 10.4 11.1 3.8 2.1.8.1 5.6-3.2 7.5-9.5 9.5-9.3 1.6-.8 8 5.6 9.5 5.4 9 3.3 1.1.8 3 6.2 2.7 8.5 4.4 17.8 13.9 42.7 4.5 17.5.5 6.8 0 83.7-.3 1z"/></mask>
<g mask="url(#cv3)"><rect x="380" y="330" width="190.0" height="285.0" fill="#0000ff"/><path d="M400 536H560V567H400Z" fill="url(#gd)"/><path d="M401.8 576C410 574.5 420 574.5 430 575.5S450 577 460 576S478 573.5 490 573.5S510 574.5 520 574.5S545 573 557.3 574V586C545 586.5 530 586 515 585.5S495 586.5 485 587S460 586.5 450 587.5S425 586.5 415 586S405 587 401.8 587.5Z" fill="#4040ff" opacity="0.5"/>
<path fill-rule="evenodd" fill="#00ffff" d="M413.4 547.1l-6-.2-3.8-1.2-.7-.9-.9-1.9-.6-4 .3-6.8 1-2.5-.2-.7-1.9-1.7-4.2-2.2-7-2.8-9.3-2.7 0-189.4 189.8 0 0 211.6-13.3-.3-1.2 1.1-4.8 1.5-9.2 1.1-3.3-.4-1 .6-5-.5-1.2.8-1-.7-4.8.7-3.2-.6-25.3.1-9 .2-3 .6-5.5-1-1 1-3.7-.8-.8 1-2.7-.7-.8.9-2-.5-1 .7-12.5.3-24.2-1.6-2-.6-4.8.5-2.7.9-7.5 1.1z"/>
<path fill-rule="evenodd" fill="#00ffff" d="M453.6 545.6l-3 0-1-.5-1.2.4-.8-.6-1.5.4-.7-.7-1.8.4-.7-.6-1.5.5-.8-.8-1.7.5-.5-.7-2 .5-.5-.6-1.8.4-.7-.6-1.8.6-.7-.9-1.3.4-1-.7-3.5.9-1-.3-4 1.3-2.5-.1-3.5.8-6 0-2.2-.6-2.5-1.1-1.3-2.8-.4-6.5.4-3.2.7-1.5-.3-1-1.9-1.7-4.2-2.3-7-2.7-9.3-2.7 0-189.4 189.8 0 0 210-12.8 0-.5-.3-1 1.1-4.7 1.5-8.8 1.3-2.7-.3-1 .5-2.5-.5-1.3.8-4.2-.2-3.5.5-.8-1.1-3 .8-3.2.2-28.8-.7-2 .9-6.7-1.2-1.3 1.1-4.7-.8-1 .9-2.8-.7-.7 1-2.8-.8-.5.9-2.5-.7-.5 1.1-2.5-.7-1 .8-2-.4-1.2.5-5.3 0z"/>
<path fill-rule="evenodd" fill="#00ffff" d="M457.1 544.7l-3-.1-.7-.7-1.8.6-.7-.9-1.5.6-.5-.8-1.8.5-.5-.7-2 .6-.5-.8-1.7.6-.5-.9-1.8.7-.5-.9-2 .7-.7-.9-1.5.7-.8-.8-1.7.7-.5-.9-2 .5-1.3-.9-8 1.4-.5.5-4 .1-2 .6-5 .2-2.7-.5-3.3-1.3-1.1-2-.5-5.7.2-3.5.6-1.5-.2-1-2-1.7-4.2-2.3-7-2.7-9.3-2.8 0-189.3 189.8 0 0 208.6-13.3-.4-1.5 1.4-4.2 1.3-8 1.2-2-.2-1 .5-2.5-.4-1.3.6-7-.6-4.7 1-1-1.1-25.8.6-3.5-.6-.4.9-.8.2-5.8-1.1-.9.1-.8 1.1-6-.9-.6.1-.7.9-3.7-.8-.8.9-2.7-.7-.8.9-2.4-.7-.6.9-2.7-.7-.5.9-2.5-.8-.8 1.1-2.7-.7-.8 1.1z"/>
<path fill-rule="evenodd" fill="#00ffff" d="M459.1 543.2l-3.5-1.1-2.7 1-.8-.9-1.5.7-.7-.8-1.8.6-.7-.8-1.5.6-.5-.9-1.8.7-.7-.7-1.8.4-.5-.6-1.7.5-.8-.7-1.7.5-.8-.7-1.7.5-.5-.7-2 .6-.5-.8-1.3.3-1-.6-8.7 1.9-6 .5-1 .5-6-.7-3.3-1.4-.7-1.1-.7-5.4.6-5.2-2.2-2.2-4.2-2.3-7-2.7-9.3-2.8 0-189.3 189.8 0 0 207.1-12.8 0-.5-.3-2 1.6-7.5 1.9-5.2.2-1 .4-2.5-.3-1 .5-2.3-.4-1 .8-3.2-.3-4.3.5-1-1-2.7.7-4.8.2-19.5.1-7.7-1.2-1.3 1.2-7.2-1-1.3 1.1-4.7-.8-1 .9-2.8-.7-.7.9-2.5-.8-.8.9-2.2-.6-.8 1-2.5-.9-.7 1-2.5-.9-.8 1.3z"/>
<path fill-rule="evenodd" fill="#00ffff" d="M457.6 541.7l-2.5-.2-1.2.3-.8-.7-1.7.5-.5-.6-1.8.4-.5-.7-1.5.6-.7-.8-2 .5-.5-.7-1.5.6-.8-.8-1.5.6-.7-.8-2 .7-.5-.9-1.8.6-.5-.7-2 .5-.5-.7-2 .5-1-1.1-3.7 1.1-4.5.5-.5.4-5.8.4-1 .5-5.5-.4-4.5-1.6-.5-.7-.7-4.6.5-5-2.3-2.2-4.2-2.3-7-2.7-9.3-2.8 0-189.3 189.8 0 0 205.6-12.8 0-.5-.3-2 1.6-4.7 1.4-8.3 1.2-5-.1-1 .5-7.5-.5-4 .9-.7-1.1-17.8-.2-7.7.5-3-.5-1.1 1.3-6.4-1-.8.2-.2.8-.5.2-6.5-1-1.3 1.1-3.7-.8-.8.9-2.5-.7-1 .8-2.2-.7-.5.9-2.8-.6-.7.8-2.3-.7-.7.9-2.8-.8-.5 1z"/>
<path fill-rule="evenodd" fill="#00ffff" d="M455.1 540.7l-.7-.9-1.8.6-.5-.8-1.7.7-.8-.9-1.5.6-.7-.7-1.8.5-.5-.7-1.7.6-.8-.8-1.5.5-.7-.6-1.8.5-.7-.7-1.8.5-.5-.8-1.7.6-.8-.8-1.7.7-.8-.8-1 .2-1-.5-10.7 2.2-1.3-.2-5.5.7-3.2-.5-4.5-2.1-.8-3.7.3-4.7-2.3-2.2-4.2-2.3-7-2.7-9.3-2.8 0-189.3 189.8 0 0 204.1-12.8 0-.5-.4-2.2 1.9-5.5 1.4-6.5 1-1.8-.2-1 .6-2-.5-.7.6-2.3-.4-1 .8-3.7-.3-3.5.5-.8-1-3.2.6-22-.1-2.5.4-6.3-1.1-.6.1-.6 1.1-7.5-1-.9.2-.6.9-5-.8-1 .8-2.8-.7-.7.9-2.3-.7-.7.9-2.5-.6-.8.9-2.2-.9-.8 1-2.5-.7-.7 1-3.5-.9-.8 1.2z"/>
<path fill-rule="evenodd" fill="#00ffff" d="M457.9 539.2l-2.8-.5-1.5.5-.7-.8-1.8.6-.5-.7-1.5.4-.7-.6-1.5.6-.8-.9-1.7.8-.5-.8-1.8.4-.7-.7-1.5.7-.8-.9-1.7.7-.8-.9-1.7.5-.5-.6-1.8.4-.7-.7-1.8.5-.7-.9-4 1-1.8-.2-2 .8-2.5.1-.7.5-1.3-.3-6.5.7-2.5-.3-4.5-2.1-.8-2.9.2-4.2-2.4-2.3-4.2-2.2-7-2.7-9.3-2.8 0-189.3 189.8 0 0 202.6-12.8 0-.5-.3-2 1.8-4.5 1.3-9.5 1.4-4.7-.1-.8.6-6.7-.6-4.5 1-1-1.1-18-.3-2.4.2-1.6 1.1-.7-1.1-4.6-.1-1.2 1.2-6.5-.9-1.8 1.1-6.5-.9-1.5 1-3.7-.7-.8.8-2.5-.7-1 .8-2.1-.6-.6.9-2.5-.8-.8 1-2.2-.8-.8 1-2.7-.8-.5 1.1z"/>
<path fill-rule="evenodd" fill="#00ffff" d="M455.1 538.1l-.5 0-.5-.9-1.7.5-.5-.6-1.8.4-.7-.7-1.5.6-.8-.7-1.7.4-.5-.6-1.8.6-.7-.9-1.3.6-.7-.6-2 .5-.5-.7-2 .4-.5-.7-1.8.6-.5-.8-2 .7-.5-.8-2-.4-2.7.9-1.8-.2-2 .8-7.7.7-1.3.5-5-.6-4.5-2.1-1-6.7-8.7-4.4-13.8-4.5 0-189.3 189.8 0 0 201.1-12.8 0-.5-.5-.7 1.2-1.5 1-6.3 1.6-6.7 1-2-.2-.8.4-1.7-.3-.8.5-2-.4-1 .9-4.5-.2-2.5.3-1-1-2.7.6-17.5-.3-7.3.4-5.7-.9-.5 1.1-.5.1-8-.9-.8.2-.5.8-5.5-.8-.7.9-2.5-.7-1 .9-2.3-.7-.7.9-2.3-.6-.7.8-2.3-.7-.7.9-2.5-.7-.8.9-3-.9-.6 1.1-.9.2z"/>
<path fill-rule="evenodd" fill="#00ffff" d="M458.4 536.5l-3.3-.6-1.7.6-.5-.8-1.8.7-.6-.8-1.6.6-.8-.7-1.5.5-.7-.8-1.8.7-.5-.7-1.5.3-.7-.6-1.8.6-.5-.8-2 .7-.7-.9-1.5.5-.8-.7-1.7.5-.8-.7-1.7.5-.5-.8-9 1.3-.5.5-1.3-.1-.7.4-1.3-.4-3.2.9-3.8-.3-5.7-2.4-.6-1.6-.1-2.7-.6-1.2-8.7-4.3-13.8-4.5 0-189.3 189.8 0 0 199.5-12.8 0-.5-.3-2.2 2.1-6 1.7-8 .8-.8.5-1.7-.4-.8.4-1.7-.1-.5.5-6.3-.7-5 1.1-1.1-1.3-6.9-.1-6.3.3-.5.8-1.9.3-6 .1-1.8-.2-.5-1.1-2.2-.1-1 1.3-6.5-1.1-1 .1-.3.9-.7.2-7.5-.9-1.3 1-3.5-.8-1 .9-2.7-.7-.5.8-2.3-.6-.7.9-2.3-.7-.7.9-2.3-.8-.7 1-2.3-.8-.7 1z"/>
<path fill-rule="evenodd" fill="#00fff8" d="M456.4 535.4l-2 0-.5-.8-1.8.5-.7-.7-1.5.5-.8-.7-1.5.5-.5-.7-1.7.6-.8-.7-1.7.5-.5-.8-1.5.6-.8-.7-2 .6-.5-.9-1.7.7-.8-.9-1.5.7-.7-.9-1.8.8-.6-.7-1.9-.5-8 1.7-1.2-.1-.8.5-1.5-.3-5.5.7-2.7-.4-2-.6-3-2-1-5.3-3-1-2.8-.2-7.7-3.3-9.3-2.7 0-189.3 189.8 0 0 197.9-12.8 0-.2-.3-2.8 2.4-6.7 1.9-7 .9-3.8-.1-.7.5-2-.4-1 .9-4-.3-3 .4-.8-1-4.5.5-16.5-.5-6.7.5-4.3-.7-1.5 1.2-8.7-1-1.3 1.1-5.5-.8-.7.9-2.8-.6-.5.8-2.5-.7-.7.8-2-.7-.8 1-2.2-.8-1 .9-2.3-.7-.5.9-3-.8-.7 1.2z"/>
<path fill-rule="evenodd" fill="#00ffef" d="M458.9 533.9l-3.5-.8-2 .7-.8-.7-1.7.7-.8-.8-1.5.5-.5-.7-1.7.5-.5-.7-1.8.6-.7-.8-1.5.5-.8-.6-1.5.5-.7-.7-1.8.4-.7-.6-1.8.4-.7-.6-1.5.5-.8-.7-1.7.6-1.5-.9-5 .7-2 .7-1.3-.1-.7.5-3.3-.1-1 .5-5.7-.1-3-1.2-2.3-1.7-1-4-3.2-1-4-.5-6.5-2.8-9.3-2.7 0-189.3 189.8 0 0 196.2-13-.3-2 2.2-6.3 2.1-5.5 1-1.2-.3-.8.5-3.7-.1-.8.5-1.5-.3-.7.6-3.3-.6-3.3 0-4.4 1-1.5-1.2-4-.1-1.6.3-.9.8-2.5.2-14.3.1-.5-.1-.7-1.3-.6.1-.2 1-.7.1-6.8-1-.6.1-.4 1-.7.1-7.8-.9-1.5 1-3.7-.8-.8.8-2.5-.7-.7.9-2-.6-.8.7-2.2-.5-1 .8-2-.7-.8.9-2.2-.7-.5 1z"/>
<path fill-rule="evenodd" fill="#00ffe6" d="M457.1 532.7l-3-.1-.7-.7-1.5.7-.8-.6-1.5.4-.5-.9-1.7.5-.5-.6-1.8.6-.5-.6-1.7.3-.8-.7-1.5.6-.7-.8-1.8.7-.7-.9-1.5.6-.8-.8-1.7.7-.5-.9-2 .7-.5-.7-1.5-.4-6.3 1-.7.4-1-.2-.8.6-1.2-.3-.8.6-3.2-.2-2.3.7-1.2-.5-1.8.1-2.5-.9-2-1.5-1.2-1.5-.6-3.2-1.2-.6-11.7-1.8-10.3-3.1 0-189.3 189.8 0 0 194.5-13-.2-2 2.3-5.8 2.1-5.5 1-3.2 0-.8.6-1.7-.3-2.5.6-2-.5-.8.9-7 .2-1-1.1-5.7.4-18.3-.5-3.2.5-3.5-.6-1.3 1.4-8.7-1.1-1.3.2-.7.9-5.8-.8-.7.9-2.5-.7-.8.9-2.2-.7-1 .8-2-.7-.5 1-2.3-.8-.7.9-2.3-.7-.7.9-2.8-.8-.5 1.1z"/>
<path fill-rule="evenodd" fill="#00ffde" d="M459.1 531.3l-3.7-.9-2.3.9-1-.8-1.5.8-.5-.8-1.7.3-.5-.7-1.5.6-.8-.8-1.7.8-.8-.9-1.5.5-.5-.6-1.7.4-.8-.6-1.7.4-.8-.6-1.7.4-.5-.6-1.8.5-.7-.7-1.5.5-1.5-.8-3 .8-3.8.2-.7.5-1.3-.2-.7.5-8.5.3-2.5-.6-2.5-1.6-1.3-1.9-.7-3.5-1-.5-22.3-3.2 0-189.3 189.8 0 0 192.7-12.8 0-1.2 1.7-1.8 1.2-5.2 1.7-6.5 1.2-1.3-.2-.6.5-1.9-.3-1.7.1-.8.6-1.2-.3-.8.5-4-.6-3.7.2-3.3.8-22.5-.4-3 .5-7.5-1.2-.7.2-.8 1-9-.9-1 1-.7.1-3.5-.8-.5.8-2.8-.6-.7.8-2-.7-.5.8-2.3-.5-.7.8-2.3-.7-.7.9-2.3-.8-.5 1.1z"/>
<path fill-rule="evenodd" fill="#00ffd5" d="M457.4 530.2l-2-.4-1.5.2-.5-.7-1.8.6-.7-.6-1.5.5-.5-.8-1.5.5-.8-.7-1.7.6-.5-.6-1.8.3-.5-.7-1.7.6-.5-.8-2 .7-.5-.9-1.8.6-.7-.8-1.5.6-.8-.8-1.7.7-2-1.2-3 .9-2-.1-2 .7-1.3-.1-3 .7-1.2-.3-1 .5-5.8-.2-2.5-.9-1.8-1.4-1.2-2.5-.5-2.7-6-.1-17.5-2.5 0-189 189.8 0 0 190.6-12.8 0-2 2.9-6.2 2.5-10 1.6-3.3-.2-.5.6-2-.5-1 .9-4-.3-2.7.5-1-1.1-8 .3-13-.6-5.8.5-3-.4-1 1.2-10-.9-1.7 1.1-5.8-.9-.7.9-2.5-.6-.8.8-2.2-.7-.8.8-2-.7-.7 1.1-2-.8-1 .8-2.3-.6-.5.9-2.5-.9-.7 1.3z"/>
<path fill-rule="evenodd" fill="#00ffcc" d="M452.9 528.7l-.8-.9-1.7.7-.5-.6-1.5.4-.8-.7-1.5.4-.5-.7-2 .7-.5-.8-1.5.5-.7-.7-1.8.5-.5-.7-2 .5-.7-.6-1.5.4-.5-.7-2 .5-.8-.6-1.2.5-1.5-.8-3 .8-4 .3-.8.4-1.5-.3-.7.7-1.5-.5-3.5.9-3.3-.3-2.5-.9-1.8-1.2-1.8-4.5-1.4-.7-22.5-3.8 0-186.8 189.8 0 0 184.7-8.3 1-4 1-.6.6-.9 3.7-2 1.6-5.7 2.1-6.5 1.2-1.3-.2-.7.6-1.5-.5-2.5.5-1.3-.2-1 .8-3-.7-1.6.1-.6.5-1.5-.5-4 .9-6.5 0-15.5-.7-3.3.7-7-1.1-1.2 1.2-9.8-.9-1.2 1-4-.7-.8.8-2.5-.6-.7.7-1.8-.6-.7.8-2.2-.5-.6.8-2.2-.8-.7 1-2.3-.8-.5 1-3.3-.9-3.2 1z"/>
<path fill-rule="evenodd" fill="#00ffc4" d="M457.9 527.4l-2.8-.4-1.5.4-.5-.7-1.5.6-1-.6-1.2.5-.6-.8-1.7.5-.7-.7-1.8.6-.5-.9-1.5.6-.7-.7-1.5.5-.8-.7-1.7.7-.8-.9-1.7.6-.5-.8-1.8.5-.7-.7-1.8.6-.5-.7-1.2-.4-3 .9-3.6.2-.7.5-1.5-.2-.7.5-8.8.2-2.5-.6-2.5-1.9-.7-1.7-.8-4-6 0-18-2.8 0-185.5 189.8 0 0 184.6-13 1.7-1 3.2-1.8 1.7-5.7 2.1-7.8 1.4-3.2-.2-.8.6-4-.2-.7.8-3.8-.3-2.7.5-.6-.1-.4-.9-15.8-.3-3.6.2-.6 1-2.5.3-2.3-.1-.3-1-.7-.3-3.5.1-.2 1-.5.1-9.5-1-1.4.1-.6 1-1 .1-5.8-.9-.7.9-2.5-.7-.8 1-2.2-.8-.8.8-2-.6-.7.8-2-.5-.8.7-2-.7-.7.9-2.5-.6-.5.9z"/>
<path fill-rule="evenodd" fill="#00ffbc" d="M455.9 526.1l-1 .2-.8-.8-1.5.5-.7-.8-1.5.8-.8-.9-1.5.6-.7-.7-1.5.5-.5-.7-1.8.4-.7-.6-1.5.4-.5-.7-1.8.6-.7-.7-1.8.5-.7-.8-1.5.6-.8-.7-1.8.6-.7-.7-1.5.4-1.2-.8-3 .9-2.5-.1-.5.6-1.3-.4-.7.7-1.5-.4-.8.8-1.5-.4-4.5.5-2.2-.3-2.8-1.1-1.2-1.1-1.5-5.4-24.3-4.2 0-183.3 189.8 0 0 181.2-8.5 1-4 1-.7.8-.8 3.9-1 1.2-5.5 2.6-6.5 1.3-2.8 0-.7.5-3.3-.2-.5.5-1.5-.1-.7.6-3-.7-2.3 1-1.2-1-4.3.9-21.7-.8-3.5.7-6-.9-1.3 1.2-10.2-.9-1.4 1-3.9-.8-.7.8-2.8-.6-.5.7-2-.6-.7.8-1.8-.6-.7 1.1-2.3-.8-.7.8-2.3-.6-.7.9-3-.9-.5 1z"/>
<path fill-rule="evenodd" fill="#00ffb4" d="M458.4 524.7l-3.3-.6-1.5.7-.7-.7-1.8.6-.5-.6-1.5.3-.7-.7-1.5.6-.5-.8-1.8.7-.7-.8-1.5.5-.5-.7-1.8.4-.7-.6-1.8.6-.7-.8-1.5.4-.8-.6-1.7.5-.5-.7-1.8.6-1.7-.9-6.8.9-.7.5-1.5-.4-.5.6-2-.1-.8.4-1.5-.4-1.7.6-3.5-.4-3.4-1.7-1.1-2-.8-3.5-1.2-.6-23.3-4 0-181.9 189.8 0 0 181.1-8.5 1-4.8 1.2-.7 2.8-2 2.3-6.3 2.4-6.7.8-.8.5-3-.2-.7.5-1.3-.2-.5.5-2.2-.4-.6.7-3.7-.3-3.2.6-.8-1-13.5-.3-2.3.3-.7 1-.7.1-8 .1-.5-.2-.2-1-1.4-.3-.7.1-.2 1-.5.2-10.3-1-2.2 1.1-6.8-.8-.7.8-2.5-.6-.5 1-2.3-.9-.7.8-2-.6-.8.8-2.2-.6-.5 1-2-.8-.8 1-2.2-.8-.5.9z"/>
<path fill-rule="evenodd" fill="#00ffad" d="M456.4 523.6l-1.8 0-.7-.8-1.5.6-.8-.6-1.5.6-.7-.9-1.5.5-.5-.7-1.8.5-.5-.7-1.7.6-.8-.7-1.5.5-.5-.7-1.7.5-.5-.7-2 .5-.8-.7-1.5.5-.7-.8-1.8.7-.5-.7-1.5.4-1.2-.7-3.3.8-.7-.4-2 .9-1.5-.4-.5.6-2-.3-.5.7-1.8-.5-1 .5-5-.3-2.5-.9-1.2-1.1-1.7-5.3-1.1-.5-23.5-4.8 0-179.7 189.8 0 0 176.8-12.8 3.9-.6.6-1 3.7-1.9 2.1-4.5 1.9-8.2 1.6-4.8.2-.7.4-1.3-.3-.7.8-3.8-.7-.5.8-1 .2-1.5-1-4 .8-3.7.1-18-1.1-3.5.7-5.3-.6-.7 1.1-.8.1-10.7-1-.7.2-.6.9-4-.8-1 .8-2.2-.6-.8.6-1.7-.5-.8.8-2-.6-.5.9-2.4-.8-.6 1-2.2-.7-.5.9-2.8-.9-.7 1.2z"/>
<path fill-rule="evenodd" fill="#00ffa5" d="M458.6 522.2l-3.5-.8-1.7.7-.8-.6-1.5.7-.7-.9-1.5.5-.5-.7-1.5.5-.8-.8-1.7.7-.8-.8-1.5.5-.5-.7-1.5.5-.7-.7-2 .7-.5-.9-1.8.6-.5-.7-1.7.4-.8-.7-1.7.7-1.3-1-3.2.7-4 .2-.5.5-1.8-.2-.7.6-2-.3-.8.4-6-.2-3.5-1.9-1.7-5.3-1-.6-23.8-4 0-179.2 189.8 0 0 176.6-13 3.3-.8.6-.6 2.5-1.6 2.5-5.8 2.4-2.2.1-4.5 1.2-1-.2-.5.5-1.5-.4-2.3.6-1-.3-.7.7-2-.5-.8.8-3.5-.3-3.5.6-1-1.1-11.2-.1-1.3 1-2.5.3-7.7-.5-5.3.4-8.2-1.1-2.5.2-.6 1-1.9 0-6.3-.9-.7.9-2.5-.6-.5.9-2.3-.6-.7.5-2-.5-.5.8-2.3-.6-.5.8-2-.6-.7.8-2.3-.7-.5 1.1z"/>
<path fill-rule="evenodd" fill="#00ff9d" d="M457.1 520.9l-2.7.1-.8-.9-1.5.8-.7-.7-1.5.4-.5-.7-1.8.4-.5-.7-1.5.6-.7-.7-1.5.5-.8-.6-1.5.3-.7-.6-1.8.6-.5-.9-1.7.7-.8-.9-1.5.7-.7-.8-2 .7-.5-.8-1.3.5-1.2-.8-2.5.5-.8.5-1-.3-1.2 0-.8.6-1.5-.3-.5.7-2-.5-.7.6-2-.3-1.5.6-3.5-.4-3.5-1.9-.9-1.8-.8-3.7-1.1-.6-24-4.7 0-177 189.8 0 0 174.5-13.5 3.5-.8 1-1.5 4.6-4.2 2.3-9.7 2.1-2.6-.2-2.5.8-1.2-.4-.5.9-3-.7-.9.1-.4.8-1.5.1-1.2-1.1-3.8.9-2.7 0-17-1-5.5.5-3.5-.5-.9.1-.3 1-.8.2-12-1-1.3 1.1-4-.9-.7.8-2.7-.5-.6.8-1.7-.6-.8.6-1.7-.5-.8.9-2-.7-.7.8-2-.6-.8.8-2.5-.8-.5 1.1z"/>
<path fill-rule="evenodd" fill="#00ff95" d="M459.1 519.4l-4-.8-1.7.8-1-.6-1.5.7-.8-.8-1.5.4-.5-.7-1.5.5-.7-.7-1.5.6-.8-.7-1.5.6-.7-.8-1.5.5-.8-.7-1.7.5-.8-.7-1.7.4-.5-.6-1.8.5-.5-.7-1.7.5-1.3-.8-6.2 1-1-.2-.8.6-1.7-.3-.8.6-2.2-.4-.8.6-2.7.1-3.3-.6-2.3-1.3-.9-1.5-1-3.9-3-.1-22.3-4.5 0-176.8 189.8 0 0 173-13.8 3.9-.7.6-.9 3.5-1.1 1.9-4.8 2-7.7 1.6-5.8.3-.7.6-2-.5-.8.9-3.5-.3-3.7.6-.7-1.1-1.6-.2-6.2 0-1.2.2-.6 1-3.5.2-9.7-.7-3.8.6-9.2-1.1-4 1.3-7.5-1.1-.8 1-2.5-.7-.7 1-2.3-.7-.7.7-1.8-.7-.5.8-2.2-.5-.5.8-2.3-.6-.5.9-2.2-.7-.3.8z"/>
<path fill-rule="evenodd" fill="#03ff90" d="M457.4 518.4l-3.3-.1-.7-.8-1.5.7-.8-.6-1.5.4-.5-.8-1.5.5-.7-.7-1.5.6-.8-.6-1.5.5-.7-.8-1.5.5-.5-.7-2 .6-.5-.8-1.5.6-.8-.8-1.7.6-.8-.9-1.7.8-.8-.8-1.2.3-1-.5-3 .6-2.5-.1-.8.7-1.5-.4-.7.8-2.3-.5-1 .6-6.2-.3-3.3-1.8-1.5-4.5-25.5-4.3 0-176.3 189.8 0 0 172.8-14.8 3.5-1.5 4.7-2.7 1.7-11 2.7-1.3-.3-2.7.3-.8.6-1.2-.3-.5.7-3-.8-.6.2-.5 1-1.9.1-1.3-1.2-3 .6-5.7 0-13-.8-1.2.3-.4 1-2.7.1-.4-.1-.3-1.1-4.8-.1-.7.2-.3 1-1 .1-12.5-1.1-1 1.2-4.5-.9-.7 1-2.3-.8-.7.9-1.8-.7-.7.7-2-.5-.5.9-2-.7-1 .8-1.8-.7-.7 1-2.5-.7-.5 1z"/>
<path fill-rule="evenodd" fill="#07ff8b" d="M459.4 516.9l-3.5-.9-2.8.8-1-.6-1.5.7-.5-.8-1.5.4-.7-.7-1.5.5-.8-.6-1.5.6-.7-.8-1.5.4-.5-.7-1.5.6-.8-.7-2 .5-.5-.6-1.7.4-.5-.7-1.8.5-.7-.7-1.8.6-1-1-1.7.5-5.5.5-.8.6-2.2-.4-.8.7-2.5-.4-.7.5-1.5.1-3.5-.7-2.3-1.3-1-1.8-.7-3.2-25.8-5.2 0-173.9 189.8 0 0 170.4-15 4.8-1.8 4.8-4 2-8.5 1.9-5.5.3-.7.5-2-.3-.8.8-3.5-.4-4.2.6-.8-1.1-1-.1-5.1.1-.7 1-1.2.2-14.2-.9-3.5.8-8.5-1-1 .1-1 1.1-3.3.1-7-1.1-1 1.1-2.2-.9-.8 1.1-2.2-.9-.8.9-1.7-.7-.5.8-2.3-.5-.7.8-1.8-.6-1 .7-1.7-.6-.5 1z"/>
<path fill-rule="evenodd" fill="#0aff85" d="M457.9 515.6l-2.8-.2-1.2.3-.8-.7-1.5.7-.7-.7-1.5.3-.5-.7-1.5.5-.5-.7-1.8.7-.7-.8-1.5.6-.5-.8-1.8.4-.5-.7-2 .8-.5-.9-1.7.6-.5-.9-1.8.6-.7-.7-1.8.7-.5-.7-1 .1-1-.6-2 .7-3.7 0-.8.8-1.7-.5-.8.8-2.7-.5-.8.6-3.2 0-3-.5-2-1.2-1-1.6-.8-3.1-1.2-.6-24.8-4.2 0-173.4 189.8 0 0 170.3-13.3 3.5-2 0-1.5 4.5-3.5 2.1-8.5 2.1-5.5.2-.5.7-1.2-.2-.5.7-2.5-1-1 1.3-3 .2-.5-.1-.5-1.2-2.8.5-4.7 0-12-.7-.6.1-.4 1-.5.2-5.8.1-.6-1-.9-.3-2.4 0-.3 1-1.5.2-12.5-1.1-1.3 1.3-4.7-1-.5.9-2.8-.6-.5.8-2-.6-.7.8-1.8-.8-.7 1.2-1.8-.9-.7 1-2-.7-.8.8-2.2-.7-.5.9z"/>
<path fill-rule="evenodd" fill="#0dff80" d="M455.4 514.7l-.7-.1-.3-.8-1.8.5-.5-.8-1.7.8-.5-.9-1.5.6-.8-.8-1.5.5-.5-.8-1.7.8-.8-.9-1.5.6-.5-.9-1.7.6-.5-.7-2 .7-.5-.9-1.8.6-.7-.8-1.5.7-.8-.8-1.7.6-.5-.7-1.3-.2-2 .7-2.5-.2-.5.5-1.2-.2-.8.7-2.5-.4-1.2.6-7-.4-2.5-1.4-1.6-4.6-1.2-.6-25-5 0-171.2 189.8 0 0 168.5-15 3.7-.8.8-1.5 4.4-3.7 1.9-7.3 1.7-6.7.6-.5.5-2-.3-.5.7-4-.6-4.5 1.1-5.3 0-17.2-1.2-3.8.7-6.7-.8-.8 1.2-2 .2-5-.2-5.5-.9-.7 1.1-2.8-.9-1 1.1-2-.9-.7.9-1.8-.8-.5.8-2.2-.5-.5.8-2.2-.6-.6 1-2-.9-.7 1.1-3.3-.9-.7 1.3z"/>
<path fill-rule="evenodd" fill="#10ff7a" d="M453.9 513.1l-1-.7-1.5.6-.8-.7-1.5.4-.5-.7-1.5.6-.5-.8-1.7.7-.8-.8-1.5.5-.7-.7-1.5.4-.5-.7-2 .8-.5-1-1.8.6-.5-.8-1.7.6-.8-.8-1.7.8-.6-.8-1.7-.4-3.2.8-2.5-.1-.8.8-2-.5-1 .8-3-.5-.9.6-1.6 0-5-1.3-1.2-2-.9-3.2-1.1-.6-25.3-4.2 0-170.7 189.8 0 0 167.4-15.3 3.8-.7.6-1.3 3.7-1.7 1.5-1.8.7-7.2 2-8 .7-.5.8-2.3-.8-.7 1.1-4.5.2-1-1.3-6 .4-8.5-.6-2.2.3-.1.8-.7.3-6.5-.3-2.5.4-1.3-1.4-.7.2-.2 1-.8.2-8.3-1-5.5-.2-1.2 1.3-5-1-1 .9-2.3-.7-.7.8-1.8-.6-.7.8-2-.6-.8.9-1.7-.8-.8 1-2-.9-.5 1.1-2.2-.8-.8 1.1-3-.6-1.2.6z"/>
<path fill-rule="evenodd" fill="#13ff75" d="M456.6 512l-2.2 0-.5-.9-1.5.7-.5-.7-1.8.6-.7-1-1.5.6-.5-.9-1.5.8-.8-.9-1.7.7-.5-.8-1.5.7-.8-.9-1.5.6-.7-1-1.8.8-.5-.8-1.7.6-.8-.9-1.7.8-.8-.9-1.5.7-1.5-1-2 .8-2.2-.3-.8.6-1.5-.3-.7.8-3.3-.4-1 .6-3.5 0-4.4-1.3-1.1-1.7-.9-3.6-1.1-.5-25.5-5 0-168.5 189.8 0 0 165.2-15.5 4.9-.8.4-1.2 3.7-1.5 1.4-3.5 1.4-7.5 1.7-1-.3-4.5 1-1.8-.3-.7.7-4.3-.6-5.2 1.1-21-1.3-4.3.7-5-.7-.6.3-.1 1-1.5.2-7.5-.5-4.3-.7-1.2 1.2-3-.9-.8 1-2.2-.8-.8.8-1.7-.7-.5 1-2-.8-.5 1-2.3-.7-.5.9-2.2-.8-.5 1-2.8-.9-.5 1.3z"/>
<path fill-rule="evenodd" fill="#16ff6f" d="M458.9 510.6l-3.5-1.1-2 1-.8-.9-1.7.9-.5-.9-1.5.5-.5-.7-1.8.4-.5-.8-1.7.9-.5-.9-1.5.5-.8-.9-1.5.8-.7-.9-1.8.7-.7-.9-1.8.6-.5-.8-1.7.7-.5-.9-2 .7-.5-.7-1-.4-3.3.9-2.7-.2-.8.8-2.5-.4-.9.8-3.3-.5-5 0-1.8-1.1-1.7-4.9-1-.5-25.8-4.3 0-168 189.8 0 0 165.1-4.5 1.5-12 2.8-1 3-.9 1.1-3.4 1.9-7.7 1.8-2.3-.1-3.2.9-.8-.2-.7.7-2-.7-.8 1.1-2.7-.3-3 .5-.7-1.3-10.1-.3-1.3.3-.5 1-.7.3-10.5-.7-3.7.7-7.8-1.1-5.7-.2-1.6.2-.7 1.1-6-.9-1 .9-2-.8-.7 1-2-.8-.8.9-1.7-.6-.8.8-2-.7-.5 1-2-.9-.7 1-2-.7-.5 1.2z"/>
<path fill-rule="evenodd" fill="#19ff6a" d="M457.4 509.4l-3.3-.2-.7-.8-1.5.8-.5-.7-1.5.5-.8-.8-1.5.6-.5-.9-1.7.6-.5-.7-1.8.5-.5-.7-1.5.4-.7-.7-1.8.7-.5-.8-2 .5-.5-.8-1.7.7-.5-.9-2 .8-.5-.8-1.3.5-1.2-.9-3.5.9-3.3-.1-.7.8-4-.5-1 .7-2.3 0-.7-.4-2.5-.2-1.3-.7-1-1.5-1-3.2-2 0-25-4.2 0-167.8 189.8 0 0 163.5-16.3 4-.7.9-.8 2.6-1 1.2-3.5 2-13.5 2.7-1.5-.4-.5.7-3.5-.7-8.5 1-15.7-1.2-1 .2-.3 1.3-3.2.2-.8-1.5-5-.1-.6 1.4-.6.1-14-1.2-.6.1-.7 1.1-3.5-1-.5.9-2.5-.7-.7.8-1.8-.5-.5.8-1.7-.7-.8 1-2-.9-.7 1-2-.7-.5 1-2.5-.9-.5 1.3z"/>
<path fill-rule="evenodd" fill="#1cff64" d="M459.4 507.8l-3.5-1-3 1-.5-.8-1.8.8-.5-.9-1.7.6-.5-.9-1.5.7-.5-.9-1.8.8-.6-.8-1.6.6-.5-.9-1.8.6-.5-.8-2 .7-.5-.8-1.7.5-.8-.8-1.5.6-.5-.8-2 .8-1-1.2-3.5 1-1-.5-.7.5-1-.3-.8.9-3-.5-1.2.8-4.8-.2-3.7-1-1-1.4-1-3.6-2 0-25.3-5.2 0-165.3 189.8 0 0 162.2-16.5 4.3-.8.6-1.2 3.2-2.8 2.1-7.5 2-3.2 0-3 1-1-.1-.5.5-1.8-.6-.7.9-3-.4-3.8.7-.7-1.2-2-.3-4.3.1-.7 1.3-1 .2-14-1.1-4 .8-9-1-1.2.3-.6 1-1.2.1-3.8-.1-5.7-1-.8.9-2.4-.6-.6.9-2-.7-.7.8-1.8-.7-.5.9-2-.8-.7.9-1.8-.6-.7 1-2-.9-.5 1.1z"/>
<path fill-rule="evenodd" fill="#20ff5f" d="M457.9 506.6l-2.8-.6-1.5.5-.5-.8-1.7.8-.5-.8-1.5.5-.5-.7-1.5.5-.8-.8-1.7.8-.5-.8-1.5.5-.8-.8-1.5.6-.5-.8-2 .8-.5-.8-1.7.5-.5-.9-1.8.6-.5-.8-2 .8-.5-.7-1 .2-1.2-.7-3.3.9-1.2-.3-.8.5-1.7-.3-1 .9-4.3-.6-2 .4-3.7-.5-1.5-1.3-1.3-3.6-27.5-4.8 0-164.9 189.8 0 0 161.2-16.8 4.2-.9.6-1.1 2.9-3.5 2.5-6 1.4-4.2.4-3.3.9-1.2-.2-.8.7-2.7-.7-.5 1.1-.5.1-1.5 0-.8-1.2-3.2.6-13.8-.8-1.7.1-.4 1.2-.8.3-4.8-.3-3 .4-.5-1.4-1.5-.3-1 1.5-15.5-1.1-.7.2-.5 1-4.3-.9-.5.8-2.5-.6-.8.8-1.5-.7-.7.9-1.8-.7-.7.9-1.8-.8-.7 1-1.8-.8-.7.9-2.3-.7-.7 1.1z"/>
<path fill-rule="evenodd" fill="#23ff59" d="M456.1 505.6l-1.7-.2-.5-.9-1.3.6-.7-.6-1.5.6-.8-.8-1.5.5-.7-.8-1.3.6-.7-.8-1.5.8-.8-.8-1.5.5-.5-.9-1.7.7-.8-.9-1.7.9-.5-1-1.8.6-.5-.8-1.7.6-.8-.8-1.7.8-.8-.9-3.2.5-1.3-.3-.5.5-1.2-.2-.5.8-3.5-.6-1.3.2-.7.5-3.3.1-4-1.2-1.7-4.6-27.8-4.8 0-163.4 189.8 0 0 160.1-17.8 4.2-1.2 3.4-3.3 2.3-5.7 1.6-7.8.9-.7.8-1.8-.7-.7.9-3-.6-4.3.9-5.5 0-16.2-1.3-4.5.7-5.8-.7-.8.3-.2 1-.6.2-4.6 0-9-1.1-1 1-2.3-.8-.7 1.2-2-1-.8.8-1.7-.6-.5.8-1.8-.6-.7.8-2-.7-.5.9-2-.7-.8 1.1-2.7-1-.8 1.4z"/>
<path fill-rule="evenodd" fill="#26ff54" d="M458.6 504l-3.5-1-1.7.8-.8-.5-1.5.8-.5-.9-1.5.5-.7-.7-1.5.3-.5-.8-1.8.9-.5-.7-1.5.5-.7-.9-1.5.5-.8-.8-1.7.8-.5-.9-1.8.6-.7-.9-1.5.7-.8-.8-1.7.7-.8-.8-1.5-.3-.5.5-1-.2-2 .7-1.2-.5-.8.6-2-.3-1 .9-7-.5-3.2-.7-.9-1.5-.9-3-1.2-.6-26.8-5.2 0-161.2 189.8 0 0 157-17.5 5.7-.8.7-1.2 3-3 2.3-13.3 2.9-1.2-.3-.8.6-2.2-.6-.8 1.2-3.2.1-.8-1.3-6.2.3-6.8-.5-.8.2-.3 1-.6.3-9.8-.7-3.2.8-8.3-1.1-8.2-.2-.7.1-.6 1.2-5-1-.5.9-2.5-.7-.5.8-1.7-.7-.8.9-1.7-.7-.5 1-1.8-.8-.7.9-2-.7-.5 1-2.3-.8-.5 1.1z"/>
<path fill-rule="evenodd" fill="#2aff4f" d="M457.4 502.9l-3.3-.3-.5-.6-1.5.7-.7-.7-1.5.6-.5-.9-1.5.7-.5-.9-1.8.4-.5-.7-1.7.8-.5-.9-1.5.6-.8-.9-1.5.6-.7-.8-1.8.7-.7-.8-1.8.5-.5-.7-1.7.7-.6-.9-1.7.6-1.5-.8-2.2.7-1-.4-.8.5-1.2-.2-.8.8-5.2-.5-2.3.6-4.5-1.1-1-1.6-.8-2.8-1.2-.6-27-5.2 0-160 189.8 0 0 156.1-18.5 6-1.5 3.2-2.5 1.9-6.8 1.9-2-.1-4.5.9-.7.7-1.5-.7-.8.9-3.2-.8-4.5 1-4.8.1-14-1.3-.9.2-.3 1.3-3.5.2-.6-.2-.4-1.3-5.3-.1-.5 1.4-.5.1-9.7-.2-6.3-1-.7 1.1-2.5-.9-.8 1.1-2-.9-.7.8-1.5-.6-.5.8-2-.4-.5.7-2-.7-.8.9-1.7-.8-.8 1-2.2-.9-.5 1.4z"/>
<path fill-rule="evenodd" fill="#2fff4b" d="M459.4 501.2l-3.8-.9-2.5 1.1-.7-.9-1.5.8-.8-.8-1.5.5-.5-.8-1.5.6-.7-.8-1.8.6-.5-.8-1.5.6-.5-.8-1.5.6-.7-.8-2 .8-.5-.8-1.8.5-.5-1-1.5.8-.7-.9-2 .7-.5-.8-1-.3-.8.5-.7-.2-.5.5-1-.3-.8.6-1-.5-.7.7-2.5-.5-1.3 1-5.9-.3-3.6-1.1-1.6-4.2-1.1-.5-27.3-4.1 0-159.9 189.8 0 0 155.6-18.3 4.9-.8.8-1.1 2.7-2.3 1.7-7.5 2.2-1.8-.2-4 1.1-1.2-.2-.5.6-2-.6-.8 1.2-1.7-.3-2.8.5-1-1.3-7.5-.2-1.5.1-.4 1.2-1.3.3-12.5-1.3-3.5.9-7.3-.9-8.7 0-1 1.3-5.3-1-1 .8-2-.7-.7.9-1.8-.7-.7.8-1.5-.6-.8 1-1.7-.8-.8.9-1.7-.7-.8.8-1.7-.6-.5.9z"/>
<path fill-rule="evenodd" fill="#35ff47" d="M457.9 500.1l-2.8-.4-1.2.5-.8-.9-1.5.8-.7-.8-1.3.6-.5-.9-1.7.5-.5-.8-1.8.8-.5-.7-1.5.4-.7-.7-1.5.5-.5-.8-1.8.7-.7-.8-1.8.7-.5-1.1-1.7.7-.8-.8-1.7.8-.5-.9-1.3.5-1.2-.8-2.3.8-3.2-.2-.5.8-9-.3-3.3-1-1.5-4.1-6-.1-22.5-3.2 0-159.8 189.8 0 0 153.4-19.3 6.2-1.3 2.9-2.2 1.9-5 1.7-4.5.4-3.6.8-.6.5-1.3-.5-1 .7-3.2-.7-4.8.9-3.5.1-11.5-1.1-1.2.3-.3 1.3-5.7-.4-2.5.4-.5-1.3-.8-.3-1.2.2-.2 1.1-.8.3-12.3-.5-5.2-.8-1 1.2-2.5-.8-1 .8-1.8-.7-1 .7-1.5-.5-.5.8-1.9-.5-.6 1-1.7-1-.8 1-2-.7-.5 1-2.2-.8-.5 1z"/>
<path fill-rule="evenodd" fill="#3aff43" d="M456.1 499.1l-1.5 0-.5-1-1.5.6-.5-.9-1.7.8-.5-.7-1.5.4-.8-.8-1.2.6-.8-.8-1.7.9-.5-.9-1.5.6-.5-.8-1.8.5-.5-.9-2 .9-.5-1-1.7.6-.8-.8-1.5.6-.7-.8-1.8.7-1-1.1-2.2.8-1-.3-.5.6-1.3-.6-.7.7-2.5-.4-2.6.3-.7.5-3 .1-4.2-1.6-1.5-4-3 0-25.8-5.3 0-156.5 189.8 0 0 151.7-19 6.2-.8.5-1.3 3.1-1.9 1.5-5.3 1.8-3.7.3-3.8 1.2-1-.3-.7.6-1.6-.6-.7 1.1-2.2-.4-3.8.6-.8-1.3-2.9-.2-2.3.2-.5 1.3-1.5.1-14-1.4-4.7.7-6.8-.7-1.1.3-.2 1-.9.2-4-.1-1.8-1-.7.9-.8.1-5.7-.9-.8.9-2.2-.7-.8.8-1.7-.7-.5.7-1.8-.5-.5.9-2-.8-.5.9-2-.7-.5 1-2-.8-.5 1-2.7-.9-.8 1.4z"/>
<path fill-rule="evenodd" fill="#40ff3f" d="M458.6 497.4l-3.5-.8-1.7.8-.5-.8-1.5.8-.8-.6-1.5.4-.5-.7-1.5.4-.7-.7-1.5.7-.8-.8-1.5.5-.5-.8-1.5.6-.7-.9-1.8.8-.5-.8-1.7.5-.8-.8-1.5.6-.7-.8-1.8.8-.5-.8-1.2.2-1-.7-.5.5-1-.1-.8.5-3.2-.3-.8 1-8.3-.2-3.4-1.5-1.3-3.4-29-5.6 0-155.3 189.8 0 0 150.5-19.5 6-2.3 3.9-1.7 1.4-6.3 2-2.7 0-4 1.4-1.3-.6-.7.8-2.8-.6-.5 1.1-.7.2-1-1.3-4.5.6-10.8-.8-.7.2-.3 1-.7.4-8.5-.9-3.5.9-8.3-.9-6.5.1-4.2-.4-.6 0-.7 1.2-3-1-.7 1-2.3-.8-.7.7-1.5-.6-.5.9-1.8-.6-.5.9-2-.8-.5.9-1.7-.7-.8.9-2-.6-.5.9z"/>
<path fill-rule="evenodd" fill="#45ff3b" d="M457.1 496.5l-3-.2-.5-.9-1.2.6-.8-.5-1.5.6-.7-.9-1.5.6-.5-.9-1.5.7-.5-.8-1.8.6-.7-.7-1.4.4-.6-.8-1.5.6-.8-.8-1.7.8-.5-.8-1.8.5-.7-.8-1.5.6-.8-.8-1.7.7-.8-1-1.5 0-.5.7-1-.3-.7.6-1.3-.6-.7.6-2.8-.3-7.2.3-3-1.6-1-3.1-2 0-27.3-5.4 0-154.1 189.8 0 0 150.4-19.8 5.2-1 .6-1 2.5-1.2 1.3-3.8 1.6-9 1.9-3-.1-.7 1-2.5-.5-5 .9-4.5-.1-13.8-1.3-.6.1-.6 1.4-3.8.1-.6-.2-.4-1.3-5.2-.1-.6.1-.4 1.2-.5.2-7.3.1-9-1.2-.7.9-2.3-.7-.5 1-2-.8-.5.7-1.7-.5-.5.8-1.8-.6-.7.7-1.8-.7-.5 1-2-.7-.5 1-2.2-1-.8 1.5z"/>
<path fill-rule="evenodd" fill="#4bff37" d="M459.1 494.9l-3.7-1.1-2.3.9-.7-.6-1.5.8-.5-.8-1.5.5-.5-.8-1.5.5-.8-.8-1.5.8-.7-.8-1.5.6-.5-.8-1.5.4-.8-.8-1.7.8-.8-.9-1.7.6-.5-.8-1.8.6-.5-.9-1.7.9-.7-.8-1.6-.5-.7.5-1-.1-.5.6-3.3-.3-.7.8-8 0-3.8-2.1-1-2.5-29.5-5.1 0-153.6 189.8 0 0 147.2-20.3 6.8-.7.6-1.6 3.4-3.2 1.9-4.2 1.2-5.8.9-.7.5-1.3-.5-.7.7-2.3-.5-.5 1.1-2.5.2-.5-1.2-.5-.1-2.7.3-8-.5-.8.3-.1 1-1.4.2-11.2-1.2-3.8.9-7.2-.8-10.5-.1-.8.2-.5 1.1-3.7-.9-.8.8-2.2-.7-.5.7-1.8-.5-.5.7-1.7-.5-.5.9-1.8-.7-.7.7-1.8-.6-.7.9-1.8-.8-.5 1.2z"/>
<path fill-rule="evenodd" fill="#50ff32" d="M457.9 493.7l-2.8-.5-1.2.4-.5-.7-1.8.8-.5-.9-1.5.6-.5-.9-1.5.6-.5-.9-1.5.7-.7-.7-1.5.7-.8-.9-1.5.6-.5-.9-1.7.7-.5-.8-1.8.7-.7-1-1.5.7-.8-.9-1.7.7-.8-.8-1.5.7-1.7-.9-.5.5-1.3-.3-.5.7-1.5-.6-.7.7-2.5-.5-7 .5-3.1-2.2-.9-2.3-29.8-6.1 0-151.1 189.8 0 0 146.3-21.3 6.9-1.5 3.3-3.2 2.2-11.3 2.4-1.5-.4-.5 1-2.7-.7-5.3 1-3.7-.1-11.3-1.2-.8.3-.4 1.3-5.5-.5-2.5.6-.5-.2-.3-1.3-.7-.2-1 .1-.8 1.5-13-.2-6.2-.9-.8 1-2-.9-.7 1.1-2-.9-.5.8-1.8-.6-.5.9-1.7-.6-.5.9-1.8-.9-.7 1-1.8-.7-.7.8-2-.7-.5 1.2z"/>
<path fill-rule="evenodd" fill="#54ff2c" d="M455.9 492.7l-1.3-.3-.5-.7-1.5.5-.5-.8-1.5.8-.7-.7-1.5.3-.5-.7-1.5.4-.5-.6-1.8.7-.5-.9-1.5.6-.7-.8-1.5.7-.5-1-2 .9-.5-.9-1.8.5-.5-.8-1.7.6-.8-.8-1.7.7-1.5-1-.8.5-1-.3-.5.5-1.5-.3-.5.5-1.5-.4-.8 1-6.4-.2-2.9-.6-2.9-3.8-1.2-.6-28.8-4.7 0-150.9 189.8 0 0 145.9-9.8 3-11.2 2.7-1 .7-1.2 3-3.1 2.1-10.2 2.4-1-.4-.8.5-2-.4-.5 1.1-4 .3-1-1.4-7.2-.1-.9 1.4-1.4.1-12.5-1.4-.8.3-.1 1-.6.3-1-1.4-2.5.5-6.2-.6-10.3.1-.7.1-.3 1-.5.1-2.3-.1-2.2-.8-.7.8-2.3-.7-.5.8-1.5-.6-.7.8-1.6-.6-.7.9-1.7-.7-.8.7-1.5-.7-.7 1.1-1.8-.7-.7 1-2.8-1-.7 1.5z"/>
<path fill-rule="evenodd" fill="#59ff27" d="M458.6 490.9l-3.2-.6-1.8.8-.7-.9-1.5.8-.8-.6-1.2.5-.5-.9-1.5.5-.8-.8-1.5.7-.7-.7-1.5.4-.5-.6-1.5.4-.5-.9-2 .8-.5-.8-1.8.6-.5-.8-1.7.5-.8-.8-1.7.8-.5-.8-1.3.5-1.5-.9-.7.7-3.3-.3-.5.7-2.7-.4-6.5.6-2-1.4-2-3.3-1.3-.5-29-4.9 0-149.2 189.8 0 0 143.5-9.5 2.5-12 4-2 3.9-2 1.6-2 .9-8.3 1.9-1.5.2-1.2-.4-.8 1-2.7-.8-4.5.7-3.8.1-8.2-.9-1.7.1-.3 1.2-.5.2-7.8-.9-4 .9-6.2-.6-9.3.1-5.5-.7-.7 1-2-.7-.8.9-2-.8-.5.7-1.5-.5-.7.8-1.5-.4-.5.8-2-.8-.5.7-2-.4-.5.8-1.8-.8-.5 1z"/>
<path fill-rule="evenodd" fill="#5dff21" d="M457.1 490l-2.7 0-.8-1-1.2.6-.8-.6-1.5.7-.5-1-1.5.7-.5-1-1.5.7-.5-.8-1.7.8-.5-.9-1.5.6-.8-.9-1.5.6-.7-.8-1.8.7-.7-.9-1.5.7-.8-.9-1.5.6-.7-.8-1.8.7-.5-.9-.7-.2-.5.5-1.3-.3-.5.7-1.2-.4-.5.6-1.8-.5-.7 1-3.3-.1-1.2-.8-4 .5-1.8-1.8-1.2-2.7-1.5-.7-29.3-5.7 0-146.9 189.8 0 0 143.3-21.8 5.8-.7.4-1.4 3.3-2.1 1.6-10.3 2.8-1.2-.5-.8.6-1.5-.4-.7 1.1-1.8-.3-3.6.6-.4-.3-.2-1-.8-.2-3.1.2-.4 1-1.5.3-12.7-1.4-.8.1-.5 1.4-4.2.2-.5-.2-.5-1.3-4.5-.2-2.2.1-.6 1.3-2.2.3-2.8-.3-.7-1-4-.3-1.3 1.3-3-.2-2.2-.9-.8 1.1-2-.7-1 .6-1.2-.6-.8.8-1.5-.5-.7.9-1.5-.7-.8.8-1.7-.6-.8.9-1.5-.7-.7.9-2.3-.9-.5 1.4z"/>
<path fill-rule="evenodd" fill="#62ff1c" d="M458.9 488.4l-3.5-1-2 .9-1-.8-1.5.9-.5-.8-1.3.5-.7-.8-1.5.5-.5-.8-1.8.8-.5-.8-1.5.5-.5-.8-1.5.6-.7-.8-1.8.8-.7-.9-1.5.6-.8-1-1.5.7-.7-.8-1.8.8-.5-.7-1.2.1-1-.7-.8.6-1.2-.3-.5.7-1.5-.5-.8.6-1.5-.3-6.5.5-2.4-.8-1.3-1.8-1-3.2-1-.5-29.8-6 0-144.3 189.8 0 0 140.8-22.8 7.4-1.5 3.4-3.5 2.2-9.2 2-1.4-.3-.6.8-2.5-.7-7.3.6-7.5-.7-1.1.3-.2 1-1.4.3-9.8-1.4-4.2 1-7.3-.6-7.2.4-5.5-.7-1 1-2.3-.8-.7 1.2-2-.9-.5.6-1.8-.4-.5.8-1.5-.6-.5.9-1.7-.8-.8.9-1.7-.6-.5.9-1.8-.7-.7 1z"/>
<path fill-rule="evenodd" fill="#67ff17" d="M457.9 487.2l-2.8-.4-1.2.4-.5-.9-1.5.7-.8-.6-1.2.6-.5-1-1.5.6-.5-.8-1.8.5-.5-.7-1.7.7-.5-.9-1.5.6-.5-.8-1.8.7-.5-.9-2 .8-.4-.9-1.8.5-.5-.8-1.8.7-.5-.8-1.7.8-.8-1-.5.3-1.2-.3-.5.6-1.3-.3-.7.7-1.8-.7-.3.8-.7.2-2.5 0-1.2-.8-3.8.5-2-1.6-1.5-4.1-1-.5-30-5 0-144 189.8 0 0 139.6-22.5 7.3-1 .6-1.1 2.8-2.9 1.9-2.3.9-2.5 0-4 1.3-3.2-.2-.5 1.1-2.3-.4-6.7.8-13.8-1.4-1 1.5-5.2-.6-2.8.7-.5-1.4-.7-.2-1.4.2-.1 1-.5.3-10.5.1-5-.3-4.3-.9-.7.8-2-.6-.8.8-1.5-.6-.7.7-1.5-.5-.5.8-1.8-.6-.7.7-1.5-.6-.8.9-1.7-.8-.5 1.1-2-.9-.5 1.2z"/>
<path fill-rule="evenodd" fill="#6cff12" d="M455.6 486.2l-.8-.1-.4-1-1.5.5-.8-.6-1.5.7-.5-.8-1.5.5-.5-.7-1.5.3-.7-.5-1.5.6-.5-.6-1.5.3-.8-.6-1.5.4-.5-.8-2 .8-.5-.9-1.7.6-.5-.9-1.8.6-.5-.8-2 .8-.5-.8-1.7-.4-.5.7-1.3-.3-.5.6-1.7-.6-.5.7-6.9.2-.6-.5-2.8-.3-1.1-1.4-1.1-3.1-2 0-29.3-4.9 0-143.8 189.8 0 0 138.3-22.3 7.5-1.2 0-1.5 3.2-4.5 2.6-2.3 0-5.2 1.6-1.3-.3-.7.7-2.1-.6-.4 1-.6.3-1.6 0-.3-1-.5-.2-3 .2-6.8-.4-.7 1.4-1.5.1-11-1.4-.6.3-.3 1.2-1.1.1-1-1.4-2.5.5-5.5-.5-9 .5-4.5-.5-.6.1-.4 1-.5.1-2.5-.8-.5.7-2.3-.6-.5.7-1.5-.5-.7.8-1.5-.5-.5.8-1.8-.8-.7.8-1.5-.7-.5.9-1.8-.6-.7 1-2.8-1-.5.2-.5 1.3z"/>
<path fill-rule="evenodd" fill="#73ff0d" d="M458.4 484.5l-3.3-.7-1.5.7-.5-.7-1.7.7-.5-.8-1.3.5-.7-.7-1.3.5-.7-.8-1.5.7-.8-.7-1.5.6-.5-.9-1.5.6-.5-.8-1.7.6-.8-.9-1.7.7-.5-.9-1.8.6-.7-.8-1.8.7-.5-.8-1.5.6-1.7-.9-.8.8-1.2-.5-.8.7-1.9-.5-.3.8-.8.2-2-.1-.7-.7-4 .4-2.3-1.6-1.5-3.8-3-.1-28.5-5.8 0-141.3 189.8 0 0 136.7-23.3 7.7-.7.4-1.5 3-3.8 2.4-3 .2-4 1.5-3-.2-.5.9-2.5-.6-4.5.8-4.2-.1-9-1-.7.1-.3 1.2-.8.2-7.5-1-3.2 1-6-.4-9 .4-7-1.2-.8 1-1.7-.8-.8 1-1.7-.8-.8.8-1.5-.6-.5.9-1.5-.7-.7 1-1.5-.8-.8.8-1.7-.7-.5 1-2-.7-.5 1z"/>
<path fill-rule="evenodd" fill="#7aff09" d="M457.1 483.5l-2.7-.1-.5-1-1.3.7-.7-.8-1.5.7-.8-.7-1.2.6-.5-.9-1.5.5-.8-.8-1.5.9-.7-.9-1.5.5-.5-.9-1.5.8-.8-1-1.7.8-.5-.8-1.8.6-.5-.9-1.7.6-.8-.7-1.7.6-1.8-1-.5.5-1.2-.3-.8.6-1.7-.5-.5.8-1.5-.4-3.8.6-.7-.7-2.8.1-2-1.3-1.2-3.3-31.8-5.4 0-140.9 189.8 0 0 136.4-15.3 4.4-7.7 2.7-1.3 0-1.7 3.2-3.5 2.2-2.3 0-5.2 1.7-1-.3-.8.6-2-.4-.5 1-3.6.3-.5-1.3-2.6-.2-4 0-.6 1.2-.9.3-11.3-1.4-.8.1-.7 1.5-4.5 0-1-1.3-15.5.2-3.6-.4-.8.3-.1.7-.7.3-3.3-1-.5.8-2.2-.6-.5.7-1.5-.5-.5.7-1.5-.3-.8.6-1.5-.6-.7.7-1.7-.5-.6.8-1.7-.7-.5 1.1-2.3-1-.5 1.4z"/>
<path fill-rule="evenodd" fill="#80ff04" d="M458.9 482l-3.5-1.1-2 .8-.8-.6-1.5.7-.5-.6-1.5.5-.5-.9-1.5.5-.5-.8-1.7.8-.5-.8-1.5.6-.5-.8-1.5.4-.8-.8-1.7.8-.8-.9-1.5.7-.7-1-1.5.7-.8-.7-1.7.7-.5-.8-1.5.5-1.5-1-.5.8-1.5-.5-.5.8-2-.6-1 1-1.8 0-.7-.8-3.3.5-3.1-1.5-1.4-3.7-32-5.4 0-139.4 189.8 0 0 133.9-24 8-1 .7-1.3 2.7-2.2 1.6-7.8 2.2-2.7-.1-.8 1-2.5-.8-4.7.8-10.3-1-.9.3-.1 1-.5.3-10.2-1.4-3.5 1-7.3-.5-7.5.7-7-.9-.7.8-2-.6-.5.9-1.8-.8-.7.8-1.5-.6-.5.9-1.5-.6-.5.9-1.8-1-.7 1-1.5-.7-.8.9-1.7-.5-.5 1z"/>
<path fill-rule="evenodd" fill="#87ff00" d="M457.9 480.7l-3.8 0-.7-.8-1.3.6-.7-.5-1.5.5-.5-.9-1.5.5-.5-.9-1.5.6-.5-.7-1.8.7-.5-.6-1.5.4-.5-.8-1.7.5-.5-.7-1.8.7-.7-.9-1.8.5-.5-.8-1.6.8-.6-1-1.8.8-.5-1-.7-.2-.5.6-1.3-.3-.7.7-1.8-.6-.5.9-2.2-.4-2.8.5-.7-.6-2.7.1-2.1-1.3-1.2-3.2-1.3-.6-31-6.3 0-136.9 189.8 0 0 132.5-24.5 8-.8.5-1.4 3-2.6 1.8-7.7 2.2-1-.4-.8.6-1.5-.3-.7.9-5.3.3-1-1.4-1.1.3-.5 1-1.1.2-12.5-1.4-.8.2-.5 1.3-5.2-.6-3 .7-.4-1.4-.6-.2-1.5.2-.2 1-.6.3-6.5.1-2.2-.1-.8-1.3-4.7-.1-.7.1-.3 1-.5.2-2.8-.2-1.7-.8-.8.9-2-.7-.5.7-1.5-.5-.7.7-1.3-.6-.7.9-1.3-.6-1 .6-1.5-.5-.7.8-1.5-.6-.5 1-2-.8-.5 1.1z"/>
<path fill-rule="evenodd" fill="#8eff00" d="M455.6 479.7l-.7-.1-.5-.9-1.5.5-.5-.8-1.5.9-.8-.8-1.2.4-.8-.9-1.2.6-.8-.6-1.5.6-.7-.6-1.3.5-.7-.9-1.5.6-.5-.8-2 .7-.5-.8-1.8.5-.5-.9-1.5.6-.7-.8-2 .8-.5-.7-1 .1-1.3-.6-.5.7-1.5-.3-.7.6-2-.5-.4.8-.6.2-1.5-.1-.5-.7-2.8.5-2-.5-1.7-1.2-1.3-3.2-1.2-.6-31.3-6.2 0-135.7 189.8 0 0 131.4-24.8 8.2-1.2.9-1.1 2.3-2.4 1.8-2.3.2-4.5 1.8-2.5-.3-.7 1-2.3-.8-6.7.5-6.5-.5-.6.3-.2 1-1.5.1-9.7-1.4-.7.3-.2 1.2-1.9.2-.7-1.5-2 .5-9-.3-5.8.6-6.7-.8-.8 1-2-.7-.5 1-1.7-.7-.8.6-1.2-.5-.8.7-1.5-.3-.5.6-1.7-.7-.5.8-1.8-.6-.5.9-1.7-.7-.5 1-3-.9-.4.1-.4 1.3z"/>
<path fill-rule="evenodd" fill="#94ff00" d="M458.4 477.9l-3.3-.5-1.5.7-.5-.9-1.5.8-.7-.7-1.3.5-.5-.7-1.5.3-.7-.7-1.3.7-.7-.8-1.5.7-.5-.9-1.5.6-.8-.9-1.5.7-.5-.9-2 .8-.5-.9-1.7.5-.5-.7-1.8.6-.5-.8-1.7.7-.8-1.1-.5.5-1.5-.3-.5.8-1.7-.7-.8.9-1.5-.5-3 .6-.7-.5-2.3 0-1.5-.6-1.2-1.1-1.1-2.7-1.2-.6-31.5-5.2 0-135.5 189.8 0 0 129.9-25.3 8.3-1 .8-1.5 2.8-2 1.5-7.2 2.1-3-.2-.5.9-1.8-.2-6.5.6-11.5-1.3-.7.1-.3 1.2-.5.2-7.2-1.1-3.8 1.1-11.5 0-2-.2-.3-1-1.4-.3-1 .3-.5 1-3.5-.2-2.3-.7-.5.8-2.2-.5-.5.7-1.5-.6-.8.6-1.2-.5-.5.9-1.5-.6-.8.7-1.5-.7-.7.9-1.8-.6-.5.9-1.7-.7-.5.9z"/>
<path fill-rule="evenodd" fill="#9bff00" d="M456.6 477.1l-2.1-.2-.6-.9-1.3.5-.7-.6-1.5.7-.5-.7-1.5.5-.5-.8-1.5.5-.5-.9-1.8.9-.5-.9-1.2.5-.8-.6-1.5.4-.7-.8-1.8.8-.7-1-1.5.8-.5-.9-1.8.6-.5-.8-2 .6-.5-.6-1.7-.6-.8.9-1.2-.5-.8.7-2-.6-1.1 1-1.2 0-.7-.8-2 .6-.7-.6-1.3.1-1.6-.8-.9-.9-1.1-2.8-1.1-.6-31.8-5.2 0-134 189.8 0 0 129-25 8.3-1.3.1-2 3.1-1.7 1.4-6.3 2.1-2.5-.2-.5.8-2.2-.6-.3 1-.7.3-.8 0-.6-1.3-.9-.1-8.2-.1-.5.2-.1 1-.9.3-10.5-1.4-.5.3-.1 1.1-.7.2-3-.3-1.7.3-.8-1.3-8.7-.2-6.5.7-6.3-.6-.6.2-.4.7-2.2-.5-.5.9-2-.8-.5.6-1.3-.4-.7.6-1.3-.3-.7.7-1.5-.8-.8.8-1.5-.5-.5.8-1.7-.6-.8.9-2-.9-.4 1.3-.6.2z"/>
<path fill-rule="evenodd" fill="#a2ff00" d="M458.9 475.4l-3.5-.9-2 .9-.8-.7-1.2.7-.8-.6-1.2.5-.8-.9-1.5.5-.5-.9-1.5.8-.7-.8-1.5.5-.5-.7-1.3.6-.7-.9-1.8.7-.5-.9-1.7.6-.8-.8-1.5.7-.7-1-1.8.9-.5-.8-1.5.6-2-1-.7.9-1.8-.7-.7.9-1.8-.5-2.5.6-3-.6-2.3-1.2-1.6-3.5-1.1-.6-32-7.7 0-130 189.8 0 0 128.8-26 7.1-.8.4-1.7 2.8-1.3 1.1-7 2.5-3 0-.5.8-2-.5-4.2.7-4.3-.2-7.2-.9-.7.2-.3 1.2-1 .1-8.8-1.4-3.7 1-8-.3-6.3.7-6.7-.6-1.5-.5-.5.8-1.8-.6-1 .8-1.5-.7-.7.7-1.3-.5-.5.9-1.5-.5-.5.6-1.7-.6-.8.8-1.5-.7-.5 1-1.7-.7-.5 1z"/>
<path fill-rule="evenodd" fill="#a8ff00" d="M457.6 474.3l-2.2-.3-1.3.3-.7-1-1.3.8-.7-.7-1.3.6-.5-.8-1.5.5-.7-.9-1.3.5-.7-.5-1.5.6-.8-.7-1.2.5-.5-.9-1.5.6-.8-.8-1.7.7-.8-.8-1.5.5-.7-.8-1.5.5-.8-.7-1.7.8-.5-.8-1.3-.5-.7.8-1.5-.5-.5.8-2.3-.6-.7.9-1.3.1-.7-.8-1.8.6-3.6-1.4-2-3.5-1.1-.6-18-3.5-14.3-3.3 0-129.9 189.8 0 0 125.5-26.5 8.7-1.3 1.3-1.2 2.5-1 .8-6.3 2.4-2.2-.1-.8.9-1.7-.6-.8 1.1-3.2.1-.8-1.3-5.5 0-.4 1.2-1.1.1-10-1.3-.5.2-.5 1.4-5.2-.8-3 .8-.4-.1-.2-1.3-.7-.1-1.1.1-.8 1.3-1.8.2-4.8-.2-.7-1.3-5.3.4-4.7-.4-.8 0-.5 1.1-2.2-.9-.8.9-2-.6-.5.6-1.2-.4-.8.6-1.2-.5-.8.9-1.5-.7-.7.8-1.3-.7-.7.8-1.5-.5-.8.8-2-.7-.5 1.2z"/>
<path fill-rule="evenodd" fill="#afff00" d="M455.4 473.2l-1-1.1-1.3.5-.7-.6-1.5.7-.5-.6-1.5.4-.5-.9-1.5.5-.5-.6-1.8.8-.5-.8-1.5.5-.5-.9-1.5.5-.7-.7-1.8.8-.5-.8-1.7.5-.5-.9-1.5.6-.8-.8-1.7.8-.8-.9-1.2.5-1.5-.8-.8.7-1.7-.5-.8.9-2-.5-2.2.5-.8-.7-3.5-.6-2.3-3.6-1.2-.6-32.5-8 0-127.4 189.8 0 0 122.7-27 10.3-3 4.3-6.8 2.8-2.7-.2-.5 1-2.3-.7-4.7.6-8.5-.9-.8.3-.1 1.1-.9.2-9.5-1.4-.5.2-.2 1.2-2.5.3-.8-1.5-2.5.4-8-.1-6.5.8-7-1.1-.5.8-2-.5-.5.8-1.7-.7-.8.7-1.2-.5-.5.7-1.5-.4-.5.8-1.5-.8-.8.8-1.6-.5-.6.8-1.5-.6-.5.9-3.3-.9-.7 1.4z"/>
<path fill-rule="evenodd" fill="#b6ff00" d="M458.4 471.4l-3.3-.4-1.2.5-.8-.7-1.5.7-.5-.6-1.2.5-.8-1-1.2.6-.8-.7-1.5.5-.5-.7-1.5.7-.6-.9-1.4.5-.7-.7-1.5.6-.8-.8-1.7.8-.5-1-1.8.6-.5-.8-1.7.6-.5-.8-1.8.6-1.2-1.1-.5.7-1.8-.4-.5.8-2.2-.6-1 .9-1 0-.5-.6-1.8.2-3.2-1-2.3-3.6-34-11.1 0-123.6 189.8 0 0 122.5-11 4.3-17 5.4-2.3 3.7-6 2.6-2.2.1-.5.5-1.8-.4-.5 1-8.5.4-11-1.4-.6.3 0 1-.6.2-7-1.2-4 1.3-10.3 0-.8-.3-.7-1.1-6.7-.1-.7.2-.6 1.1-3-.9-.7.8-2-.7-.5.6-1.4-.4-.6.6-1.3-.4-.7.8-1.5-.5-.5.5-1.5-.5-.8.9-1.5-.7-.5.9-1.7-.6-.5.8z"/>
<path fill-rule="evenodd" fill="#bcff00" d="M457.1 470.5l-2.5 0-.7-1-1.3.7-.5-.8-1.5.8-.7-.9-1.3.4-.7-.7-1.3.6-.7-.8-1.5.8-.5-.7-1.5.3-.5-.6-1.5.5-.8-.8-1.7.7-.5-.8-1.9.4-.4-.8-1.5.7-.7-.8-2 .7-.5-.7-1 .2-1.3-.7-.7.9-1.8-.7-.7 1-2-.5-2.3.5-.7-.7-3.3-.8-2-3.3-1.2-.6-33.3-11 0-121.9 189.8 0 0 121.4-27.8 9.3-1 .7-1.3 2.6-2 1.5-4.7 1.8-2.5.1-.5.8-2.2-.8-5 .4-6.8-.5-.5.2-.2 1-.8.3-9.5-1.3-.5.1-.5 1.4-3.2-.4-2.3.5-.7-1.4-8.3-.1-7.5 1-6.7-.9-.5.9-2-.7-.8.9-1.5-.8-.7.7-1.3-.4-.5.7-1.5-.4-.5.8-1.5-.7-.7.7-1.5-.5-.5.8-1.5-.7-.8 1-2-1-.5 1.4z"/>
<path fill-rule="evenodd" fill="#c3ff00" d="M451.4 468.9l-.8-.7-1.2.4-.5-.7-1.5.5-.5-.9-1.5.7-.8-.5-1.2.6-.8-1-1.5.6-.5-.9-1.5.7-.7-.9-1.8.8-.5-.8-1.7.4-.5-.7-1.8.6-.7-.7-1.5.5-.8-.9-.5.5-1.7-.5-.8.8-2.2-.6-.7.9-1.1.1-.5-.7-1.7.1-2.8-1-2.2-3.5-1-.5-33.8-11.3 0-120.2 189.8 0 0 120.5-27.5 9.3-1.3 0-1.5 2.8-1 .9-5 2.4-2 0-.7.6-1.5-.4-.5.9-7.8.3-9.5-1.2-.8.2-.1 1-.6.3-8.5-1.4-4.7 1.1-7.3-.2-4.7.5-.8-.2-.4-1.1-3.1-.1-1.1.1-.4 1-1 .2-1.7-.1-2-.9-.8.8-2-.6-.5.6-1.2-.5-.8.7-1.2-.5-.5.8-1.5-.5-.5.8-1.8-.7-.5.9-1.5-.8-.5.8-1.7-.4-.5.8-3.5-.8-2 .8-.8-.7-1.2.8z"/>
<path fill-rule="evenodd" fill="#caff00" d="M457.4 467.9l-3.3-.2-.5-.7-1.2.5-.8-.6-1.5.5-.5-.7-1.5.5-.5-.9-1.2.5-.8-.5-1.5.7-.7-.8-1.3.4-.7-.6-1.5.4-.5-.8-2 .8-.5-.8-1.5.5-.5-.8-1.8.5-.7-.8-1.8.8-.5-.6-1.7-.7-.8.9-2-.6-.5 1-2.2-.5-2 .4-3.8-1.7-1.7-2.9-35.3-11.7 0-119.3 189.8 0 0 118.8-29.3 9.7-1.5 3-2.5 1.8-3.5 1.4-2.2 0-.8.7-2-.6-.7 1.3-.7-.1-.3-1-.8-.2-8 0-.4 1.2-.6.1-9.5-1.3-.5.2-.5 1.4-5.5-.9-3 1-1-1.5-1.5.3-.3.7-.7.2-3.5.2-1.2-.1-.2-1-.6-.3-6.5.8-6.5-.8-.7.9-1.8-.5-.5.9-1.7-1-.8.8-1.2-.4-.5.6-1.3-.4-.7.7-1.5-.7-.5.8-1.5-.6-.8.8-1.5-.5-.5 1-2-1-.2 1.1-.5.3z"/>
<path fill-rule="evenodd" fill="#d0ff00" d="M455.4 466.4l-.8-.8-1.5.7-.7-.7-1.5.7-.5-.7-1.5.3-.5-.7-1.3.5-.7-.7-1.5.8-.5-.8-1.5.5-.8-.7-1.2.5-.5-.9-1.8.7-.7-.8-1.5.7-.8-.9-1.5.6-.7-.9-1.8.7-.7-.8-1.3.7-2.2-.9-.8.7-3-.6-.5 1-.7 0-.5-.6-1.5-.1-3-1.5-1.5-2.5-1.3-.6-34.5-11.5 0-117.7 189.8 0 0 117.5-29 9.5-.9.8-1.4 2.7-2.2 1.6-2.8 1.2-3.9.2-.6.8-1.5-.3-5.7.5-8.3-1-.7.3-.1 1-.9.2-8.5-1.4-1 1.6-3-.1-.5-1.2-2 .3-6.8-.2-6.2.9-1-.1-.3-1-.7-.2-1 .2-.8 1-3 0-2.5-.9-.7.9-1.5-.7-1 .5-1.3-.5-.7.8-1.3-.5-.5.8-1.5-.5-.5.7-1.5-.8-.7.9-1.5-.6-.5.9-1.5-.5-.8.8-3-.9-.5.1-.2 1z"/>
<path fill-rule="evenodd" fill="#d7ff00" d="M458.1 464.9l-3-.4-1.2.5-.8-.8-1.2.8-.8-.7-1.2.6-.5-.9-1.5.5-.8-.7-1.2.5-.5-.8-1.5.8-.8-.7-1.2.5-.8-1-1.5.8-.7-.9-1.8.7-.5-.9-1.7.7-.5-1-1.5.7-.8-.8-1.7.7-.5-.7-1.3-.4-.7.9-2-.7-.8 1-2-.5-1.7.4-2.9-1.7-2.3-3-1.1-.6-35-11.5 0-116.2 189.8 0 0 116.3-30 10-1.7 3-2.3 1.7-2.8 1.1-2.2 0-.5.7-1.8-.6-.7 1.2-3 .1-.6-1.2-2.9-.3-1.2.3-.6 1.1-1.5.1-9.4-1.2-.8 1.4-7-1.2-3.8 1.3-9 0-.8-.3-.2-1-.5-.1-4.2.5-6.3-.4-1 .8-1.7-.7-.8 1-1.5-.7-.7.5-1.3-.4-.5.7-1.2-.4-.8.7-1.5-.6-.5.5-1.5-.3-.5.7-1.5-.5-.7.9-1.5-.8-.8.9z"/>
<path fill-rule="evenodd" fill="#deff00" d="M456.9 464.1l-2.3-.1-.5-.9-1.5.4-.5-.6-1.5.7-.5-.7-1.5.4-.5-.6-1.3.4-.7-.8-1.5.7-.7-.5-1.3.4-.5-.8-1.5.4-.7-.7-1.8.8-.5-.8-1.7.4-.5-.8-1.8.5-.5-.7-2 .7-.5-.7-1.2.4-2-.9-.5 1-3-.7-.7.9-.8 0-.5-.7-1.3 0-1.7-1.1-2.3-2.8-23-7.6-13.5-3.9 0-115.7 189.8 0 0 114.9-29.8 9.8-1 .8-1.2 2.5-2 1.6-2.3 1-3.7.4-.5.6-1.5-.5-5 .5-7.5-.8-.5.2-.3 1.2-.7.1-8.8-1.3-.7 1.5-3.8-.5-2 .6-1-1.4-8.2 0-6.5 1.1-5.3-.2-3-.8-.5.7-1.7-.5-.8.6-1.2-.4-.8.5-1.2-.4-.5.8-1.3-.4-.7.6-1.5-.7-.8.9-1.2-.6-.8.8-1.5-.5-.5.7-2-.8-.7 1.4z"/>
<path fill-rule="evenodd" fill="#e4ff00" d="M458.6 462.4l-3.2-.8-1.8.8-.7-.7-1.5.7-.5-.6-1.5.3-.5-.6-1.3.5-.7-1-1.3.6-.7-.5-1.5.7-.5-1-1.5.5-.8-.7-1.2.6-.8-.9-1.7.9-.8-.9-1.5.5-.7-.8-1.5.6-.5-.8-1.8.7-1.2-1.1-.8.8-2.2-.6-.8.9-3.5-.3-2.2-1.2-1.8-2.6-1.7-.9-10.8-2.5-25-7.3 0-115.6 189.8 0 0 113.8-29.5 10-1.3 0-1.5 3-2 1.4-2.5 1.3-2-.1-.7.8-1.5-.6-.5.9-8 .4-9.5-1.3-.4.2-.3 1.2-1.1.1-7.2-1.3-.6.2-.2 1.3-.5.1-.4-.1-.6-1.4-2.7.9-10 .3-1-.1-.7-1.2-3.3.4-5.3-.4-.7.1-.5.8-1.8-.7-.7 1-1.8-.8-.5.6-3-.1-.7.7-1.3-.5-.7.5-1.3-.5-.7.9-1.5-.7-.5 1-1.5-.8-.8 1z"/>
<path fill-rule="evenodd" fill="#ebff00" d="M457.4 461.4l-3.3-.2-.5-.8-1.2.6-.8-.6-1.2.7-.8-.8-1.2.5-.5-.9-1.5.5-.5-.6-1.8.7-.5-.8-1.2.4-.8-.6-1.5.5-.5-.9-1.7.8-.8-.9-1.5.7-.5-.8-1.7.5-.8-.9-1.7.8-.5-.7-1 .2-1.8-.6-.7.9-3.3-.8-.7 1-3-1.5-2-3.2-1.5-.8-36.3-11.7 0-112 189.8 0 0 112.5-30.5 9.9-.8.4-1.2 2.6-1.5 1.2-2.5 1.4-3.3.2-.5.7-2-.5-4.5.3-6-.5-.6.3-.1 1-1.3.2-8-1.3-.4.1-.6 1.4-5.5-1-3 1.1-.7-.2-.1-1-.4-.2-6.5-.2-8 1.3-5.5-.5-1.5-.6-.8.8-1.7-.5-.5.6-1.5-.6-.5.7-1.3-.5-.5.8-1.2-.4-.8.7-1.5-.6-.5.6-1.5-.5-.5.8-1.5-.6-.5.8-2-.6-.7 1.2z"/>
<path fill-rule="evenodd" fill="#f2ff00" d="M459.4 459.7l-3.3-.9-2.7.9-.8-.7-1.5.7-.7-.6-1.3.5-.5-.9-1.2.6-.8-.8-1.5.7-.7-.8-1.3.6-.7-.8-1.3.6-.5-.9-1.7.6-.5-.7-1.8.6-.7-.8-1.5.6-.8-.9-1.5.6-.7-.7-1.5.6-.8-1-.7.9-2.3-.8-.7 1.1-3.5-.5-2-1.3-1.6-2.8-1.4-.9-21.3-5.8-15.5-4.7 0-111.9 189.8 0 0 112.4-31.5 9.2-1.3 2.4-2 1.7-2 1-2 .1-.5.5-1.5-.3-.5.8-5.7.4-9.8-1.2-.7.2-.2 1.1-.6.2-8-1.3-.4.1-.3 1.4-3.5.1-.8-1.4-8.5.3-4.7.7-.7-.1-.6-1.1-6.7-.1-1.3.2-.5.7-1.7-.6-.8.8-1.7-.6-2.5.7-1-.4-.8.8-1.2-.4-.5.6-1.5-.8-.5.9-1.5-.6-.8.9-1.5-.6-.2.9z"/>
<path fill-rule="evenodd" fill="#f8ff00" d="M454.1 458.6l-.7-.7-1.5.6-.6-.6-1.4.4-.5-.8-1.3.6-.7-.8-1.3.6-.5-.9-1.7.7-.5-.6-1.5.4-.5-.7-1.5.4-.5-.7-1.8.7-.7-.8-1.5.6-.8-.9-1.5.6-.7-.7-1.8.6-.5-.6-2.2-.5-.8.9-3-.7-2 .4-2-1.2-1.7-3.3-38.3-11.3 0-110.2 189.8 0 0 112.2-31.3 7.8-2.2 3.4-2.8 1.8-3.2.4-.8.7-1.7-.6-9.5 0-.5 1.1-.8.2-8.2-1.3-1.3 1.6-6.7-1.4-3.8 1.4-8 0-.7-.3-.1-1-.4-.1-5.3 1-6.2-.3-1.5-.5-.5.7-1.8-.6-.5.8-1.5-.6-.7.6-1-.4-.8.6-1.2-.3-.5.7-1.5-.6-.5.4-1.5-.2-.5.6-1.3-.6-.7.9-1.5-.6-.8 1-2.7-.5-1.3.5z"/>
<path fill-rule="evenodd" fill="#ffff00" d="M456.9 457.6l-2.3 0-.5-1.1-1.2.6-.8-.6-1.2.6-.8-.6-1.2.3-.8-.6-1.2.4-.5-.8-1.5.7-.8-.6-1.2.5-.8-.7-1.3.4-.7-.8-1.5.7-.7-.8-1.8.5-.5-.8-1.5.6-.7-.8-1.8.8-.5-.8-1.5.5-3-.9-.5.1-.5.9-3-.5-2-.9-2-3.8-1-.5-6.7-2.2-30.8-7.5 0-109.8 189.8 0 0 110.9-31.5 8-1 .7-1.3 2.3-2.2 1.7-2.8.6-.5.6-1.2-.4-.8.7-5.7.3-8.3-1-.7 1.4-.8 0-7.7-1.3-.5.2-.4 1.3-3.6-.6-2.5.7-.8-1.4-5.7 0-7.5 1.1-1-1.2-5.5-.1-1.5.3-.3.7-2-.7-.7.7-2-.6-.5.6-1-.3-.8.6-1.2-.3-.5.5-1.3-.3-.5.7-1.5-.8-.5.8-1.5-.5-.5.6-1.5-.3-.7.8-2-.9-.5 1.4z"/>
<path fill-rule="evenodd" fill="#ffff00" d="M458.6 455.9l-3.2-.8-1.8.7-.7-.7-1.3.9-.7-.7-1.3.4-.5-.7-1.2.5-.8-.8-1.2.3-.8-.5-1.5.7-.5-.8-1.5.5-.5-.7-1.5.5-.5-.8-2 .7-.5-.8-1.7.4-.5-.7-1.5.5-.8-.7-1.7.7-2-1.2-1 1-2.5-.6-2 .3-1.9-.9-1.6-3-1.5-.8-6.8-1.3-31-7.8 0-109.6 189.8 0 0 109.9-32.5 8.1-1.5 2.7-2.1 1.6-3.4.6-.5.7-1.8-.5-.7 1.2-1.8 0-.4-1-1.1-.3-3.5.1-.6 1.2-.9.1-8.5-1.2-.5.1-.3 1.2-.7.1-7-1.3-.6 1.5-1.1.1-.6-.1-.4-1.3-2.3.8-9 .3-.6-.1-.3-1-.6-.2-5 .9-5-.3-1.5-.6-.5.8-1.7-.4-.5.7-1.8-.8-.5.6-1.2-.3-.5.7-1.3-.4-.5.7-1.2-.5-.8.3-1.2-.3-.8.8-1.2-.5-.5.9-1.5-.6-.8.8z"/>
<path fill-rule="evenodd" fill="#ffff00" d="M457.4 454.9l-3-.1-.5-.7-1.5.3-.5-.6-1.3.7-.7-.7-1.3.5-.7-.7-1.3.4-.5-.8-1.7.7-.5-.6-1.3.4-.7-.7-1.3.5-.7-.8-1.8.7-.5-.7-1.7.4-.5-.8-1.5.5-.8-.7-1.7.8-.5-.8-1.5.5-2.5-1-.5 0-.5 1-2.8-.5-2-.9-1.7-3.4-39.3-9.8 0-107.9 189.8 0 0 108.8-32.8 8-1.6 2.7-1.6 1.3-3.3 1.2-1.2-.1-.5.5-6 .2-6.8-.8-.6.2-.1 1-.8.2-7.5-1.3-.4.1-.6 1.4-5.5-1-3.5 1.2-.8-.3-.3-1-1.6-.4-4.8.2-5.7 1.1-.6-.2-.4-1-4.5-.1-1.8 1.2-2.2-.8-1 .7-1.8-.7-.5.5-1.2-.3-.5.5-1.3-.3-.5.6-1.2-.3-.5.8-1.5-.8-.5.7-1.5-.3-.5.6-1.5-.4-.5.8-1.8-.9-.7 1.3z"/>
<path fill-rule="evenodd" fill="#ffff00" d="M459.1 453.3l-3.2-1-2.5 1-.8-.7-1.2.6-.8-.5-1.2.4-.5-.7-1.5.5-.5-1-1.3.6-.7-.5-1.5.5-.5-.7-1.5.4-.5-.7-1.5.6-.8-.9-1.7.9-.5-.9-1.8.4-.5-.7-1.5.6-.7-.9-1.5.7-2-1-.5.9-2-.5-1.8.3-2.5-.9-2-3.5-39.5-9.7 0-106.8 189.8 0 0 106.7-32.5 8.5-1 .7-1.3 2.4-1.7 1.3-2.9.7-.6.7-1.5-.5-.5 1-.8.2-7.7 0-7.3-1.2-.5.3-.1 1-.6.1-7-1.2-1 1.5-4 0-.5-1.3-11.3 1.1-.6-.2-.2-1-.4-.1-4 .7-6.5-.8-.7.9-1.6-.6-.7.9-1.5-.7-.8.6-1-.3-2.2.8-3.3-.5-.5.9-1.5-.5-.5.7-1.5-.5-.5.9z"/>
<path fill-rule="evenodd" fill="#ffff00" d="M458.1 452l-3-.3-1 .4-.7-.7-1.3.5-.7-.6-1.3.5-.5-.6-1.2.5-.5-.8-1.5.3-.5-.6-1.5.7-.8-.6-1.2.3-.8-.6-1.2.5-.8-.9-1.7.8-.8-.8-1.5.5-.5-.8-1.7.5-.5-.8-1.8.8-.5-.7-1.2.4-2.5-1-2.8.7-2.2-.9-1.9-3.6-1.1-.5-9.8-3.2-29-8.3 0-103 189.8 0 0 106.6-15.3 4-18.2 3.7-2.4 3.5-3.4 1.5-1-.2-.5.6-12-.5-.5 1.1-.7.2-7.5-1.2-.6 1.2-.7.2-6.2-1.3-3.8 1.4-4.5.1-2.2-.1-.5-1.1-.8-.2-6.2 1-.3-1-1.2-.3-1.8.2-.7.8-1.5-.6-3-.1-.8.7-1.7-.5-.8.5-1-.3-.7.6-1-.5-.5.8-1.3-.4-.5.6-1.5-.5-.5.4-1.2-.4-.8.9-1.2-.5-.8.7-1.5-.7-.5 1z"/>
<path fill-rule="evenodd" fill="#ffff00" d="M456.4 451.2l-1.5-.2-.5-.8-1.5.5-.5-.7-1.3.6-.7-.6-1.3.5-.5-.9-1.5.4-.5-.7-1.5.7-.7-.6-1.3.5-.5-.7-1.5.4-.5-.8-1.5.6-.7-.7-1.5.6-.8-.8-1.7.5-.5-.7-1.5.5-.8-.7-1.5.5-1.2-1.1-.8 1.1-4.2-.5-1.8-.8-1.7-3.1-1.3-.5-10.7-2.5-28.3-8.2 0-102.9 189.8 0 0 104.6-33.8 8.3-2.5 3.7-3 1-.7.7-1.3-.3-.7.9-7 .1-7.3-1.1-.5.3-.2 1.1-.8 0-7-1.2-.7 1.4-3.5-.7-2.5.8-1-1.3-6.8.2-4.2.8-1.5-1.2-2.5.5-9.3-.3-.7.7-1.5-.5-.5.5-1-.4-.8.5-1-.2-.7.6-1.3-.3-.5.5-1.2-.7-.5.8-1.5-.3-.5.8-1.5-.5-.5.6-2.3-.7-.7 1.4z"/>
<path fill-rule="evenodd" fill="#fff600" d="M453.9 449.4l-.8-.7-1.2.7-.8-.6-1.2.4-.5-.6-1.3.3-.7-.8-1.3.5-.7-.6-1.3.7-.7-.7-1.4.4-.6-.7-1.3.5-.7-.9-1.8.9-.7-.9-1.5.5-.5-.7-1.8.5-.5-.8-1.7.8-.5-.7-2.8-.5-1.5.5-2-.2-1.8-.8-1.7-2.9-40.5-10.1 0-102.8 189.8 0 0 103.5-32 8-2 .1-2.3 3.5-3.7 1.2-.8.9-1.5-.6-9.5-.1-.6 1.3-.6.1-7-1.2-.5.2-.3 1.1-.5.1-6.2-1.2-.7 1.4-1.6.1-.4-.1-.3-1.2-2.3.7-7.7.4-.7-.2-.6-1.1-5 1-.6-.1-.6-1-4.3.4-7.2-.2-.8.7-1-.2-.7.6-1-.3-.8.5-1.2-.5-.8.5-1-.4-.7.9-1.3-.5-.5.7-1.5-.5-.7.7-3-.5-1.5.6z"/>
<path fill-rule="evenodd" fill="#ffed00" d="M457.4 448.5l-2.8-.2-.7-.8-1.3.4-.5-.5-1.5.6-.5-.7-1.2.6-.5-.9-1.5.4-.5-.7-1.5.7-.8-.6-1.2.5-.5-.8-1.5.5-.5-.8-1.5.5-.8-.6-1.7.5-.8-.6-1.5.4-.5-.8-1.7.7-.5-.7-1.8.3-.5-.8-.7.8-4.8-.8-1.2-.7-1.5-3-1-.5-9.8-3.3-30-8.5 0-99 189.8 0 0 101.5-33.8 8.5-1 .8-1.7 3-3.3 1.4-1.2-.1-.8 1-5.5.3-7.7-1.1-.5.2-.2 1-1.1.2-6.2-1.2-.7.3-.3 1.1-5-1-3.5 1.1-.8-1.4-6.2.1-5 1.1-1-1.3-2.5.4-7-.3-2.5.5-3-.2-.5.6-1-.2-.8.7-1-.4-.7.6-1.3-.8-.5.7-1.5-.4-.5.9-1.2-.4-.8.6-1.7-.8-.5 1.4z"/>
<path fill-rule="evenodd" fill="#ffe400" d="M458.9 446.7l-3.3-.8-2 .8-1-.6-1.2.7-.5-.6-1.3.3-.5-.7-1.5.4-.5-.7-1.2.5-.8-.6-1.5.6-.5-.7-1.2.5-.8-.8-1.2.5-.8-.7-1.7.7-.8-.9-1.5.7-.5-.9-1.7.5-.5-.7-1.8.7-.5-.6-6-.5-1.3-.7-1.4-2.5-1.3-.6-10.7-2.5-29.3-8.5 0-98.9 189.8 0 0 99-22 6-12.8 4.1-2 3.4-4.2 1.7-8.8-.3-1.7 1.3-7.3-1.1-.4.2-.2 1-.6.2-6-1.3-.5.1-.5 1.4-3.8 0-.7-1.1-10 .9-1.3-1.3-3.5.5-7.7-.5-8.8.8-.7.7-1.3-.5-.7.4-1.2-.3-.6.7-1.2-.5-.5 1-1.5-.5-.5.6z"/>
<path fill-rule="evenodd" fill="#ffdb00" d="M457.6 445.7l-3.5 0-.5-.8-3.2.5-.5-.8-1.3.4-.7-.6-1.3.4-.5-.7-1.5.7-.7-.6-1.3.4-.5-.7-1.5.4-.5-.8-1.7.8-.8-.8-1.5.4-.7-.7-1.5.5-.5-.7-1.8.7-.7-.8-1.3.4-.5-.7-1.5.3-3.2-.5-1.3-.7-1.5-2.3-1.2-.4-40.3-10.1 0-98.8 189.8 0 0 98.9-11 2.4-23.5 6-2.5 3.7-5.3 2.2-5 .3-6.7-.8-.5 1.1-.8.2-6.7-1.2-.5.2-.1 1-.7.3-6-1.3-4.7 1.4-2.6-.1-.4-1-1-.4-6 .8-10.3-1-9.2 1.2-.8.7-1.2-.7-.8.6-1.2-.3-.5.6-1.3-.4-.7.9-1.5-.7-.8 1z"/>
<path fill-rule="evenodd" fill="#ffd100" d="M455.4 444.6l-.8-.9-1.5.4-.5-.7-1.5.8-.5-.6-1.2.3-.5-.7-1.5.4-.5-.7-1.3.5-.7-.5-1.5.5-.5-.8-1.3.5-.5-.7-1.7.3-.5-.6-1.8.6-.7-.8-1.5.5-.5-.8-1.5.4-1-.6-1.3.5-6.2-.9-2.5-3.1-2 0-39.8-10 0-97.8 189.8 0 0 98.8-17.3 3.9-16 3-2.2 1-1.8 3-4.5 1.9-6.2-.3-.7 1.2-1.8.1-7-1.1-.8 1.3-.5 0-6.2-1.2-.8 1.4-3.5-.6-2.2.7-.8-1.2-10 .9-.7-1-2 .2-9.3-.7-8.2 1.3-2-.2-.8.5-1-.3-.7.8-1.3-.5-.5.8-1.2-.5-.8.9-1.5-.9-1.2 0-.5.1-.5 1.2z"/>
<path fill-rule="evenodd" fill="#ffc800" d="M454.1 442.9l-.7-.6-3.3.5-.5-.8-1.2.5-.8-.8-1.2.4-.5-.6-1.5.6-.8-.7-1.2.3-.5-.7-3.5.2-.8-.4-7.7-.4-4.5-.8-1-.3-2.2-2.7-1.1-.5-41-10.3 0-95.7 189.8 0 0 96.2-35 8.8-1 .8-1.5 2.6-3 1.5-2.8.6-9.7-.5-.5 1.3-.8.1-6.7-1.2-.5 1.3-.5.1-5.8-1.2-.5 1.4-1.5.1-.7-1.4-2.5.9-6 .3-.8-.2-.7-1.2-4.3.5-9.2-.9-9.5 1.6-1.8-.3-.7.5-1-.2-.8.7-1.2-.5-.5.7-1.5-.5-.8.9-3-.4-1 .4z"/>
<path fill-rule="evenodd" fill="#ffbf00" d="M457.1 442l-2.4-.1-.6-.7-1.2.3-.5-.7-1.5.7-.5-.6-1.3.3-.5-.7-1.4.4-.6-.7-1.2.3-18.8-2-2-.8-1.8-2.1-1.4-.6-21.8-7.3-19.5-5.9 0-91.7 189.8 0 0 95.1-36 8.9-1.8 3.1-5.2 2-8.8.3-4.4-.6-.5 1.2-.6.2-6.5-1.2-1 1.4-4.5-1-3 1.1-.3-1.2-.7-.3-9.7.6-5.5-.8-5.8-.3-5.2.6-4.5 1.1-4 .1-.5.8-1.3-.5-.7.7-1.8-.8-.5 1.4z"/>
<path fill-rule="evenodd" fill="#ffb500" d="M458.6 440.2l-3.2-.6-1.8.8-.5-.8-1.5.6-.5-.6-1.2.3-.5-.7-5-.1-17.8-2.1-4.7-3.5-10.8-2.5-31-9.3 0-91.6 189.8 0 0 91-35 11.8-1.3.1-2 3.1-5 1.7-10 .1-1.2.5-5-.8-.6.3-.1 1-.6.2-5.7-1.2-.5 1.2-.5.2-3.3-.1-.5-1.1-8 .8-1-.6-14-1.3-10 2-4.5.1-.5.9-1.2-.5-.8.7z"/>
<path fill-rule="evenodd" fill="#ffac00" d="M457.6 439.2l-3.2-.1-.5-.8-7.3-.3-19.2-2.2-5-3.7-4.3-1.4-38-15.2 0-85.4 189.8 0-.3 89.7-35.7 11.7-.9.6-1.9 2.8-4 1.4-13.5.4-1.2.6-5-.9-.5.2-.1 1-.7.3-5.2-1.3-3.5 1.3-1.8.1-.5-.1-.3-1-.7-.4-4.5.6-14-1.7-9.7 2.1-5.5.4-.8.8-1.5-.6-.5 1.1z"/>
<path fill-rule="evenodd" fill="#ffa300" d="M458.9 437.4l-2.8-.7-2.5.5-4.5-.3-21.5-2.5-4.7-3.6-42.8-16 0-84.7 189.8 0 0 88.3-6.5 1.7-30 10-3 3.6-2.5 1.1-14.8.9-2.6-.3-1.1.7-4.8-.9-.4.2-.3 1.2-3-.5-2.3.5-.7-1.2-8.3.4-14-2.3-9.7 2.6-6.5.7-.5.6z"/>
<path fill-rule="evenodd" fill="#ff9900" d="M457.6 436.2l-28.4-2.8-1.6-.5-2.2-2.3-2-1.2-32-10.5-11.3-4.2 0-84.6 189.8 0 0 88.2-24.8 7-12 3.9-.8.4-2.2 2.8-2.7 1-16.8 1-2.7-.4-1.3.9-4.7-.8-.5 1.3-1.3.2-.7-1.3-3.6.8-1.7-.7-2.2.2-8-1-8.3-2-9.3 3-6.2 1.2-1.8-.2-.7.6z"/>
<path fill-rule="evenodd" fill="#ff8f00" d="M455.4 434.9l-9.8-1.4-16.4-1.6-1.6-.8-2.5-2.6-3.2-1.6-41.8-17.3 0-79.5 189.8 0 0 88-25.8 7.5-12 2.7-2.2 2.5-2 1.2-19.8 1.1-3-.3-.7 1-3.8-.7-2.5 1-1-1.4-2.7.6-7.5-.6-11.3-2.9-8.2 3.1-12 2z"/>
<path fill-rule="evenodd" fill="#ff8400" d="M457.1 433.4l-3.7 0-8-1.3-16-1.7-1.3-.5-2.5-2.7-3.2-1.5-42.3-16.2 0-79.4 189.8 0-.3 84.3-38 12.4-2.7 3-1.5.8-21.5 1.3-3-.5-.5 1.2-3 .3-.8-1.3-4.2.4-9.3-1.1-3.7-1.7-5.8-1.3-4.5 1.6-3.7 2-10.3 1.9z"/>
<path fill-rule="evenodd" fill="#ff7a00" d="M457.4 431.9l-4 .1-7.8-1.3-16-1.7-3.5-3.1-19-6.2-27-10.3 0-79.3 189.8 0 0 82.7-38 12.5-3.8 3.4-1.5.5-20.7 1.4-5.3-.5-2.5.7-9.7-.8-3.3-.7-3-1.7-4.2-1.2-2-2.9-1.5 2.8-7.8 3.9-9.2 1.7z"/>
<path fill-rule="evenodd" fill="#ff6f00" d="M454.9 430.7l-25-3.3-1.4-.8-1.9-2-3.2-1.6-43.3-17.2 0-75.7 189.8 0 0 78.9-38.5 15-3.5 3.1-1.3.6-28 1.9-10.5-1.1-2.7-.8-5.6-2.8-3.7-6.6-3.7 7-6.5 3.6-6.5 1.4-4.5.4z"/>
<path fill-rule="evenodd" fill="#ff6500" d="M456.9 429.1l-6.3-.3-20.5-3.1-3.2-2.5-4.5-2.1-42.3-16 0-75 189.8 0 0 71.5-27.5 13.7-11.8 7.3-3.7 3.2-27 2.5-10.3-1-2.5-.6-5-2.8-5.7-6.6-.4 1.6-1.6 1.8-3.3 3.1-5.2 3.5-9 1.8z"/>
<path fill-rule="evenodd" fill="#ff5b00" d="M457.4 427.6l-5.8-.1-21.5-3.6-3.7-2.4-17.8-5.8-28.5-10.8 0-74.8 189.8 0 0 71.4-39.8 20-3.2 2.4-10.8 1.7-16.2 1.3-10.3-1-4.5-2.1-6.5-4.3-2.5-2.9-6 6-4.2 2.9-3.3 1.2-5.2.9z"/>
<path fill-rule="evenodd" fill="#ff5000" d="M454.9 426.4l-24.8-4.3-3.2-1.9-4.3-1.3-42.5-17 0-71.8 189.8 0 0 71.3-26 13-12.3 5-4.7 2.7-13.3 2.3-11.7.9-2.5.2-8-.8-2.3-.6-4.2-2.2-8.3-6.2-.5-1.2-7 7-3.5 2.3-4 1.7-3 .7-3.7.2z"/>
<path fill-rule="evenodd" fill="#ff4600" d="M457.4 424.9l-4.3 0-13.2-3.3-10-1.5-49.8-24.7 0-65.3 189.8 0-.3 68.5-40.7 20.3-2 1.3-15.8 3-11.7.9-8.3-1-6-3-9-7.3-10.5 9.1-3.7 2-4.5 1z"/>
<path fill-rule="evenodd" fill="#ff3d00" d="M456.9 423.6l-2.8-.1-13.2-3.5-11.3-1.9-49.5-49.6 0-38.4 178 0-4.2 8.5-3.1 7.5-10 28.5-13.5 40.5-.6 3-17.8 3.8-9.8.8-5.5-.7-3.2-.9-4-2.2-10-8.6-.2 2.3-6.3 5-9.3 5.2-3.7.8z"/>
<path fill-rule="evenodd" fill="#ff3400" d="M457.1 422.1l-3-.3-8.7-2.5-10.7-2.4-.1-24.5-1.5-20-1.2-7.3-9.5-35 135.7 0-20.7 44.8-14.3 41.9-16.7 4-7.5.5-3.5-.5-4-1.1-4-2.1-11.3-9.5-10 9.8-7 3.9-2 .3z"/>
<path fill-rule="evenodd" fill="#ff2a00" d="M457.9 420.4l-2.8-.1-11.5-3.2-1.3-.5-.8-1-3.5-14.7-4.5-24.8-1.3-10-9.8-36 135.7 0-36 77.5-2.4 8-15.3 3.9-5.5.4-4-.7-5.5-2.2-11.8-7.7-1.5-1.4 0-2.3-.5-.6-11 11.8-6.7 3.6z"/>
<path fill-rule="evenodd" fill="#ff2100" d="M457.6 418.7l-3.2-.4-9-2.9-11.6-41-1.8-9.3-9.5-35 135.6 0-5.1 10.3-24.3 53-11.6 21-11 3.3-7.5.8-9.5-3.5-13.2-10.3-8.5 7.2-3.8 3.7-6 3.1z"/>
<path fill-rule="evenodd" fill="#ff1700" d="M500.9 417l-2.5-.1-8.2-3.3-14.3-14.4-.3 2.2-13 13-3.7 2.1-2 .5-8.6-2.6-7.9-24.5-8.4-24-9.5-35.8 135.5 0-5.1 10.3-15.5 34.1-22.4 38.6-14.1 3.9z"/>
<path fill-rule="evenodd" fill="#ff0e00" d="M501.1 415.4l-2.5-.1-7.1-2.9-15.6-15.7-.3 2.2-14.2 14.3-4.3 2-6.1-1.8-5.7-11.8-6.4-16.2-6.4-18-10-37.3 135.5 0-4.4 9-17.3 28.8-15 27.2-8.4 16.8-11.8 3.5z"/>
<path fill-rule="evenodd" fill="#ff0700" d="M500.6 413.9l-2.2-.5-5.5-2.4-5.5-7.4-11.8-13.5-.1 3.3-10 11.7-4.9 6.6-3.2 1.7-3.9-1-20.9-45-10-37.3 135.4 0-4.5 9-14.2 23.8-17.2 26.7-9 15.5-2.5 5.5-10 3.3z"/>
<path fill-rule="evenodd" fill="#ff0000" d="M500.4 412.2l-6.3-2.5-10.5-10.6-8.1-9.2-.1-1.2-16.3 21.8-1.7 1-1.5-.3-4.8-7.1-6-10.4-12.5-26.3-10-37.3 135.4 0-4.6 9-14.2 23.8-30.6 46.6-8.2 2.7z"/>
</g>
<line x1="559.3" y1="339.4" x2="559.3" y2="607" class="g"/>
<line x1="386.6" y1="606" x2="559.3" y2="606" class="g"/>
<line x1="559.3" y1="339.6" x2="563.3" y2="339.6" class="g"/>
<line x1="559.3" y1="431" x2="563.3" y2="431" class="g"/>
<line x1="559.3" y1="522.4" x2="563.3" y2="522.4" class="g"/>
<line x1="559.3" y1="564.1" x2="563.3" y2="564.1" class="g"/>
<line x1="559.3" y1="606.9" x2="563.3" y2="606.9" class="g"/>
<line x1="386.6" y1="606" x2="386.6" y2="608.5" class="g"/>
<line x1="472" y1="606" x2="472" y2="608.5" class="g"/>
<line x1="557.2" y1="606" x2="557.2" y2="608.5" class="g"/>
<text x="567.8" y="337.8" font-size="6.4" textLength="26.6" lengthAdjust="spacingAndGlyphs">300000.00</text>
<text x="568.4" y="429.2" font-size="6.4" textLength="26" lengthAdjust="spacingAndGlyphs">150000.00</text>
<text x="567.4" y="528" font-size="6.4" textLength="11.6" lengthAdjust="spacingAndGlyphs">-100</text>
<text x="569" y="569.7" font-size="6.4" textLength="3.4" lengthAdjust="spacingAndGlyphs">0</text>
<text x="565.8" y="612.5" font-size="6.4" textLength="8.2" lengthAdjust="spacingAndGlyphs">100</text>
<text x="387.2" y="616.7" font-size="6.4" textLength="6" lengthAdjust="spacingAndGlyphs">12</text>
<text x="472.7" y="616.7" font-size="6.4" textLength="3.3" lengthAdjust="spacingAndGlyphs">6</text>
<text x="557.6" y="616.7" font-size="6.4" textLength="3.3" lengthAdjust="spacingAndGlyphs">0</text>
<text x="454" y="626.4" font-size="6.6" textLength="34.5" lengthAdjust="spacingAndGlyphs" class="bt">Distance (cm)</text>
<text x="587.6" y="580.8" font-size="6.2" textLength="28" lengthAdjust="spacingAndGlyphs" class="bt" transform="rotate(-90 587.6 580.8)">dy (mm)</text>
<text x="469.8" y="652.4" font-size="16.5" textLength="14.8" lengthAdjust="spacingAndGlyphs">d)</text>
<rect x="618.7" y="381.5" width="37.7" height="202" fill="none" stroke="#2a2a2a" stroke-width="1"/>
<line x1="618.7" y1="393.8" x2="656.4" y2="393.8" class="cb"/>
<line x1="618.7" y1="572" x2="656.4" y2="572" class="cb"/>
<rect x="620.8" y="400.8" width="8.7" height="27.8" fill="#ff0000"/>
<rect x="620.8" y="428.2" width="8.7" height="27.8" fill="#fff000"/>
<rect x="620.8" y="455.5" width="8.7" height="27.8" fill="#7dff00"/>
<rect x="620.8" y="482.9" width="8.7" height="27.8" fill="#00ff78"/>
<rect x="620.8" y="510.3" width="8.7" height="27.8" fill="#00f0ff"/>
<rect x="620.8" y="537.6" width="8.7" height="27.8" fill="#0000ff"/>
<text x="631.2" y="405.1" font-size="5.8" textLength="20.8" lengthAdjust="spacingAndGlyphs">300000.0</text>
<text x="631.2" y="432.5" font-size="5.8" textLength="20.8" lengthAdjust="spacingAndGlyphs">250000.0</text>
<text x="631.2" y="459.8" font-size="5.8" textLength="20.8" lengthAdjust="spacingAndGlyphs">200000.0</text>
<text x="631.2" y="487.2" font-size="5.8" textLength="20.8" lengthAdjust="spacingAndGlyphs">150000.0</text>
<text x="631.2" y="514.6" font-size="5.8" textLength="20.8" lengthAdjust="spacingAndGlyphs">100000.0</text>
<text x="631.2" y="541.9" font-size="5.8" textLength="18.1" lengthAdjust="spacingAndGlyphs">50000.0</text>
<text x="637.2" y="568.6" font-size="5.8" textLength="5.9" lengthAdjust="spacingAndGlyphs">0.0</text>
<text x="620.7" y="391.5" font-size="5.8" textLength="33.9" lengthAdjust="spacingAndGlyphs">Max: 2.61E+05</text>
<text x="620.9" y="580.1" font-size="5.8" textLength="33.2" lengthAdjust="spacingAndGlyphs">Min: 1.12E+02</text>
<text x="602.8" y="408.3" font-size="5.6" textLength="45.7" lengthAdjust="spacingAndGlyphs" class="bt" transform="rotate(90 602.8 408.3)">Mag._B (uTesla)</text>
</svg></body></html>
